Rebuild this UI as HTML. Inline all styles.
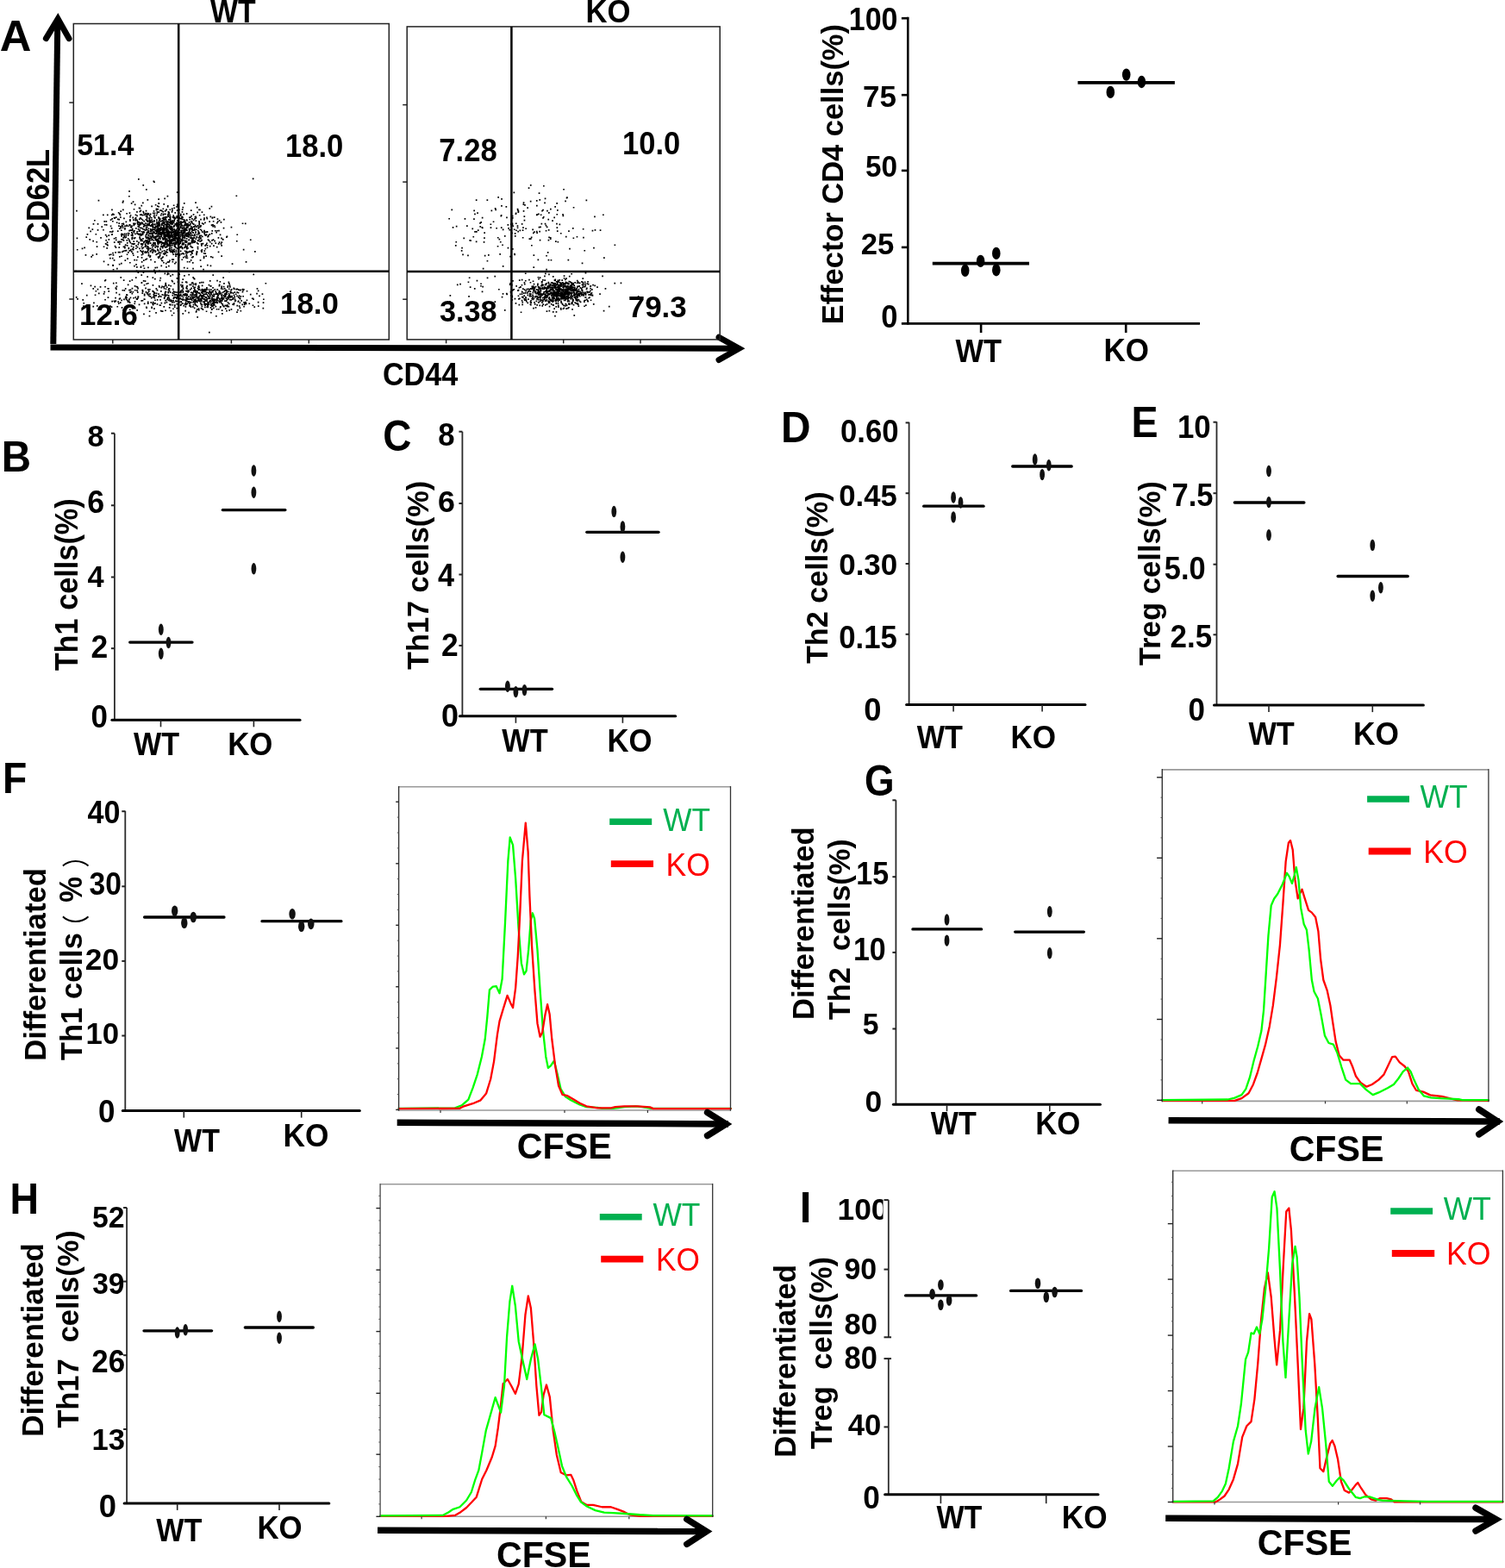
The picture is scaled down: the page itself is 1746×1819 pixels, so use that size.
<!DOCTYPE html>
<html><head><meta charset="utf-8"><title>Figure</title>
<style>html,body{margin:0;padding:0;background:#fff;overflow:hidden;}svg{display:block;}</style>
</head><body>
<svg width="1746" height="1819" viewBox="0 0 1746 1819">
<rect width="1746" height="1819" fill="#fff"/>
<text transform="translate(-0.27,58.60) scale(1.0083,1)" font-family="&quot;Liberation Sans&quot;, Arial, sans-serif" font-weight="bold" font-size="50.33" fill="#000" style="white-space:pre">A</text>
<line x1="61.80" y1="399.00" x2="66.80" y2="24.00" stroke="#000" stroke-width="7" stroke-linecap="butt"/>
<polyline points="53.40,44.60 67.20,22.00 80.00,44.60" fill="none" stroke="#000" stroke-width="7" stroke-linecap="round" stroke-linejoin="miter"/>
<line x1="58.50" y1="402.90" x2="856.00" y2="404.20" stroke="#000" stroke-width="7" stroke-linecap="butt"/>
<polyline points="834.00,391.20 857.30,404.30 834.00,417.50" fill="none" stroke="#000" stroke-width="7" stroke-linecap="round" stroke-linejoin="miter"/>
<rect x="85.3" y="27.5" width="366.0" height="366.5" fill="none" stroke="#222" stroke-width="1.5"/>
<line x1="80.30" y1="119.00" x2="85.30" y2="119.00" stroke="#222" stroke-width="1.5" stroke-linecap="butt"/>
<line x1="80.30" y1="209.20" x2="85.30" y2="209.20" stroke="#222" stroke-width="1.5" stroke-linecap="butt"/>
<line x1="80.30" y1="347.00" x2="85.30" y2="347.00" stroke="#222" stroke-width="1.5" stroke-linecap="butt"/>
<line x1="130.80" y1="394.00" x2="130.80" y2="398.50" stroke="#222" stroke-width="1.5" stroke-linecap="butt"/>
<line x1="268.40" y1="394.00" x2="268.40" y2="398.50" stroke="#222" stroke-width="1.5" stroke-linecap="butt"/>
<line x1="358.30" y1="394.00" x2="358.30" y2="398.50" stroke="#222" stroke-width="1.5" stroke-linecap="butt"/>
<rect x="472.2" y="30.9" width="363.00000000000006" height="363.0" fill="none" stroke="#222" stroke-width="1.5"/>
<line x1="467.20" y1="121.60" x2="472.20" y2="121.60" stroke="#222" stroke-width="1.5" stroke-linecap="butt"/>
<line x1="467.20" y1="211.10" x2="472.20" y2="211.10" stroke="#222" stroke-width="1.5" stroke-linecap="butt"/>
<line x1="467.20" y1="347.20" x2="472.20" y2="347.20" stroke="#222" stroke-width="1.5" stroke-linecap="butt"/>
<line x1="517.60" y1="393.90" x2="517.60" y2="398.40" stroke="#222" stroke-width="1.5" stroke-linecap="butt"/>
<line x1="653.70" y1="393.90" x2="653.70" y2="398.40" stroke="#222" stroke-width="1.5" stroke-linecap="butt"/>
<line x1="743.00" y1="393.90" x2="743.00" y2="398.40" stroke="#222" stroke-width="1.5" stroke-linecap="butt"/>
<path d="M197.0 274.9h1.7v1.7h-1.7zM191.2 259.4h1.7v1.7h-1.7zM187.5 258.1h1.7v1.7h-1.7zM198.3 288.4h1.7v1.7h-1.7zM186.7 262.9h1.7v1.7h-1.7zM207.3 275.6h1.7v1.7h-1.7zM199.2 258.9h1.7v1.7h-1.7zM196.4 280.0h1.7v1.7h-1.7zM168.8 265.1h1.7v1.7h-1.7zM157.1 254.2h1.7v1.7h-1.7zM158.3 267.9h1.7v1.7h-1.7zM170.4 274.5h1.7v1.7h-1.7zM200.3 268.6h1.7v1.7h-1.7zM144.1 264.0h1.7v1.7h-1.7zM196.0 272.5h1.7v1.7h-1.7zM164.9 264.8h1.7v1.7h-1.7zM176.5 260.5h1.7v1.7h-1.7zM219.3 260.5h1.7v1.7h-1.7zM196.3 282.5h1.7v1.7h-1.7zM184.7 269.5h1.7v1.7h-1.7zM199.3 271.8h1.7v1.7h-1.7zM171.3 272.0h1.7v1.7h-1.7zM225.5 250.9h1.7v1.7h-1.7zM215.0 272.6h1.7v1.7h-1.7zM183.5 297.0h1.7v1.7h-1.7zM213.0 255.4h1.7v1.7h-1.7zM198.6 278.5h1.7v1.7h-1.7zM193.0 279.9h1.7v1.7h-1.7zM195.6 279.7h1.7v1.7h-1.7zM227.2 262.2h1.7v1.7h-1.7zM201.3 265.0h1.7v1.7h-1.7zM199.7 255.6h1.7v1.7h-1.7zM184.8 268.4h1.7v1.7h-1.7zM215.9 285.9h1.7v1.7h-1.7zM169.2 260.7h1.7v1.7h-1.7zM210.6 245.1h1.7v1.7h-1.7zM187.3 269.7h1.7v1.7h-1.7zM223.4 280.0h1.7v1.7h-1.7zM190.1 266.2h1.7v1.7h-1.7zM191.7 290.8h1.7v1.7h-1.7zM188.0 267.1h1.7v1.7h-1.7zM204.4 269.4h1.7v1.7h-1.7zM192.9 256.5h1.7v1.7h-1.7zM196.8 265.2h1.7v1.7h-1.7zM221.5 279.5h1.7v1.7h-1.7zM196.5 279.7h1.7v1.7h-1.7zM189.9 284.7h1.7v1.7h-1.7zM196.9 278.6h1.7v1.7h-1.7zM169.9 275.5h1.7v1.7h-1.7zM161.5 244.5h1.7v1.7h-1.7zM190.6 259.3h1.7v1.7h-1.7zM200.4 300.2h1.7v1.7h-1.7zM179.5 262.9h1.7v1.7h-1.7zM201.3 277.4h1.7v1.7h-1.7zM193.3 268.3h1.7v1.7h-1.7zM211.8 277.8h1.7v1.7h-1.7zM175.3 270.0h1.7v1.7h-1.7zM197.7 257.3h1.7v1.7h-1.7zM202.5 259.8h1.7v1.7h-1.7zM217.4 273.5h1.7v1.7h-1.7zM198.9 263.3h1.7v1.7h-1.7zM194.5 245.0h1.7v1.7h-1.7zM173.2 275.7h1.7v1.7h-1.7zM152.3 282.0h1.7v1.7h-1.7zM160.3 280.8h1.7v1.7h-1.7zM179.2 281.1h1.7v1.7h-1.7zM199.7 251.0h1.7v1.7h-1.7zM223.2 289.7h1.7v1.7h-1.7zM195.6 267.4h1.7v1.7h-1.7zM193.6 258.3h1.7v1.7h-1.7zM220.1 263.9h1.7v1.7h-1.7zM195.9 260.7h1.7v1.7h-1.7zM183.9 254.4h1.7v1.7h-1.7zM223.4 269.0h1.7v1.7h-1.7zM217.3 271.2h1.7v1.7h-1.7zM182.4 266.8h1.7v1.7h-1.7zM185.2 271.1h1.7v1.7h-1.7zM189.1 267.1h1.7v1.7h-1.7zM168.0 260.5h1.7v1.7h-1.7zM231.7 262.3h1.7v1.7h-1.7zM174.9 275.4h1.7v1.7h-1.7zM226.6 252.1h1.7v1.7h-1.7zM192.6 262.8h1.7v1.7h-1.7zM160.0 280.6h1.7v1.7h-1.7zM196.5 271.9h1.7v1.7h-1.7zM181.2 276.9h1.7v1.7h-1.7zM185.7 269.1h1.7v1.7h-1.7zM173.7 255.2h1.7v1.7h-1.7zM225.0 264.4h1.7v1.7h-1.7zM203.1 270.6h1.7v1.7h-1.7zM187.7 264.4h1.7v1.7h-1.7zM210.2 267.1h1.7v1.7h-1.7zM193.8 271.3h1.7v1.7h-1.7zM221.7 279.8h1.7v1.7h-1.7zM205.0 263.7h1.7v1.7h-1.7zM168.0 283.3h1.7v1.7h-1.7zM217.3 269.2h1.7v1.7h-1.7zM208.4 281.2h1.7v1.7h-1.7zM214.5 283.0h1.7v1.7h-1.7zM187.4 290.7h1.7v1.7h-1.7zM170.8 282.2h1.7v1.7h-1.7zM207.4 282.4h1.7v1.7h-1.7zM236.5 290.3h1.7v1.7h-1.7zM173.0 249.0h1.7v1.7h-1.7zM214.2 257.8h1.7v1.7h-1.7zM196.7 281.9h1.7v1.7h-1.7zM162.5 243.6h1.7v1.7h-1.7zM202.4 271.6h1.7v1.7h-1.7zM191.8 271.5h1.7v1.7h-1.7zM178.9 251.3h1.7v1.7h-1.7zM193.5 258.4h1.7v1.7h-1.7zM162.5 277.6h1.7v1.7h-1.7zM195.7 276.3h1.7v1.7h-1.7zM176.2 262.4h1.7v1.7h-1.7zM176.0 259.5h1.7v1.7h-1.7zM201.1 260.8h1.7v1.7h-1.7zM204.5 275.4h1.7v1.7h-1.7zM239.5 252.9h1.7v1.7h-1.7zM215.6 269.8h1.7v1.7h-1.7zM196.7 252.2h1.7v1.7h-1.7zM187.3 280.7h1.7v1.7h-1.7zM195.3 272.1h1.7v1.7h-1.7zM190.9 286.0h1.7v1.7h-1.7zM196.5 242.4h1.7v1.7h-1.7zM182.5 245.4h1.7v1.7h-1.7zM128.7 264.1h1.7v1.7h-1.7zM225.0 271.6h1.7v1.7h-1.7zM172.4 258.8h1.7v1.7h-1.7zM220.7 273.0h1.7v1.7h-1.7zM198.0 270.3h1.7v1.7h-1.7zM197.8 281.5h1.7v1.7h-1.7zM208.6 273.8h1.7v1.7h-1.7zM175.1 277.6h1.7v1.7h-1.7zM182.6 285.2h1.7v1.7h-1.7zM170.3 269.2h1.7v1.7h-1.7zM196.8 253.8h1.7v1.7h-1.7zM233.2 290.0h1.7v1.7h-1.7zM187.3 281.0h1.7v1.7h-1.7zM205.0 237.0h1.7v1.7h-1.7zM202.3 270.2h1.7v1.7h-1.7zM198.7 257.0h1.7v1.7h-1.7zM191.3 268.7h1.7v1.7h-1.7zM221.9 275.3h1.7v1.7h-1.7zM196.9 290.9h1.7v1.7h-1.7zM185.3 265.9h1.7v1.7h-1.7zM158.8 291.4h1.7v1.7h-1.7zM217.3 282.9h1.7v1.7h-1.7zM211.0 272.4h1.7v1.7h-1.7zM201.5 267.7h1.7v1.7h-1.7zM192.7 271.7h1.7v1.7h-1.7zM228.7 278.2h1.7v1.7h-1.7zM195.8 263.5h1.7v1.7h-1.7zM183.7 291.8h1.7v1.7h-1.7zM207.6 271.9h1.7v1.7h-1.7zM189.7 256.6h1.7v1.7h-1.7zM195.6 282.4h1.7v1.7h-1.7zM188.8 268.0h1.7v1.7h-1.7zM192.4 272.4h1.7v1.7h-1.7zM163.5 267.9h1.7v1.7h-1.7zM179.1 282.5h1.7v1.7h-1.7zM180.8 278.5h1.7v1.7h-1.7zM229.0 266.9h1.7v1.7h-1.7zM184.4 273.5h1.7v1.7h-1.7zM197.0 258.1h1.7v1.7h-1.7zM206.7 297.2h1.7v1.7h-1.7zM191.6 268.4h1.7v1.7h-1.7zM175.1 275.1h1.7v1.7h-1.7zM170.8 256.6h1.7v1.7h-1.7zM223.9 259.2h1.7v1.7h-1.7zM219.7 290.8h1.7v1.7h-1.7zM202.4 278.2h1.7v1.7h-1.7zM238.0 268.4h1.7v1.7h-1.7zM184.5 253.4h1.7v1.7h-1.7zM197.9 290.2h1.7v1.7h-1.7zM217.2 258.8h1.7v1.7h-1.7zM179.0 264.4h1.7v1.7h-1.7zM203.1 268.3h1.7v1.7h-1.7zM201.5 274.9h1.7v1.7h-1.7zM190.7 270.5h1.7v1.7h-1.7zM201.3 269.9h1.7v1.7h-1.7zM207.6 295.3h1.7v1.7h-1.7zM209.4 271.7h1.7v1.7h-1.7zM161.6 276.0h1.7v1.7h-1.7zM156.1 252.7h1.7v1.7h-1.7zM214.9 280.2h1.7v1.7h-1.7zM193.9 248.8h1.7v1.7h-1.7zM189.2 262.2h1.7v1.7h-1.7zM210.4 300.4h1.7v1.7h-1.7zM201.6 260.9h1.7v1.7h-1.7zM172.4 270.3h1.7v1.7h-1.7zM193.3 256.0h1.7v1.7h-1.7zM199.4 256.0h1.7v1.7h-1.7zM220.4 284.8h1.7v1.7h-1.7zM219.8 264.8h1.7v1.7h-1.7zM207.8 269.3h1.7v1.7h-1.7zM188.8 266.6h1.7v1.7h-1.7zM169.7 252.2h1.7v1.7h-1.7zM213.7 268.5h1.7v1.7h-1.7zM201.5 284.0h1.7v1.7h-1.7zM160.6 260.8h1.7v1.7h-1.7zM200.7 276.1h1.7v1.7h-1.7zM189.1 284.4h1.7v1.7h-1.7zM201.4 255.2h1.7v1.7h-1.7zM177.5 281.5h1.7v1.7h-1.7zM206.7 246.3h1.7v1.7h-1.7zM225.3 278.8h1.7v1.7h-1.7zM225.2 266.0h1.7v1.7h-1.7zM190.8 256.4h1.7v1.7h-1.7zM250.3 268.7h1.7v1.7h-1.7zM230.3 262.6h1.7v1.7h-1.7zM200.4 249.3h1.7v1.7h-1.7zM189.0 283.8h1.7v1.7h-1.7zM170.7 284.9h1.7v1.7h-1.7zM204.1 257.4h1.7v1.7h-1.7zM186.5 265.0h1.7v1.7h-1.7zM196.0 264.0h1.7v1.7h-1.7zM179.6 267.0h1.7v1.7h-1.7zM175.4 254.2h1.7v1.7h-1.7zM196.0 282.5h1.7v1.7h-1.7zM164.9 271.0h1.7v1.7h-1.7zM183.4 258.3h1.7v1.7h-1.7zM214.9 264.3h1.7v1.7h-1.7zM228.5 260.9h1.7v1.7h-1.7zM205.1 268.0h1.7v1.7h-1.7zM181.2 278.6h1.7v1.7h-1.7zM193.7 278.8h1.7v1.7h-1.7zM196.0 256.9h1.7v1.7h-1.7zM194.9 271.7h1.7v1.7h-1.7zM217.1 259.2h1.7v1.7h-1.7zM196.2 248.6h1.7v1.7h-1.7zM210.7 256.9h1.7v1.7h-1.7zM159.1 270.2h1.7v1.7h-1.7zM220.2 251.2h1.7v1.7h-1.7zM174.2 261.3h1.7v1.7h-1.7zM173.3 275.9h1.7v1.7h-1.7zM180.0 261.6h1.7v1.7h-1.7zM209.2 261.2h1.7v1.7h-1.7zM206.1 258.4h1.7v1.7h-1.7zM171.5 247.1h1.7v1.7h-1.7zM236.1 266.8h1.7v1.7h-1.7zM202.1 270.6h1.7v1.7h-1.7zM200.4 271.6h1.7v1.7h-1.7zM237.1 257.5h1.7v1.7h-1.7zM164.3 257.8h1.7v1.7h-1.7zM169.0 280.7h1.7v1.7h-1.7zM214.2 258.5h1.7v1.7h-1.7zM167.8 266.4h1.7v1.7h-1.7zM226.2 234.3h1.7v1.7h-1.7zM208.1 257.0h1.7v1.7h-1.7zM218.8 257.0h1.7v1.7h-1.7zM191.0 251.4h1.7v1.7h-1.7zM176.5 289.0h1.7v1.7h-1.7zM214.2 265.8h1.7v1.7h-1.7zM178.7 246.4h1.7v1.7h-1.7zM188.7 270.6h1.7v1.7h-1.7zM195.2 269.8h1.7v1.7h-1.7zM173.4 270.1h1.7v1.7h-1.7zM196.2 287.8h1.7v1.7h-1.7zM236.2 269.2h1.7v1.7h-1.7zM180.9 270.2h1.7v1.7h-1.7zM184.2 261.3h1.7v1.7h-1.7zM195.8 257.4h1.7v1.7h-1.7zM209.7 269.6h1.7v1.7h-1.7zM202.3 268.6h1.7v1.7h-1.7zM181.7 258.7h1.7v1.7h-1.7zM192.0 263.9h1.7v1.7h-1.7zM201.9 270.9h1.7v1.7h-1.7zM168.4 271.9h1.7v1.7h-1.7zM168.8 263.0h1.7v1.7h-1.7zM190.8 244.0h1.7v1.7h-1.7zM198.9 273.0h1.7v1.7h-1.7zM193.7 265.5h1.7v1.7h-1.7zM189.2 258.3h1.7v1.7h-1.7zM191.3 263.8h1.7v1.7h-1.7zM198.9 255.3h1.7v1.7h-1.7zM201.9 272.9h1.7v1.7h-1.7zM194.0 265.3h1.7v1.7h-1.7zM208.6 249.4h1.7v1.7h-1.7zM206.7 274.2h1.7v1.7h-1.7zM203.0 276.0h1.7v1.7h-1.7zM183.3 267.6h1.7v1.7h-1.7zM210.4 276.6h1.7v1.7h-1.7zM201.3 251.3h1.7v1.7h-1.7zM208.3 286.2h1.7v1.7h-1.7zM218.2 274.0h1.7v1.7h-1.7zM164.3 283.3h1.7v1.7h-1.7zM193.9 238.1h1.7v1.7h-1.7zM204.9 251.6h1.7v1.7h-1.7zM169.8 262.7h1.7v1.7h-1.7zM223.7 266.2h1.7v1.7h-1.7zM202.7 293.7h1.7v1.7h-1.7zM230.5 269.7h1.7v1.7h-1.7zM191.9 254.6h1.7v1.7h-1.7zM182.4 276.5h1.7v1.7h-1.7zM205.3 272.4h1.7v1.7h-1.7zM217.9 261.0h1.7v1.7h-1.7zM195.8 280.5h1.7v1.7h-1.7zM209.3 284.9h1.7v1.7h-1.7zM205.3 267.0h1.7v1.7h-1.7zM204.6 258.0h1.7v1.7h-1.7zM162.6 278.5h1.7v1.7h-1.7zM195.8 275.0h1.7v1.7h-1.7zM161.3 266.3h1.7v1.7h-1.7zM184.4 259.8h1.7v1.7h-1.7zM149.6 266.6h1.7v1.7h-1.7zM215.8 276.0h1.7v1.7h-1.7zM184.4 270.8h1.7v1.7h-1.7zM212.9 235.1h1.7v1.7h-1.7zM194.4 278.1h1.7v1.7h-1.7zM211.3 293.1h1.7v1.7h-1.7zM220.8 275.1h1.7v1.7h-1.7zM203.3 281.2h1.7v1.7h-1.7zM185.7 270.5h1.7v1.7h-1.7zM216.0 296.4h1.7v1.7h-1.7zM193.7 270.4h1.7v1.7h-1.7zM201.2 288.5h1.7v1.7h-1.7zM196.4 290.1h1.7v1.7h-1.7zM176.7 268.6h1.7v1.7h-1.7zM192.8 281.2h1.7v1.7h-1.7zM219.0 251.4h1.7v1.7h-1.7zM177.8 275.4h1.7v1.7h-1.7zM183.2 251.2h1.7v1.7h-1.7zM218.8 277.4h1.7v1.7h-1.7zM207.4 264.8h1.7v1.7h-1.7zM218.6 267.9h1.7v1.7h-1.7zM220.0 259.1h1.7v1.7h-1.7zM179.1 273.7h1.7v1.7h-1.7zM182.3 279.8h1.7v1.7h-1.7zM202.5 259.0h1.7v1.7h-1.7zM198.5 266.4h1.7v1.7h-1.7zM216.2 262.8h1.7v1.7h-1.7zM187.8 286.7h1.7v1.7h-1.7zM244.0 297.0h1.7v1.7h-1.7zM198.3 273.8h1.7v1.7h-1.7zM229.2 269.4h1.7v1.7h-1.7zM176.5 272.5h1.7v1.7h-1.7zM206.5 260.2h1.7v1.7h-1.7zM162.4 252.3h1.7v1.7h-1.7zM211.0 261.1h1.7v1.7h-1.7zM194.0 273.8h1.7v1.7h-1.7zM210.0 266.6h1.7v1.7h-1.7zM207.5 259.4h1.7v1.7h-1.7zM189.4 257.7h1.7v1.7h-1.7zM220.8 270.6h1.7v1.7h-1.7zM181.5 266.4h1.7v1.7h-1.7zM192.3 280.1h1.7v1.7h-1.7zM163.5 257.5h1.7v1.7h-1.7zM189.1 303.9h1.7v1.7h-1.7zM217.1 269.6h1.7v1.7h-1.7zM212.0 297.7h1.7v1.7h-1.7zM192.1 266.2h1.7v1.7h-1.7zM222.5 277.4h1.7v1.7h-1.7zM211.1 264.4h1.7v1.7h-1.7zM237.4 293.2h1.7v1.7h-1.7zM208.9 279.9h1.7v1.7h-1.7zM154.4 279.3h1.7v1.7h-1.7zM192.9 276.6h1.7v1.7h-1.7zM211.3 266.6h1.7v1.7h-1.7zM161.5 275.8h1.7v1.7h-1.7zM181.4 266.7h1.7v1.7h-1.7zM184.3 266.6h1.7v1.7h-1.7zM148.5 286.8h1.7v1.7h-1.7zM202.3 285.4h1.7v1.7h-1.7zM238.6 271.3h1.7v1.7h-1.7zM159.1 259.4h1.7v1.7h-1.7zM171.7 264.5h1.7v1.7h-1.7zM198.7 245.0h1.7v1.7h-1.7zM204.2 251.4h1.7v1.7h-1.7zM203.2 269.6h1.7v1.7h-1.7zM190.4 270.1h1.7v1.7h-1.7zM185.7 263.0h1.7v1.7h-1.7zM161.7 270.6h1.7v1.7h-1.7zM235.8 296.7h1.7v1.7h-1.7zM224.8 280.2h1.7v1.7h-1.7zM182.8 289.8h1.7v1.7h-1.7zM195.8 270.1h1.7v1.7h-1.7zM190.9 272.2h1.7v1.7h-1.7zM187.9 269.9h1.7v1.7h-1.7zM174.2 266.1h1.7v1.7h-1.7zM244.9 270.1h1.7v1.7h-1.7zM192.0 277.9h1.7v1.7h-1.7zM211.9 256.5h1.7v1.7h-1.7zM192.6 282.9h1.7v1.7h-1.7zM202.7 272.6h1.7v1.7h-1.7zM229.6 262.2h1.7v1.7h-1.7zM198.7 264.2h1.7v1.7h-1.7zM228.3 245.6h1.7v1.7h-1.7zM182.9 264.1h1.7v1.7h-1.7zM210.9 278.9h1.7v1.7h-1.7zM226.3 250.5h1.7v1.7h-1.7zM212.8 267.2h1.7v1.7h-1.7zM183.0 278.0h1.7v1.7h-1.7zM177.7 244.0h1.7v1.7h-1.7zM189.2 251.5h1.7v1.7h-1.7zM183.4 275.8h1.7v1.7h-1.7zM203.6 291.6h1.7v1.7h-1.7zM192.8 251.1h1.7v1.7h-1.7zM181.1 259.0h1.7v1.7h-1.7zM171.4 276.7h1.7v1.7h-1.7zM183.5 245.3h1.7v1.7h-1.7zM211.6 269.6h1.7v1.7h-1.7zM204.5 272.4h1.7v1.7h-1.7zM210.3 271.5h1.7v1.7h-1.7zM223.0 276.5h1.7v1.7h-1.7zM205.2 276.3h1.7v1.7h-1.7zM166.4 268.9h1.7v1.7h-1.7zM191.6 273.7h1.7v1.7h-1.7zM168.5 292.2h1.7v1.7h-1.7zM199.2 255.3h1.7v1.7h-1.7zM161.1 267.3h1.7v1.7h-1.7zM195.1 261.7h1.7v1.7h-1.7zM198.9 262.7h1.7v1.7h-1.7zM208.6 261.6h1.7v1.7h-1.7zM196.2 283.7h1.7v1.7h-1.7zM251.0 257.9h1.7v1.7h-1.7zM187.2 260.1h1.7v1.7h-1.7zM213.5 256.1h1.7v1.7h-1.7zM186.8 270.6h1.7v1.7h-1.7zM176.4 258.6h1.7v1.7h-1.7zM187.0 243.7h1.7v1.7h-1.7zM166.6 265.6h1.7v1.7h-1.7zM200.1 268.6h1.7v1.7h-1.7zM159.7 265.0h1.7v1.7h-1.7zM213.8 278.2h1.7v1.7h-1.7zM195.3 259.5h1.7v1.7h-1.7zM210.3 263.5h1.7v1.7h-1.7zM172.4 260.6h1.7v1.7h-1.7zM227.4 273.9h1.7v1.7h-1.7zM221.3 264.8h1.7v1.7h-1.7zM216.7 263.2h1.7v1.7h-1.7zM193.7 303.3h1.7v1.7h-1.7zM213.1 264.5h1.7v1.7h-1.7zM195.2 275.2h1.7v1.7h-1.7zM222.4 264.6h1.7v1.7h-1.7zM160.4 267.4h1.7v1.7h-1.7zM197.3 272.4h1.7v1.7h-1.7zM224.7 275.1h1.7v1.7h-1.7zM214.1 256.7h1.7v1.7h-1.7zM215.2 298.3h1.7v1.7h-1.7zM213.2 274.3h1.7v1.7h-1.7zM200.2 294.2h1.7v1.7h-1.7zM177.5 269.6h1.7v1.7h-1.7zM206.7 280.7h1.7v1.7h-1.7zM187.8 275.0h1.7v1.7h-1.7zM191.2 272.6h1.7v1.7h-1.7zM194.2 256.2h1.7v1.7h-1.7zM196.6 282.4h1.7v1.7h-1.7zM176.7 267.9h1.7v1.7h-1.7zM211.0 257.1h1.7v1.7h-1.7zM200.8 257.2h1.7v1.7h-1.7zM220.8 301.1h1.7v1.7h-1.7zM239.5 268.2h1.7v1.7h-1.7zM212.5 272.6h1.7v1.7h-1.7zM199.1 291.1h1.7v1.7h-1.7zM169.3 284.7h1.7v1.7h-1.7zM196.0 289.3h1.7v1.7h-1.7zM200.9 262.3h1.7v1.7h-1.7zM202.8 280.6h1.7v1.7h-1.7zM197.8 277.3h1.7v1.7h-1.7zM186.0 243.3h1.7v1.7h-1.7zM215.9 280.1h1.7v1.7h-1.7zM200.1 271.9h1.7v1.7h-1.7zM218.8 265.1h1.7v1.7h-1.7zM182.2 268.5h1.7v1.7h-1.7zM222.0 253.0h1.7v1.7h-1.7zM222.0 262.7h1.7v1.7h-1.7zM173.9 287.4h1.7v1.7h-1.7zM195.0 254.1h1.7v1.7h-1.7zM189.5 283.1h1.7v1.7h-1.7zM222.0 265.4h1.7v1.7h-1.7zM205.5 280.3h1.7v1.7h-1.7zM183.5 275.6h1.7v1.7h-1.7zM196.3 264.0h1.7v1.7h-1.7zM186.7 271.9h1.7v1.7h-1.7zM197.6 263.6h1.7v1.7h-1.7zM188.1 285.5h1.7v1.7h-1.7zM201.5 282.5h1.7v1.7h-1.7zM222.2 278.7h1.7v1.7h-1.7zM244.7 260.3h1.7v1.7h-1.7zM214.0 266.9h1.7v1.7h-1.7zM236.0 293.1h1.7v1.7h-1.7zM156.0 258.4h1.7v1.7h-1.7zM211.0 281.3h1.7v1.7h-1.7zM212.5 270.1h1.7v1.7h-1.7zM206.6 279.5h1.7v1.7h-1.7zM195.4 284.4h1.7v1.7h-1.7zM149.6 279.2h1.7v1.7h-1.7zM175.3 283.5h1.7v1.7h-1.7zM192.2 259.4h1.7v1.7h-1.7zM204.9 259.2h1.7v1.7h-1.7zM177.8 250.6h1.7v1.7h-1.7zM196.4 277.5h1.7v1.7h-1.7zM218.5 269.2h1.7v1.7h-1.7zM219.0 271.2h1.7v1.7h-1.7zM195.0 278.5h1.7v1.7h-1.7zM219.2 266.6h1.7v1.7h-1.7zM191.9 268.9h1.7v1.7h-1.7zM198.7 259.3h1.7v1.7h-1.7zM218.6 265.8h1.7v1.7h-1.7zM206.7 260.3h1.7v1.7h-1.7zM204.5 276.1h1.7v1.7h-1.7zM188.2 297.3h1.7v1.7h-1.7zM204.8 294.1h1.7v1.7h-1.7zM217.1 262.4h1.7v1.7h-1.7zM189.0 276.7h1.7v1.7h-1.7zM198.3 271.6h1.7v1.7h-1.7zM191.0 247.5h1.7v1.7h-1.7zM192.3 242.2h1.7v1.7h-1.7zM204.8 261.6h1.7v1.7h-1.7zM182.0 268.1h1.7v1.7h-1.7zM202.7 252.4h1.7v1.7h-1.7zM160.3 257.1h1.7v1.7h-1.7zM154.1 258.4h1.7v1.7h-1.7zM230.4 257.3h1.7v1.7h-1.7zM210.7 253.2h1.7v1.7h-1.7zM203.3 266.8h1.7v1.7h-1.7zM195.7 278.4h1.7v1.7h-1.7zM233.9 273.5h1.7v1.7h-1.7zM199.6 258.3h1.7v1.7h-1.7zM209.3 267.8h1.7v1.7h-1.7zM214.5 270.4h1.7v1.7h-1.7zM233.6 245.2h1.7v1.7h-1.7zM190.8 282.5h1.7v1.7h-1.7zM189.6 260.7h1.7v1.7h-1.7zM191.4 253.1h1.7v1.7h-1.7zM199.5 302.7h1.7v1.7h-1.7zM221.0 256.6h1.7v1.7h-1.7zM178.7 265.7h1.7v1.7h-1.7zM218.1 260.3h1.7v1.7h-1.7zM182.5 282.5h1.7v1.7h-1.7zM215.2 266.1h1.7v1.7h-1.7zM173.5 250.9h1.7v1.7h-1.7zM182.3 242.0h1.7v1.7h-1.7zM212.7 262.8h1.7v1.7h-1.7zM207.1 295.3h1.7v1.7h-1.7zM221.6 256.0h1.7v1.7h-1.7zM215.3 286.1h1.7v1.7h-1.7zM181.3 258.6h1.7v1.7h-1.7zM194.7 250.2h1.7v1.7h-1.7zM227.9 239.7h1.7v1.7h-1.7zM173.8 267.5h1.7v1.7h-1.7zM192.2 273.2h1.7v1.7h-1.7zM202.7 268.2h1.7v1.7h-1.7zM220.9 243.2h1.7v1.7h-1.7zM197.0 261.7h1.7v1.7h-1.7zM199.8 273.9h1.7v1.7h-1.7zM177.9 262.7h1.7v1.7h-1.7zM213.6 275.5h1.7v1.7h-1.7zM182.7 297.5h1.7v1.7h-1.7zM245.5 252.0h1.7v1.7h-1.7zM203.3 303.6h1.7v1.7h-1.7zM213.5 273.9h1.7v1.7h-1.7zM192.6 264.0h1.7v1.7h-1.7zM192.5 263.8h1.7v1.7h-1.7zM212.6 265.8h1.7v1.7h-1.7zM187.7 255.4h1.7v1.7h-1.7zM196.0 259.4h1.7v1.7h-1.7zM193.2 284.5h1.7v1.7h-1.7zM204.7 277.6h1.7v1.7h-1.7zM204.5 271.8h1.7v1.7h-1.7zM194.3 267.0h1.7v1.7h-1.7zM212.9 256.9h1.7v1.7h-1.7zM225.2 271.4h1.7v1.7h-1.7zM181.3 264.6h1.7v1.7h-1.7zM182.8 273.1h1.7v1.7h-1.7zM181.9 285.8h1.7v1.7h-1.7zM180.6 241.5h1.7v1.7h-1.7zM181.6 244.9h1.7v1.7h-1.7zM196.2 284.8h1.7v1.7h-1.7zM210.6 253.6h1.7v1.7h-1.7zM181.0 294.1h1.7v1.7h-1.7zM203.7 271.1h1.7v1.7h-1.7zM219.2 302.9h1.7v1.7h-1.7zM224.2 272.8h1.7v1.7h-1.7zM204.4 279.0h1.7v1.7h-1.7zM184.1 257.2h1.7v1.7h-1.7zM198.1 258.7h1.7v1.7h-1.7zM195.7 272.2h1.7v1.7h-1.7zM246.2 259.9h1.7v1.7h-1.7zM194.4 268.9h1.7v1.7h-1.7zM206.2 284.6h1.7v1.7h-1.7zM186.7 260.3h1.7v1.7h-1.7zM162.5 259.0h1.7v1.7h-1.7zM208.3 271.6h1.7v1.7h-1.7zM175.7 266.2h1.7v1.7h-1.7zM197.7 277.5h1.7v1.7h-1.7zM184.5 267.7h1.7v1.7h-1.7zM158.8 256.0h1.7v1.7h-1.7zM231.0 242.6h1.7v1.7h-1.7zM189.9 273.8h1.7v1.7h-1.7zM189.1 260.5h1.7v1.7h-1.7zM195.7 270.9h1.7v1.7h-1.7zM195.3 246.6h1.7v1.7h-1.7zM193.9 259.9h1.7v1.7h-1.7zM185.5 274.0h1.7v1.7h-1.7zM210.5 282.7h1.7v1.7h-1.7zM186.6 283.0h1.7v1.7h-1.7zM221.6 285.8h1.7v1.7h-1.7zM226.2 269.1h1.7v1.7h-1.7zM193.3 281.7h1.7v1.7h-1.7zM168.3 273.7h1.7v1.7h-1.7zM185.9 266.2h1.7v1.7h-1.7zM160.4 259.4h1.7v1.7h-1.7zM196.6 282.5h1.7v1.7h-1.7zM217.8 270.0h1.7v1.7h-1.7zM193.0 260.2h1.7v1.7h-1.7zM205.4 267.8h1.7v1.7h-1.7zM209.7 293.8h1.7v1.7h-1.7zM196.3 251.5h1.7v1.7h-1.7zM178.9 252.0h1.7v1.7h-1.7zM171.9 288.0h1.7v1.7h-1.7zM201.8 251.2h1.7v1.7h-1.7zM210.7 287.4h1.7v1.7h-1.7zM189.4 262.2h1.7v1.7h-1.7zM189.9 274.7h1.7v1.7h-1.7zM210.4 286.4h1.7v1.7h-1.7zM222.5 286.4h1.7v1.7h-1.7zM225.6 279.6h1.7v1.7h-1.7zM164.9 269.3h1.7v1.7h-1.7zM203.6 266.0h1.7v1.7h-1.7zM216.1 266.3h1.7v1.7h-1.7zM177.6 289.8h1.7v1.7h-1.7zM211.0 273.9h1.7v1.7h-1.7zM216.5 284.8h1.7v1.7h-1.7zM204.2 239.1h1.7v1.7h-1.7zM182.8 265.1h1.7v1.7h-1.7zM176.3 273.6h1.7v1.7h-1.7zM222.0 264.7h1.7v1.7h-1.7zM173.2 297.4h1.7v1.7h-1.7zM187.5 255.0h1.7v1.7h-1.7zM202.0 276.5h1.7v1.7h-1.7zM182.2 281.3h1.7v1.7h-1.7zM186.8 259.0h1.7v1.7h-1.7zM200.8 281.0h1.7v1.7h-1.7zM183.7 275.3h1.7v1.7h-1.7zM195.0 307.7h1.7v1.7h-1.7zM182.1 289.0h1.7v1.7h-1.7zM195.9 269.4h1.7v1.7h-1.7zM212.2 282.6h1.7v1.7h-1.7zM223.6 275.3h1.7v1.7h-1.7zM184.4 264.0h1.7v1.7h-1.7zM207.7 278.6h1.7v1.7h-1.7zM226.4 276.4h1.7v1.7h-1.7zM219.3 290.7h1.7v1.7h-1.7zM200.5 251.7h1.7v1.7h-1.7zM172.2 252.3h1.7v1.7h-1.7zM230.4 260.0h1.7v1.7h-1.7zM222.9 278.6h1.7v1.7h-1.7zM233.0 284.0h1.7v1.7h-1.7zM194.9 268.4h1.7v1.7h-1.7zM198.8 273.3h1.7v1.7h-1.7zM185.9 270.6h1.7v1.7h-1.7zM230.8 248.9h1.7v1.7h-1.7zM202.4 259.2h1.7v1.7h-1.7zM200.9 281.9h1.7v1.7h-1.7zM195.8 281.0h1.7v1.7h-1.7zM163.6 285.4h1.7v1.7h-1.7zM184.3 279.1h1.7v1.7h-1.7zM200.8 237.4h1.7v1.7h-1.7zM181.1 273.9h1.7v1.7h-1.7zM229.6 274.7h1.7v1.7h-1.7zM202.4 252.6h1.7v1.7h-1.7zM227.1 294.5h1.7v1.7h-1.7zM197.6 268.1h1.7v1.7h-1.7zM163.0 282.5h1.7v1.7h-1.7zM253.7 280.3h1.7v1.7h-1.7zM223.5 278.0h1.7v1.7h-1.7zM176.3 288.4h1.7v1.7h-1.7zM171.1 268.3h1.7v1.7h-1.7zM202.9 282.5h1.7v1.7h-1.7zM205.7 276.0h1.7v1.7h-1.7zM181.0 254.2h1.7v1.7h-1.7zM198.3 261.8h1.7v1.7h-1.7zM169.5 254.5h1.7v1.7h-1.7zM186.7 246.9h1.7v1.7h-1.7zM168.7 249.7h1.7v1.7h-1.7zM200.8 276.3h1.7v1.7h-1.7zM239.1 251.5h1.7v1.7h-1.7zM182.7 282.9h1.7v1.7h-1.7zM192.4 266.7h1.7v1.7h-1.7zM232.9 266.6h1.7v1.7h-1.7zM172.7 253.9h1.7v1.7h-1.7zM204.0 275.0h1.7v1.7h-1.7zM168.2 258.2h1.7v1.7h-1.7zM208.2 278.5h1.7v1.7h-1.7zM183.5 279.1h1.7v1.7h-1.7zM209.0 247.8h1.7v1.7h-1.7zM190.4 276.4h1.7v1.7h-1.7zM185.0 243.2h1.7v1.7h-1.7zM191.1 280.8h1.7v1.7h-1.7zM230.2 242.5h1.7v1.7h-1.7zM251.9 256.3h1.7v1.7h-1.7zM217.1 287.0h1.7v1.7h-1.7zM217.6 272.9h1.7v1.7h-1.7zM172.6 279.1h1.7v1.7h-1.7zM182.0 238.2h1.7v1.7h-1.7zM256.4 280.2h1.7v1.7h-1.7zM235.2 259.1h1.7v1.7h-1.7zM227.8 291.7h1.7v1.7h-1.7zM229.6 270.7h1.7v1.7h-1.7zM171.7 268.7h1.7v1.7h-1.7zM150.7 248.9h1.7v1.7h-1.7zM198.9 258.1h1.7v1.7h-1.7zM193.5 269.6h1.7v1.7h-1.7zM237.5 287.9h1.7v1.7h-1.7zM196.1 286.7h1.7v1.7h-1.7zM180.6 266.6h1.7v1.7h-1.7zM216.1 254.9h1.7v1.7h-1.7zM191.1 253.8h1.7v1.7h-1.7zM199.5 292.2h1.7v1.7h-1.7zM181.2 273.9h1.7v1.7h-1.7zM178.2 256.1h1.7v1.7h-1.7zM171.0 289.9h1.7v1.7h-1.7zM246.6 277.3h1.7v1.7h-1.7zM182.0 280.2h1.7v1.7h-1.7zM190.0 281.4h1.7v1.7h-1.7zM203.1 274.6h1.7v1.7h-1.7zM209.8 263.5h1.7v1.7h-1.7zM188.5 248.6h1.7v1.7h-1.7zM187.7 252.5h1.7v1.7h-1.7zM194.0 258.6h1.7v1.7h-1.7zM199.1 276.9h1.7v1.7h-1.7zM167.2 260.4h1.7v1.7h-1.7zM177.2 280.7h1.7v1.7h-1.7zM232.8 282.1h1.7v1.7h-1.7zM189.7 290.0h1.7v1.7h-1.7zM165.2 290.5h1.7v1.7h-1.7zM183.2 234.9h1.7v1.7h-1.7zM252.7 291.5h1.7v1.7h-1.7zM175.3 273.2h1.7v1.7h-1.7zM192.5 272.3h1.7v1.7h-1.7zM165.9 262.1h1.7v1.7h-1.7zM206.8 273.9h1.7v1.7h-1.7zM222.2 272.0h1.7v1.7h-1.7zM246.3 261.7h1.7v1.7h-1.7zM202.4 246.1h1.7v1.7h-1.7zM170.7 288.3h1.7v1.7h-1.7zM177.2 277.9h1.7v1.7h-1.7zM195.7 257.4h1.7v1.7h-1.7zM189.7 264.3h1.7v1.7h-1.7zM186.8 280.8h1.7v1.7h-1.7zM210.7 263.5h1.7v1.7h-1.7zM178.0 274.7h1.7v1.7h-1.7zM194.9 284.4h1.7v1.7h-1.7zM252.8 282.0h1.7v1.7h-1.7zM196.3 268.8h1.7v1.7h-1.7zM179.0 259.2h1.7v1.7h-1.7zM175.9 265.9h1.7v1.7h-1.7zM188.0 280.7h1.7v1.7h-1.7zM188.6 268.4h1.7v1.7h-1.7zM171.4 292.4h1.7v1.7h-1.7zM207.6 294.3h1.7v1.7h-1.7zM213.7 290.4h1.7v1.7h-1.7zM191.8 280.3h1.7v1.7h-1.7zM253.8 255.1h1.7v1.7h-1.7zM221.7 293.1h1.7v1.7h-1.7zM205.8 280.9h1.7v1.7h-1.7zM223.9 262.3h1.7v1.7h-1.7zM205.8 259.5h1.7v1.7h-1.7zM182.5 262.8h1.7v1.7h-1.7zM193.9 272.9h1.7v1.7h-1.7zM206.7 252.1h1.7v1.7h-1.7zM239.6 286.4h1.7v1.7h-1.7zM212.6 266.2h1.7v1.7h-1.7zM195.1 278.3h1.7v1.7h-1.7zM205.9 248.6h1.7v1.7h-1.7zM212.9 309.8h1.7v1.7h-1.7zM157.2 284.3h1.7v1.7h-1.7zM204.9 269.5h1.7v1.7h-1.7zM226.5 255.2h1.7v1.7h-1.7zM200.5 290.5h1.7v1.7h-1.7zM192.8 265.4h1.7v1.7h-1.7zM199.5 265.1h1.7v1.7h-1.7zM230.4 258.9h1.7v1.7h-1.7zM215.8 254.3h1.7v1.7h-1.7zM211.4 269.6h1.7v1.7h-1.7zM141.2 270.9h1.7v1.7h-1.7zM174.0 265.1h1.7v1.7h-1.7zM230.2 256.1h1.7v1.7h-1.7zM174.1 290.3h1.7v1.7h-1.7zM199.5 291.6h1.7v1.7h-1.7zM204.0 259.2h1.7v1.7h-1.7zM195.6 287.4h1.7v1.7h-1.7zM217.3 271.0h1.7v1.7h-1.7zM198.1 269.5h1.7v1.7h-1.7zM184.5 296.8h1.7v1.7h-1.7zM197.2 255.9h1.7v1.7h-1.7zM186.7 280.7h1.7v1.7h-1.7zM210.9 269.2h1.7v1.7h-1.7zM182.6 271.3h1.7v1.7h-1.7zM160.9 253.6h1.7v1.7h-1.7zM214.2 264.6h1.7v1.7h-1.7zM205.1 287.3h1.7v1.7h-1.7zM211.0 271.3h1.7v1.7h-1.7zM242.9 279.9h1.7v1.7h-1.7zM189.3 280.8h1.7v1.7h-1.7zM205.8 259.6h1.7v1.7h-1.7zM198.6 268.8h1.7v1.7h-1.7zM154.5 268.7h1.7v1.7h-1.7zM190.9 265.1h1.7v1.7h-1.7zM161.5 266.3h1.7v1.7h-1.7zM196.1 272.4h1.7v1.7h-1.7zM172.5 279.5h1.7v1.7h-1.7zM170.8 268.0h1.7v1.7h-1.7zM225.2 261.7h1.7v1.7h-1.7zM186.0 285.3h1.7v1.7h-1.7zM188.7 267.0h1.7v1.7h-1.7zM201.8 285.0h1.7v1.7h-1.7zM149.4 259.9h1.7v1.7h-1.7zM175.3 256.5h1.7v1.7h-1.7zM178.6 259.8h1.7v1.7h-1.7zM203.5 259.1h1.7v1.7h-1.7zM199.6 276.3h1.7v1.7h-1.7zM181.3 272.7h1.7v1.7h-1.7zM232.2 275.3h1.7v1.7h-1.7zM183.3 270.1h1.7v1.7h-1.7zM177.3 274.6h1.7v1.7h-1.7zM215.5 260.1h1.7v1.7h-1.7zM192.5 285.8h1.7v1.7h-1.7zM186.3 273.5h1.7v1.7h-1.7zM175.0 260.1h1.7v1.7h-1.7zM186.0 299.3h1.7v1.7h-1.7zM188.4 264.1h1.7v1.7h-1.7zM185.2 268.8h1.7v1.7h-1.7zM210.8 273.5h1.7v1.7h-1.7zM240.2 273.8h1.7v1.7h-1.7zM227.4 274.6h1.7v1.7h-1.7zM209.7 252.2h1.7v1.7h-1.7zM194.3 270.1h1.7v1.7h-1.7zM191.9 243.0h1.7v1.7h-1.7zM215.5 266.0h1.7v1.7h-1.7zM187.8 267.7h1.7v1.7h-1.7zM192.2 276.3h1.7v1.7h-1.7zM170.3 258.9h1.7v1.7h-1.7zM203.1 272.9h1.7v1.7h-1.7zM189.1 263.5h1.7v1.7h-1.7zM179.5 270.2h1.7v1.7h-1.7zM221.8 257.2h1.7v1.7h-1.7zM229.0 282.0h1.7v1.7h-1.7zM187.5 281.2h1.7v1.7h-1.7zM166.2 248.5h1.7v1.7h-1.7zM169.9 265.7h1.7v1.7h-1.7zM190.2 264.3h1.7v1.7h-1.7zM199.1 243.2h1.7v1.7h-1.7zM207.4 252.5h1.7v1.7h-1.7zM183.1 265.6h1.7v1.7h-1.7zM172.7 253.2h1.7v1.7h-1.7zM175.9 270.8h1.7v1.7h-1.7zM209.4 278.3h1.7v1.7h-1.7zM176.1 260.7h1.7v1.7h-1.7zM146.9 281.1h1.7v1.7h-1.7zM106.7 295.3h1.7v1.7h-1.7zM162.5 258.9h1.7v1.7h-1.7zM192.2 291.6h1.7v1.7h-1.7zM192.3 291.9h1.7v1.7h-1.7zM184.8 295.1h1.7v1.7h-1.7zM224.8 271.2h1.7v1.7h-1.7zM231.8 276.0h1.7v1.7h-1.7zM183.1 256.4h1.7v1.7h-1.7zM169.6 287.0h1.7v1.7h-1.7zM132.7 284.7h1.7v1.7h-1.7zM192.6 278.0h1.7v1.7h-1.7zM100.6 271.1h1.7v1.7h-1.7zM203.3 259.3h1.7v1.7h-1.7zM183.3 230.2h1.7v1.7h-1.7zM204.2 261.1h1.7v1.7h-1.7zM211.4 239.8h1.7v1.7h-1.7zM204.9 268.7h1.7v1.7h-1.7zM209.1 256.3h1.7v1.7h-1.7zM157.7 313.4h1.7v1.7h-1.7zM150.1 260.3h1.7v1.7h-1.7zM170.0 254.6h1.7v1.7h-1.7zM222.9 304.1h1.7v1.7h-1.7zM154.7 241.9h1.7v1.7h-1.7zM222.2 293.0h1.7v1.7h-1.7zM209.6 293.8h1.7v1.7h-1.7zM148.8 270.0h1.7v1.7h-1.7zM130.2 247.5h1.7v1.7h-1.7zM215.3 260.9h1.7v1.7h-1.7zM262.1 274.3h1.7v1.7h-1.7zM156.9 287.4h1.7v1.7h-1.7zM244.8 281.8h1.7v1.7h-1.7zM136.2 279.7h1.7v1.7h-1.7zM229.5 264.1h1.7v1.7h-1.7zM152.1 291.3h1.7v1.7h-1.7zM185.0 253.2h1.7v1.7h-1.7zM166.3 259.4h1.7v1.7h-1.7zM190.7 275.0h1.7v1.7h-1.7zM221.4 285.8h1.7v1.7h-1.7zM123.7 280.3h1.7v1.7h-1.7zM212.3 281.2h1.7v1.7h-1.7zM217.1 263.1h1.7v1.7h-1.7zM145.8 289.7h1.7v1.7h-1.7zM141.6 234.1h1.7v1.7h-1.7zM216.9 260.0h1.7v1.7h-1.7zM169.0 247.8h1.7v1.7h-1.7zM132.3 252.2h1.7v1.7h-1.7zM167.0 279.7h1.7v1.7h-1.7zM97.3 286.5h1.7v1.7h-1.7zM137.4 253.8h1.7v1.7h-1.7zM204.4 271.7h1.7v1.7h-1.7zM124.7 306.2h1.7v1.7h-1.7zM149.0 277.5h1.7v1.7h-1.7zM187.2 298.4h1.7v1.7h-1.7zM163.6 291.1h1.7v1.7h-1.7zM153.3 293.2h1.7v1.7h-1.7zM152.5 266.5h1.7v1.7h-1.7zM248.3 278.7h1.7v1.7h-1.7zM184.0 313.4h1.7v1.7h-1.7zM193.0 258.3h1.7v1.7h-1.7zM206.4 251.7h1.7v1.7h-1.7zM220.6 294.7h1.7v1.7h-1.7zM159.4 261.7h1.7v1.7h-1.7zM186.4 273.3h1.7v1.7h-1.7zM144.8 283.2h1.7v1.7h-1.7zM106.5 265.2h1.7v1.7h-1.7zM165.5 268.1h1.7v1.7h-1.7zM191.1 250.9h1.7v1.7h-1.7zM201.2 269.8h1.7v1.7h-1.7zM156.6 248.4h1.7v1.7h-1.7zM137.4 279.5h1.7v1.7h-1.7zM145.3 274.2h1.7v1.7h-1.7zM218.2 291.6h1.7v1.7h-1.7zM236.2 267.7h1.7v1.7h-1.7zM140.9 291.4h1.7v1.7h-1.7zM191.1 293.2h1.7v1.7h-1.7zM180.4 294.5h1.7v1.7h-1.7zM210.5 285.9h1.7v1.7h-1.7zM198.1 280.2h1.7v1.7h-1.7zM188.4 277.1h1.7v1.7h-1.7zM215.6 263.8h1.7v1.7h-1.7zM242.5 271.1h1.7v1.7h-1.7zM215.5 271.4h1.7v1.7h-1.7zM171.1 309.6h1.7v1.7h-1.7zM168.9 250.0h1.7v1.7h-1.7zM154.3 267.3h1.7v1.7h-1.7zM257.6 276.7h1.7v1.7h-1.7zM213.6 255.0h1.7v1.7h-1.7zM192.7 285.1h1.7v1.7h-1.7zM244.9 260.5h1.7v1.7h-1.7zM201.7 278.4h1.7v1.7h-1.7zM143.2 272.6h1.7v1.7h-1.7zM170.5 231.1h1.7v1.7h-1.7zM201.6 282.7h1.7v1.7h-1.7zM164.2 248.9h1.7v1.7h-1.7zM233.3 277.8h1.7v1.7h-1.7zM216.6 298.4h1.7v1.7h-1.7zM161.2 287.6h1.7v1.7h-1.7zM171.3 271.9h1.7v1.7h-1.7zM176.9 273.0h1.7v1.7h-1.7zM220.1 275.2h1.7v1.7h-1.7zM174.5 268.0h1.7v1.7h-1.7zM192.3 256.9h1.7v1.7h-1.7zM161.9 272.1h1.7v1.7h-1.7zM159.6 270.9h1.7v1.7h-1.7zM158.0 309.1h1.7v1.7h-1.7zM227.8 281.1h1.7v1.7h-1.7zM178.1 312.4h1.7v1.7h-1.7zM191.6 271.4h1.7v1.7h-1.7zM190.9 278.5h1.7v1.7h-1.7zM230.8 272.7h1.7v1.7h-1.7zM255.6 257.1h1.7v1.7h-1.7zM205.0 255.0h1.7v1.7h-1.7zM245.4 267.0h1.7v1.7h-1.7zM177.9 289.6h1.7v1.7h-1.7zM225.2 253.0h1.7v1.7h-1.7zM167.5 247.9h1.7v1.7h-1.7zM184.9 271.2h1.7v1.7h-1.7zM167.4 260.7h1.7v1.7h-1.7zM166.1 259.6h1.7v1.7h-1.7zM199.0 300.3h1.7v1.7h-1.7zM110.5 270.9h1.7v1.7h-1.7zM164.9 281.9h1.7v1.7h-1.7zM145.7 270.4h1.7v1.7h-1.7zM142.6 285.5h1.7v1.7h-1.7zM183.6 270.1h1.7v1.7h-1.7zM193.3 268.6h1.7v1.7h-1.7zM124.1 283.7h1.7v1.7h-1.7zM190.4 270.2h1.7v1.7h-1.7zM215.5 294.9h1.7v1.7h-1.7zM140.7 258.9h1.7v1.7h-1.7zM235.7 298.5h1.7v1.7h-1.7zM153.4 251.7h1.7v1.7h-1.7zM157.0 264.0h1.7v1.7h-1.7zM123.0 273.6h1.7v1.7h-1.7zM133.9 251.2h1.7v1.7h-1.7zM213.0 260.7h1.7v1.7h-1.7zM177.4 284.3h1.7v1.7h-1.7zM209.3 266.9h1.7v1.7h-1.7zM181.6 258.1h1.7v1.7h-1.7zM242.9 284.7h1.7v1.7h-1.7zM140.3 273.1h1.7v1.7h-1.7zM205.7 281.6h1.7v1.7h-1.7zM245.9 297.7h1.7v1.7h-1.7zM160.6 271.4h1.7v1.7h-1.7zM133.9 277.5h1.7v1.7h-1.7zM185.4 321.7h1.7v1.7h-1.7zM183.5 235.3h1.7v1.7h-1.7zM155.8 275.0h1.7v1.7h-1.7zM134.8 257.4h1.7v1.7h-1.7zM166.8 279.2h1.7v1.7h-1.7zM174.0 257.0h1.7v1.7h-1.7zM208.4 263.3h1.7v1.7h-1.7zM162.0 248.2h1.7v1.7h-1.7zM151.7 284.7h1.7v1.7h-1.7zM121.8 271.7h1.7v1.7h-1.7zM205.8 266.2h1.7v1.7h-1.7zM188.6 252.9h1.7v1.7h-1.7zM227.2 292.8h1.7v1.7h-1.7zM188.5 241.4h1.7v1.7h-1.7zM142.3 290.6h1.7v1.7h-1.7zM241.7 278.3h1.7v1.7h-1.7zM224.9 262.1h1.7v1.7h-1.7zM173.2 273.0h1.7v1.7h-1.7zM195.2 245.5h1.7v1.7h-1.7zM213.9 296.8h1.7v1.7h-1.7zM138.6 248.6h1.7v1.7h-1.7zM192.6 261.2h1.7v1.7h-1.7zM94.7 287.6h1.7v1.7h-1.7zM185.6 264.4h1.7v1.7h-1.7zM256.1 275.5h1.7v1.7h-1.7zM152.9 274.8h1.7v1.7h-1.7zM142.6 259.3h1.7v1.7h-1.7zM193.9 263.0h1.7v1.7h-1.7zM163.8 303.0h1.7v1.7h-1.7zM210.9 287.5h1.7v1.7h-1.7zM199.0 281.7h1.7v1.7h-1.7zM232.4 272.6h1.7v1.7h-1.7zM246.8 255.9h1.7v1.7h-1.7zM170.8 248.2h1.7v1.7h-1.7zM167.6 282.3h1.7v1.7h-1.7zM232.2 261.1h1.7v1.7h-1.7zM180.2 266.5h1.7v1.7h-1.7zM153.4 251.6h1.7v1.7h-1.7zM182.2 241.8h1.7v1.7h-1.7zM184.0 273.4h1.7v1.7h-1.7zM156.3 254.8h1.7v1.7h-1.7zM130.2 306.7h1.7v1.7h-1.7zM131.7 301.0h1.7v1.7h-1.7zM201.6 266.4h1.7v1.7h-1.7zM138.3 291.8h1.7v1.7h-1.7zM242.3 256.2h1.7v1.7h-1.7zM169.2 291.9h1.7v1.7h-1.7zM192.1 309.0h1.7v1.7h-1.7zM159.5 282.8h1.7v1.7h-1.7zM135.0 310.7h1.7v1.7h-1.7zM153.7 233.3h1.7v1.7h-1.7zM175.5 270.5h1.7v1.7h-1.7zM249.0 266.9h1.7v1.7h-1.7zM179.5 283.7h1.7v1.7h-1.7zM237.1 271.9h1.7v1.7h-1.7zM217.4 282.3h1.7v1.7h-1.7zM169.3 274.4h1.7v1.7h-1.7zM181.0 256.5h1.7v1.7h-1.7zM223.7 248.1h1.7v1.7h-1.7zM222.2 290.2h1.7v1.7h-1.7zM176.7 259.2h1.7v1.7h-1.7zM171.8 281.5h1.7v1.7h-1.7zM206.8 278.2h1.7v1.7h-1.7zM215.7 263.0h1.7v1.7h-1.7zM188.4 244.8h1.7v1.7h-1.7zM207.5 275.8h1.7v1.7h-1.7zM165.0 293.9h1.7v1.7h-1.7zM204.9 222.3h1.7v1.7h-1.7zM181.4 246.8h1.7v1.7h-1.7zM218.4 317.8h1.7v1.7h-1.7zM161.3 274.3h1.7v1.7h-1.7zM171.0 279.3h1.7v1.7h-1.7zM203.2 296.2h1.7v1.7h-1.7zM144.5 301.3h1.7v1.7h-1.7zM146.5 278.0h1.7v1.7h-1.7zM221.7 285.8h1.7v1.7h-1.7zM146.2 260.4h1.7v1.7h-1.7zM163.4 272.1h1.7v1.7h-1.7zM221.3 249.7h1.7v1.7h-1.7zM196.8 284.0h1.7v1.7h-1.7zM200.1 281.4h1.7v1.7h-1.7zM234.7 281.8h1.7v1.7h-1.7zM210.9 283.1h1.7v1.7h-1.7zM244.6 238.8h1.7v1.7h-1.7zM226.2 268.3h1.7v1.7h-1.7zM169.9 255.5h1.7v1.7h-1.7zM112.7 266.1h1.7v1.7h-1.7zM155.3 281.9h1.7v1.7h-1.7zM127.0 298.8h1.7v1.7h-1.7zM189.8 268.5h1.7v1.7h-1.7zM154.5 258.8h1.7v1.7h-1.7zM139.3 263.2h1.7v1.7h-1.7zM180.2 269.8h1.7v1.7h-1.7zM129.1 268.2h1.7v1.7h-1.7zM147.8 275.9h1.7v1.7h-1.7zM247.1 284.3h1.7v1.7h-1.7zM168.7 243.8h1.7v1.7h-1.7zM129.1 242.6h1.7v1.7h-1.7zM206.1 259.2h1.7v1.7h-1.7zM182.3 261.8h1.7v1.7h-1.7zM183.3 298.2h1.7v1.7h-1.7zM155.3 266.9h1.7v1.7h-1.7zM151.0 288.7h1.7v1.7h-1.7zM143.1 252.6h1.7v1.7h-1.7zM130.0 247.6h1.7v1.7h-1.7zM197.0 319.2h1.7v1.7h-1.7zM144.2 290.1h1.7v1.7h-1.7zM189.0 253.2h1.7v1.7h-1.7zM170.0 268.8h1.7v1.7h-1.7zM155.1 307.8h1.7v1.7h-1.7zM111.4 279.9h1.7v1.7h-1.7zM191.9 262.6h1.7v1.7h-1.7zM185.4 288.8h1.7v1.7h-1.7zM185.5 280.5h1.7v1.7h-1.7zM204.9 236.4h1.7v1.7h-1.7zM233.2 314.0h1.7v1.7h-1.7zM215.3 291.2h1.7v1.7h-1.7zM129.3 270.9h1.7v1.7h-1.7zM150.8 262.4h1.7v1.7h-1.7zM214.8 258.5h1.7v1.7h-1.7zM175.3 238.6h1.7v1.7h-1.7zM174.3 274.6h1.7v1.7h-1.7zM154.6 260.0h1.7v1.7h-1.7zM247.9 251.2h1.7v1.7h-1.7zM142.2 258.4h1.7v1.7h-1.7zM223.2 310.8h1.7v1.7h-1.7zM192.0 260.1h1.7v1.7h-1.7zM164.6 292.2h1.7v1.7h-1.7zM147.2 299.2h1.7v1.7h-1.7zM231.0 274.3h1.7v1.7h-1.7zM203.3 286.5h1.7v1.7h-1.7zM236.0 254.1h1.7v1.7h-1.7zM222.5 266.2h1.7v1.7h-1.7zM152.4 274.8h1.7v1.7h-1.7zM172.3 255.2h1.7v1.7h-1.7zM122.5 256.0h1.7v1.7h-1.7zM232.3 308.3h1.7v1.7h-1.7zM203.4 294.3h1.7v1.7h-1.7zM161.4 271.6h1.7v1.7h-1.7zM190.2 253.5h1.7v1.7h-1.7zM144.4 274.7h1.7v1.7h-1.7zM168.5 253.9h1.7v1.7h-1.7zM193.9 268.3h1.7v1.7h-1.7zM216.8 272.9h1.7v1.7h-1.7zM169.2 275.3h1.7v1.7h-1.7zM173.8 261.0h1.7v1.7h-1.7zM165.5 286.5h1.7v1.7h-1.7zM203.3 296.2h1.7v1.7h-1.7zM119.1 265.9h1.7v1.7h-1.7zM165.1 276.1h1.7v1.7h-1.7zM163.7 263.8h1.7v1.7h-1.7zM208.2 276.2h1.7v1.7h-1.7zM138.0 297.0h1.7v1.7h-1.7zM215.9 262.7h1.7v1.7h-1.7zM209.9 259.8h1.7v1.7h-1.7zM220.5 269.1h1.7v1.7h-1.7zM151.1 266.3h1.7v1.7h-1.7zM152.4 276.5h1.7v1.7h-1.7zM186.3 273.6h1.7v1.7h-1.7zM160.0 207.1h1.7v1.7h-1.7zM183.3 238.9h1.7v1.7h-1.7zM188.8 293.4h1.7v1.7h-1.7zM189.9 266.0h1.7v1.7h-1.7zM173.5 270.6h1.7v1.7h-1.7zM160.2 262.5h1.7v1.7h-1.7zM146.7 294.4h1.7v1.7h-1.7zM179.4 290.2h1.7v1.7h-1.7zM171.0 274.3h1.7v1.7h-1.7zM173.9 281.3h1.7v1.7h-1.7zM209.8 277.3h1.7v1.7h-1.7zM155.7 259.0h1.7v1.7h-1.7zM239.7 268.0h1.7v1.7h-1.7zM169.5 299.4h1.7v1.7h-1.7zM219.2 282.6h1.7v1.7h-1.7zM165.6 315.4h1.7v1.7h-1.7zM194.1 282.8h1.7v1.7h-1.7zM173.8 247.5h1.7v1.7h-1.7zM131.9 280.3h1.7v1.7h-1.7zM194.1 268.7h1.7v1.7h-1.7zM137.8 247.1h1.7v1.7h-1.7zM168.2 246.8h1.7v1.7h-1.7zM212.4 293.7h1.7v1.7h-1.7zM281.8 288.8h1.7v1.7h-1.7zM158.7 257.3h1.7v1.7h-1.7zM173.6 290.4h1.7v1.7h-1.7zM202.0 283.6h1.7v1.7h-1.7zM187.7 284.9h1.7v1.7h-1.7zM232.1 253.8h1.7v1.7h-1.7zM163.5 248.0h1.7v1.7h-1.7zM238.3 296.3h1.7v1.7h-1.7zM207.1 251.4h1.7v1.7h-1.7zM186.2 268.8h1.7v1.7h-1.7zM182.9 269.6h1.7v1.7h-1.7zM198.7 265.9h1.7v1.7h-1.7zM210.8 277.3h1.7v1.7h-1.7zM169.4 271.0h1.7v1.7h-1.7zM164.1 287.6h1.7v1.7h-1.7zM170.2 278.3h1.7v1.7h-1.7zM165.9 246.3h1.7v1.7h-1.7zM212.6 254.0h1.7v1.7h-1.7zM204.4 280.6h1.7v1.7h-1.7zM120.4 256.0h1.7v1.7h-1.7zM161.5 258.2h1.7v1.7h-1.7zM137.4 286.3h1.7v1.7h-1.7zM171.4 279.9h1.7v1.7h-1.7zM164.5 278.5h1.7v1.7h-1.7zM153.0 272.5h1.7v1.7h-1.7zM200.9 273.8h1.7v1.7h-1.7zM163.5 253.4h1.7v1.7h-1.7zM186.0 279.2h1.7v1.7h-1.7zM170.7 259.2h1.7v1.7h-1.7zM199.5 317.7h1.7v1.7h-1.7zM169.1 279.1h1.7v1.7h-1.7zM193.6 226.8h1.7v1.7h-1.7zM184.5 260.3h1.7v1.7h-1.7zM229.8 268.4h1.7v1.7h-1.7zM152.0 269.1h1.7v1.7h-1.7zM186.0 262.9h1.7v1.7h-1.7zM178.1 248.6h1.7v1.7h-1.7zM171.9 287.0h1.7v1.7h-1.7zM250.9 285.7h1.7v1.7h-1.7zM189.8 294.3h1.7v1.7h-1.7zM216.7 302.9h1.7v1.7h-1.7zM219.0 270.9h1.7v1.7h-1.7zM189.3 276.2h1.7v1.7h-1.7zM190.9 276.6h1.7v1.7h-1.7zM151.8 235.1h1.7v1.7h-1.7zM155.8 236.5h1.7v1.7h-1.7zM182.4 273.1h1.7v1.7h-1.7zM119.7 285.4h1.7v1.7h-1.7zM211.2 274.7h1.7v1.7h-1.7zM240.0 306.7h1.7v1.7h-1.7zM136.6 291.7h1.7v1.7h-1.7zM195.9 280.5h1.7v1.7h-1.7zM213.6 260.1h1.7v1.7h-1.7zM158.7 258.1h1.7v1.7h-1.7zM152.8 271.2h1.7v1.7h-1.7zM127.7 254.2h1.7v1.7h-1.7zM200.8 271.7h1.7v1.7h-1.7zM193.8 239.0h1.7v1.7h-1.7zM151.8 263.0h1.7v1.7h-1.7zM181.2 262.4h1.7v1.7h-1.7zM213.6 272.0h1.7v1.7h-1.7zM180.6 273.2h1.7v1.7h-1.7zM205.5 264.5h1.7v1.7h-1.7zM220.4 281.3h1.7v1.7h-1.7zM185.5 273.8h1.7v1.7h-1.7zM198.7 291.3h1.7v1.7h-1.7zM214.0 279.8h1.7v1.7h-1.7zM211.6 275.1h1.7v1.7h-1.7zM225.1 272.5h1.7v1.7h-1.7zM105.3 297.1h1.7v1.7h-1.7zM183.9 251.9h1.7v1.7h-1.7zM172.9 257.1h1.7v1.7h-1.7zM255.6 282.0h1.7v1.7h-1.7zM123.5 282.8h1.7v1.7h-1.7zM165.6 307.5h1.7v1.7h-1.7zM142.1 232.6h1.7v1.7h-1.7zM182.4 266.7h1.7v1.7h-1.7zM165.0 234.5h1.7v1.7h-1.7zM195.4 303.1h1.7v1.7h-1.7zM111.3 294.1h1.7v1.7h-1.7zM159.5 315.3h1.7v1.7h-1.7zM195.7 269.6h1.7v1.7h-1.7zM219.8 282.5h1.7v1.7h-1.7zM158.7 285.8h1.7v1.7h-1.7zM161.6 240.8h1.7v1.7h-1.7zM253.1 266.7h1.7v1.7h-1.7zM158.1 279.1h1.7v1.7h-1.7zM123.9 248.6h1.7v1.7h-1.7zM162.0 263.6h1.7v1.7h-1.7zM182.6 293.2h1.7v1.7h-1.7zM162.9 281.9h1.7v1.7h-1.7zM201.7 253.5h1.7v1.7h-1.7zM188.2 256.0h1.7v1.7h-1.7zM218.3 281.2h1.7v1.7h-1.7zM180.6 248.9h1.7v1.7h-1.7zM184.2 259.2h1.7v1.7h-1.7zM205.4 270.9h1.7v1.7h-1.7zM150.8 289.7h1.7v1.7h-1.7zM206.0 262.3h1.7v1.7h-1.7zM221.8 267.6h1.7v1.7h-1.7zM168.9 275.2h1.7v1.7h-1.7zM152.9 265.1h1.7v1.7h-1.7zM174.2 300.5h1.7v1.7h-1.7zM234.0 268.3h1.7v1.7h-1.7zM238.0 272.2h1.7v1.7h-1.7zM193.7 288.9h1.7v1.7h-1.7zM190.5 316.5h1.7v1.7h-1.7zM188.8 251.4h1.7v1.7h-1.7zM227.0 265.6h1.7v1.7h-1.7zM169.0 219.1h1.7v1.7h-1.7zM216.0 287.7h1.7v1.7h-1.7zM208.8 290.6h1.7v1.7h-1.7zM240.9 272.2h1.7v1.7h-1.7zM213.8 259.6h1.7v1.7h-1.7zM167.3 292.0h1.7v1.7h-1.7zM194.1 249.0h1.7v1.7h-1.7zM193.0 269.7h1.7v1.7h-1.7zM150.5 280.8h1.7v1.7h-1.7zM165.4 244.7h1.7v1.7h-1.7zM140.0 304.8h1.7v1.7h-1.7zM125.5 277.0h1.7v1.7h-1.7zM202.0 284.5h1.7v1.7h-1.7zM135.9 267.2h1.7v1.7h-1.7zM185.1 287.4h1.7v1.7h-1.7zM156.8 252.1h1.7v1.7h-1.7zM216.1 292.9h1.7v1.7h-1.7zM193.3 262.0h1.7v1.7h-1.7zM194.6 275.0h1.7v1.7h-1.7zM210.2 250.5h1.7v1.7h-1.7zM184.2 270.1h1.7v1.7h-1.7zM140.1 276.9h1.7v1.7h-1.7zM181.3 265.6h1.7v1.7h-1.7zM194.3 247.5h1.7v1.7h-1.7zM178.1 280.8h1.7v1.7h-1.7zM190.2 292.4h1.7v1.7h-1.7zM136.8 245.9h1.7v1.7h-1.7zM188.6 281.2h1.7v1.7h-1.7zM256.3 284.1h1.7v1.7h-1.7zM148.5 287.5h1.7v1.7h-1.7zM149.6 246.3h1.7v1.7h-1.7zM273.9 278.9h1.7v1.7h-1.7zM205.7 283.1h1.7v1.7h-1.7zM245.2 278.1h1.7v1.7h-1.7zM223.8 254.5h1.7v1.7h-1.7zM129.9 298.7h1.7v1.7h-1.7zM233.1 282.2h1.7v1.7h-1.7zM188.1 276.0h1.7v1.7h-1.7zM155.2 300.7h1.7v1.7h-1.7zM203.7 282.1h1.7v1.7h-1.7zM193.5 291.9h1.7v1.7h-1.7zM198.2 286.4h1.7v1.7h-1.7zM137.9 282.2h1.7v1.7h-1.7zM258.7 263.7h1.7v1.7h-1.7zM175.4 289.1h1.7v1.7h-1.7zM214.5 284.2h1.7v1.7h-1.7zM121.8 282.0h1.7v1.7h-1.7zM137.4 258.2h1.7v1.7h-1.7zM199.7 267.7h1.7v1.7h-1.7zM209.1 329.7h1.7v1.7h-1.7zM208.0 286.0h1.7v1.7h-1.7zM147.8 261.4h1.7v1.7h-1.7zM141.7 263.4h1.7v1.7h-1.7zM140.7 261.1h1.7v1.7h-1.7zM172.5 255.0h1.7v1.7h-1.7zM128.9 248.5h1.7v1.7h-1.7zM196.3 274.1h1.7v1.7h-1.7zM216.9 291.8h1.7v1.7h-1.7zM167.7 285.1h1.7v1.7h-1.7zM128.1 314.1h1.7v1.7h-1.7zM223.0 269.1h1.7v1.7h-1.7zM138.1 279.8h1.7v1.7h-1.7zM112.7 259.0h1.7v1.7h-1.7zM207.0 274.4h1.7v1.7h-1.7zM162.3 290.1h1.7v1.7h-1.7zM142.6 278.1h1.7v1.7h-1.7zM162.1 257.7h1.7v1.7h-1.7zM196.7 255.1h1.7v1.7h-1.7zM248.5 262.5h1.7v1.7h-1.7zM251.6 253.3h1.7v1.7h-1.7zM201.8 251.4h1.7v1.7h-1.7zM131.7 275.9h1.7v1.7h-1.7zM204.4 250.1h1.7v1.7h-1.7zM222.6 258.6h1.7v1.7h-1.7zM184.7 279.8h1.7v1.7h-1.7zM201.4 240.6h1.7v1.7h-1.7zM238.3 283.1h1.7v1.7h-1.7zM164.7 254.6h1.7v1.7h-1.7zM119.0 248.5h1.7v1.7h-1.7zM199.6 266.9h1.7v1.7h-1.7zM139.3 263.5h1.7v1.7h-1.7zM236.3 267.0h1.7v1.7h-1.7zM159.0 297.3h1.7v1.7h-1.7zM196.6 273.8h1.7v1.7h-1.7zM158.1 245.1h1.7v1.7h-1.7zM137.9 264.4h1.7v1.7h-1.7zM172.1 279.4h1.7v1.7h-1.7zM199.9 277.0h1.7v1.7h-1.7zM187.9 254.9h1.7v1.7h-1.7zM102.4 263.6h1.7v1.7h-1.7zM145.7 261.3h1.7v1.7h-1.7zM170.1 250.6h1.7v1.7h-1.7zM140.0 271.2h1.7v1.7h-1.7zM184.2 261.2h1.7v1.7h-1.7zM197.9 269.0h1.7v1.7h-1.7zM143.3 273.7h1.7v1.7h-1.7zM247.8 260.9h1.7v1.7h-1.7zM222.0 297.8h1.7v1.7h-1.7zM233.9 258.2h1.7v1.7h-1.7zM252.6 275.1h1.7v1.7h-1.7zM170.9 268.9h1.7v1.7h-1.7zM201.7 273.9h1.7v1.7h-1.7zM173.6 296.1h1.7v1.7h-1.7zM154.0 254.2h1.7v1.7h-1.7zM208.6 285.7h1.7v1.7h-1.7zM219.4 253.7h1.7v1.7h-1.7zM218.9 281.7h1.7v1.7h-1.7zM243.5 250.5h1.7v1.7h-1.7zM187.9 268.0h1.7v1.7h-1.7zM122.8 260.1h1.7v1.7h-1.7zM220.6 264.6h1.7v1.7h-1.7zM154.0 288.6h1.7v1.7h-1.7zM215.6 290.8h1.7v1.7h-1.7zM151.6 272.0h1.7v1.7h-1.7zM217.1 261.2h1.7v1.7h-1.7zM153.0 287.9h1.7v1.7h-1.7zM236.2 252.3h1.7v1.7h-1.7zM143.6 270.5h1.7v1.7h-1.7zM202.2 270.4h1.7v1.7h-1.7zM154.8 275.8h1.7v1.7h-1.7zM145.4 272.2h1.7v1.7h-1.7zM156.9 321.2h1.7v1.7h-1.7zM209.4 258.0h1.7v1.7h-1.7zM144.1 265.1h1.7v1.7h-1.7zM120.8 259.9h1.7v1.7h-1.7zM153.4 288.9h1.7v1.7h-1.7zM164.6 258.8h1.7v1.7h-1.7zM131.7 251.8h1.7v1.7h-1.7zM177.6 269.1h1.7v1.7h-1.7zM220.8 261.7h1.7v1.7h-1.7zM218.1 277.6h1.7v1.7h-1.7zM179.8 236.9h1.7v1.7h-1.7zM133.6 286.3h1.7v1.7h-1.7zM230.3 276.7h1.7v1.7h-1.7zM207.5 265.7h1.7v1.7h-1.7zM166.6 261.1h1.7v1.7h-1.7zM215.1 279.2h1.7v1.7h-1.7zM171.6 267.1h1.7v1.7h-1.7zM200.0 278.8h1.7v1.7h-1.7zM150.0 303.9h1.7v1.7h-1.7zM189.3 273.2h1.7v1.7h-1.7zM233.2 291.4h1.7v1.7h-1.7zM176.8 282.6h1.7v1.7h-1.7zM141.5 261.5h1.7v1.7h-1.7zM98.6 295.0h1.7v1.7h-1.7zM111.7 285.3h1.7v1.7h-1.7zM150.1 255.4h1.7v1.7h-1.7zM173.0 277.8h1.7v1.7h-1.7zM202.0 304.9h1.7v1.7h-1.7zM192.9 288.9h1.7v1.7h-1.7zM158.5 285.8h1.7v1.7h-1.7zM185.5 264.7h1.7v1.7h-1.7zM176.5 271.9h1.7v1.7h-1.7zM186.9 280.2h1.7v1.7h-1.7zM161.7 259.7h1.7v1.7h-1.7zM206.9 242.5h1.7v1.7h-1.7zM157.7 300.9h1.7v1.7h-1.7zM204.8 243.3h1.7v1.7h-1.7zM273.5 226.4h1.7v1.7h-1.7zM231.7 301.0h1.7v1.7h-1.7zM213.0 269.0h1.7v1.7h-1.7zM192.9 256.8h1.7v1.7h-1.7zM209.1 252.8h1.7v1.7h-1.7zM170.1 290.9h1.7v1.7h-1.7zM139.9 266.4h1.7v1.7h-1.7zM185.9 248.8h1.7v1.7h-1.7zM221.9 279.1h1.7v1.7h-1.7zM125.4 272.2h1.7v1.7h-1.7zM152.1 261.2h1.7v1.7h-1.7zM182.8 260.2h1.7v1.7h-1.7zM214.7 260.3h1.7v1.7h-1.7zM215.3 272.2h1.7v1.7h-1.7zM210.8 263.3h1.7v1.7h-1.7zM161.8 252.3h1.7v1.7h-1.7zM200.8 289.9h1.7v1.7h-1.7zM256.3 296.2h1.7v1.7h-1.7zM189.0 269.2h1.7v1.7h-1.7zM194.0 272.5h1.7v1.7h-1.7zM232.7 290.0h1.7v1.7h-1.7zM149.9 260.6h1.7v1.7h-1.7zM229.2 278.5h1.7v1.7h-1.7zM171.7 294.4h1.7v1.7h-1.7zM166.0 268.0h1.7v1.7h-1.7zM163.4 237.7h1.7v1.7h-1.7zM211.1 251.2h1.7v1.7h-1.7zM159.5 259.6h1.7v1.7h-1.7zM206.2 271.8h1.7v1.7h-1.7zM180.6 242.8h1.7v1.7h-1.7zM176.9 246.4h1.7v1.7h-1.7zM191.1 279.6h1.7v1.7h-1.7zM179.4 309.8h1.7v1.7h-1.7zM199.0 283.7h1.7v1.7h-1.7zM185.1 269.5h1.7v1.7h-1.7zM214.8 292.8h1.7v1.7h-1.7zM133.2 292.0h1.7v1.7h-1.7zM198.5 290.3h1.7v1.7h-1.7zM196.8 250.6h1.7v1.7h-1.7zM137.8 305.8h1.7v1.7h-1.7zM189.1 247.5h1.7v1.7h-1.7zM192.5 266.5h1.7v1.7h-1.7zM113.6 231.8h1.7v1.7h-1.7zM122.3 277.9h1.7v1.7h-1.7zM178.3 268.5h1.7v1.7h-1.7zM190.2 283.8h1.7v1.7h-1.7zM104.3 267.6h1.7v1.7h-1.7zM150.2 250.8h1.7v1.7h-1.7zM160.3 270.8h1.7v1.7h-1.7zM170.4 246.8h1.7v1.7h-1.7zM162.6 309.3h1.7v1.7h-1.7zM142.0 242.6h1.7v1.7h-1.7zM189.9 283.7h1.7v1.7h-1.7zM196.7 252.8h1.7v1.7h-1.7zM215.9 258.9h1.7v1.7h-1.7zM139.1 262.0h1.7v1.7h-1.7zM176.1 285.9h1.7v1.7h-1.7zM202.5 272.6h1.7v1.7h-1.7zM213.6 274.5h1.7v1.7h-1.7zM212.3 247.7h1.7v1.7h-1.7zM123.3 287.0h1.7v1.7h-1.7zM130.0 267.6h1.7v1.7h-1.7zM176.5 264.2h1.7v1.7h-1.7zM163.7 298.1h1.7v1.7h-1.7zM88.9 288.9h1.7v1.7h-1.7zM262.6 273.4h1.7v1.7h-1.7zM179.3 286.1h1.7v1.7h-1.7zM245.8 251.6h1.7v1.7h-1.7zM183.2 269.6h1.7v1.7h-1.7zM200.1 275.9h1.7v1.7h-1.7zM203.7 265.4h1.7v1.7h-1.7zM181.8 260.9h1.7v1.7h-1.7zM156.1 270.5h1.7v1.7h-1.7zM174.9 251.9h1.7v1.7h-1.7zM236.5 270.6h1.7v1.7h-1.7zM130.2 292.8h1.7v1.7h-1.7zM153.1 282.1h1.7v1.7h-1.7zM179.4 277.5h1.7v1.7h-1.7zM186.2 262.6h1.7v1.7h-1.7zM181.5 309.6h1.7v1.7h-1.7zM99.4 274.2h1.7v1.7h-1.7zM195.7 254.1h1.7v1.7h-1.7zM130.7 311.9h1.7v1.7h-1.7zM166.6 310.4h1.7v1.7h-1.7zM199.3 274.4h1.7v1.7h-1.7zM197.1 284.4h1.7v1.7h-1.7zM222.5 280.8h1.7v1.7h-1.7zM185.2 276.2h1.7v1.7h-1.7zM228.7 287.7h1.7v1.7h-1.7zM143.9 261.6h1.7v1.7h-1.7zM191.9 261.8h1.7v1.7h-1.7zM166.4 255.8h1.7v1.7h-1.7zM170.6 280.6h1.7v1.7h-1.7zM215.8 273.2h1.7v1.7h-1.7zM254.7 271.6h1.7v1.7h-1.7zM295.0 291.0h1.7v1.7h-1.7zM197.9 264.0h1.7v1.7h-1.7zM186.4 307.6h1.7v1.7h-1.7zM130.3 307.3h1.7v1.7h-1.7zM171.0 286.0h1.7v1.7h-1.7zM88.6 275.5h1.7v1.7h-1.7zM167.6 285.3h1.7v1.7h-1.7zM183.3 252.4h1.7v1.7h-1.7zM214.1 285.5h1.7v1.7h-1.7zM201.5 291.2h1.7v1.7h-1.7zM219.6 272.6h1.7v1.7h-1.7zM131.1 248.1h1.7v1.7h-1.7zM228.6 285.8h1.7v1.7h-1.7zM183.7 265.2h1.7v1.7h-1.7zM181.1 273.4h1.7v1.7h-1.7zM167.9 260.4h1.7v1.7h-1.7zM257.9 277.1h1.7v1.7h-1.7zM158.2 249.6h1.7v1.7h-1.7zM153.9 286.0h1.7v1.7h-1.7zM207.3 269.1h1.7v1.7h-1.7zM181.9 267.5h1.7v1.7h-1.7zM140.1 296.4h1.7v1.7h-1.7zM193.4 317.6h1.7v1.7h-1.7zM152.8 270.5h1.7v1.7h-1.7zM211.8 268.6h1.7v1.7h-1.7zM130.0 255.9h1.7v1.7h-1.7zM183.6 279.2h1.7v1.7h-1.7zM176.6 291.1h1.7v1.7h-1.7zM215.7 278.8h1.7v1.7h-1.7zM181.0 268.4h1.7v1.7h-1.7zM199.8 289.6h1.7v1.7h-1.7zM182.2 281.1h1.7v1.7h-1.7zM168.3 247.6h1.7v1.7h-1.7zM144.0 286.8h1.7v1.7h-1.7zM196.1 301.6h1.7v1.7h-1.7zM182.0 288.6h1.7v1.7h-1.7zM227.6 290.9h1.7v1.7h-1.7zM158.1 269.7h1.7v1.7h-1.7zM184.7 255.3h1.7v1.7h-1.7zM197.1 291.4h1.7v1.7h-1.7zM162.7 308.5h1.7v1.7h-1.7zM169.5 269.3h1.7v1.7h-1.7zM171.4 260.3h1.7v1.7h-1.7zM195.0 273.4h1.7v1.7h-1.7zM239.8 283.9h1.7v1.7h-1.7zM199.4 269.0h1.7v1.7h-1.7zM129.1 271.4h1.7v1.7h-1.7zM149.4 290.1h1.7v1.7h-1.7zM178.9 303.0h1.7v1.7h-1.7zM206.5 288.0h1.7v1.7h-1.7zM188.3 276.8h1.7v1.7h-1.7zM203.5 289.6h1.7v1.7h-1.7zM154.4 281.9h1.7v1.7h-1.7zM274.4 271.4h1.7v1.7h-1.7zM170.8 260.5h1.7v1.7h-1.7zM127.9 294.4h1.7v1.7h-1.7zM182.2 278.4h1.7v1.7h-1.7zM246.4 318.2h1.7v1.7h-1.7zM148.0 292.0h1.7v1.7h-1.7zM202.5 280.2h1.7v1.7h-1.7zM197.3 272.6h1.7v1.7h-1.7zM237.3 284.1h1.7v1.7h-1.7zM192.5 295.5h1.7v1.7h-1.7zM212.4 281.3h1.7v1.7h-1.7zM191.9 304.7h1.7v1.7h-1.7zM198.4 271.4h1.7v1.7h-1.7zM149.2 266.9h1.7v1.7h-1.7zM142.3 275.0h1.7v1.7h-1.7zM189.4 236.1h1.7v1.7h-1.7zM180.8 284.7h1.7v1.7h-1.7zM186.1 255.9h1.7v1.7h-1.7zM225.8 260.5h1.7v1.7h-1.7zM135.9 253.6h1.7v1.7h-1.7zM179.6 290.7h1.7v1.7h-1.7zM222.0 276.8h1.7v1.7h-1.7zM137.1 261.2h1.7v1.7h-1.7zM147.8 269.8h1.7v1.7h-1.7zM116.2 275.0h1.7v1.7h-1.7zM203.3 270.3h1.7v1.7h-1.7zM196.6 256.1h1.7v1.7h-1.7zM127.7 261.6h1.7v1.7h-1.7zM221.7 291.6h1.7v1.7h-1.7zM163.6 294.7h1.7v1.7h-1.7zM168.3 300.2h1.7v1.7h-1.7zM197.4 264.9h1.7v1.7h-1.7zM208.7 259.1h1.7v1.7h-1.7zM146.3 246.9h1.7v1.7h-1.7zM189.3 272.0h1.7v1.7h-1.7zM177.2 265.6h1.7v1.7h-1.7zM231.8 265.4h1.7v1.7h-1.7zM154.0 295.4h1.7v1.7h-1.7zM231.2 279.1h1.7v1.7h-1.7zM117.4 262.2h1.7v1.7h-1.7zM202.1 273.3h1.7v1.7h-1.7zM235.9 248.4h1.7v1.7h-1.7zM204.4 261.7h1.7v1.7h-1.7zM227.6 271.6h1.7v1.7h-1.7zM217.1 261.3h1.7v1.7h-1.7zM129.3 253.0h1.7v1.7h-1.7zM158.2 254.6h1.7v1.7h-1.7zM223.2 297.1h1.7v1.7h-1.7zM189.8 254.4h1.7v1.7h-1.7zM175.7 260.7h1.7v1.7h-1.7zM232.3 278.7h1.7v1.7h-1.7zM197.6 265.8h1.7v1.7h-1.7zM107.6 259.1h1.7v1.7h-1.7zM139.8 279.7h1.7v1.7h-1.7zM183.5 258.6h1.7v1.7h-1.7zM166.0 301.2h1.7v1.7h-1.7zM145.5 256.5h1.7v1.7h-1.7zM171.8 260.4h1.7v1.7h-1.7zM164.6 282.6h1.7v1.7h-1.7zM242.4 241.0h1.7v1.7h-1.7zM179.3 273.7h1.7v1.7h-1.7zM177.0 269.6h1.7v1.7h-1.7zM167.7 291.1h1.7v1.7h-1.7zM163.3 270.7h1.7v1.7h-1.7zM180.0 274.9h1.7v1.7h-1.7zM173.8 291.0h1.7v1.7h-1.7zM179.7 276.1h1.7v1.7h-1.7zM178.1 254.9h1.7v1.7h-1.7zM150.1 254.1h1.7v1.7h-1.7zM186.9 260.2h1.7v1.7h-1.7zM141.8 277.3h1.7v1.7h-1.7zM198.9 241.3h1.7v1.7h-1.7zM240.8 273.6h1.7v1.7h-1.7zM176.2 292.2h1.7v1.7h-1.7zM182.5 262.1h1.7v1.7h-1.7zM259.0 253.7h1.7v1.7h-1.7zM176.5 288.2h1.7v1.7h-1.7zM141.5 271.2h1.7v1.7h-1.7zM193.9 316.2h1.7v1.7h-1.7zM147.9 272.1h1.7v1.7h-1.7zM203.7 274.5h1.7v1.7h-1.7zM136.7 280.3h1.7v1.7h-1.7zM183.9 281.0h1.7v1.7h-1.7zM220.7 291.2h1.7v1.7h-1.7zM194.7 278.6h1.7v1.7h-1.7zM140.5 270.6h1.7v1.7h-1.7zM187.9 265.8h1.7v1.7h-1.7zM183.5 258.1h1.7v1.7h-1.7zM235.2 311.7h1.7v1.7h-1.7zM166.0 280.2h1.7v1.7h-1.7zM171.6 295.7h1.7v1.7h-1.7zM195.7 274.4h1.7v1.7h-1.7zM171.9 275.3h1.7v1.7h-1.7zM144.0 285.2h1.7v1.7h-1.7zM154.3 282.6h1.7v1.7h-1.7zM184.7 292.7h1.7v1.7h-1.7zM179.4 291.4h1.7v1.7h-1.7zM146.8 284.0h1.7v1.7h-1.7zM171.9 276.5h1.7v1.7h-1.7zM182.6 289.9h1.7v1.7h-1.7zM107.3 278.8h1.7v1.7h-1.7zM126.2 294.7h1.7v1.7h-1.7zM109.0 254.9h1.7v1.7h-1.7zM119.7 302.5h1.7v1.7h-1.7zM133.6 275.1h1.7v1.7h-1.7zM160.7 240.6h1.7v1.7h-1.7zM167.9 284.9h1.7v1.7h-1.7zM185.8 292.5h1.7v1.7h-1.7zM176.9 268.2h1.7v1.7h-1.7zM175.8 276.9h1.7v1.7h-1.7zM289.9 277.4h1.7v1.7h-1.7zM204.7 251.9h1.7v1.7h-1.7zM157.2 306.1h1.7v1.7h-1.7zM139.4 244.3h1.7v1.7h-1.7zM190.1 256.9h1.7v1.7h-1.7zM292.8 206.5h1.7v1.7h-1.7zM213.1 286.5h1.7v1.7h-1.7zM139.0 251.2h1.7v1.7h-1.7zM216.6 310.4h1.7v1.7h-1.7zM149.0 226.9h1.7v1.7h-1.7zM243.6 307.6h1.7v1.7h-1.7zM178.2 210.4h1.7v1.7h-1.7zM267.6 262.8h1.7v1.7h-1.7zM251.2 266.9h1.7v1.7h-1.7zM176.2 256.3h1.7v1.7h-1.7zM268.7 305.3h1.7v1.7h-1.7zM88.1 243.7h1.7v1.7h-1.7zM283.9 258.5h1.7v1.7h-1.7zM127.0 268.1h1.7v1.7h-1.7zM189.6 265.5h1.7v1.7h-1.7zM171.0 259.9h1.7v1.7h-1.7zM172.2 276.7h1.7v1.7h-1.7zM154.4 260.5h1.7v1.7h-1.7zM187.8 301.9h1.7v1.7h-1.7zM213.7 265.1h1.7v1.7h-1.7zM221.8 278.6h1.7v1.7h-1.7zM249.4 281.2h1.7v1.7h-1.7zM284.7 303.0h1.7v1.7h-1.7zM192.9 257.2h1.7v1.7h-1.7zM239.1 281.4h1.7v1.7h-1.7zM190.3 229.6h1.7v1.7h-1.7zM103.4 277.1h1.7v1.7h-1.7zM233.5 288.9h1.7v1.7h-1.7zM130.6 295.0h1.7v1.7h-1.7zM168.3 278.1h1.7v1.7h-1.7zM215.8 247.1h1.7v1.7h-1.7zM165.4 214.1h1.7v1.7h-1.7zM149.2 221.1h1.7v1.7h-1.7zM216.9 269.6h1.7v1.7h-1.7zM240.7 277.3h1.7v1.7h-1.7zM163.3 277.0h1.7v1.7h-1.7zM175.5 283.8h1.7v1.7h-1.7zM210.8 242.3h1.7v1.7h-1.7zM195.1 269.4h1.7v1.7h-1.7zM179.6 291.3h1.7v1.7h-1.7zM280.7 258.4h1.7v1.7h-1.7zM177.5 209.6h1.7v1.7h-1.7zM234.6 341.9h1.7v1.7h-1.7zM181.8 347.0h1.7v1.7h-1.7zM253.4 339.9h1.7v1.7h-1.7zM228.3 338.2h1.7v1.7h-1.7zM257.8 334.4h1.7v1.7h-1.7zM229.9 358.7h1.7v1.7h-1.7zM239.3 348.3h1.7v1.7h-1.7zM234.2 336.8h1.7v1.7h-1.7zM237.2 347.8h1.7v1.7h-1.7zM211.4 347.4h1.7v1.7h-1.7zM270.4 352.5h1.7v1.7h-1.7zM196.8 338.2h1.7v1.7h-1.7zM196.0 352.5h1.7v1.7h-1.7zM253.9 349.9h1.7v1.7h-1.7zM215.2 336.8h1.7v1.7h-1.7zM240.0 345.7h1.7v1.7h-1.7zM215.8 346.0h1.7v1.7h-1.7zM254.8 346.6h1.7v1.7h-1.7zM211.0 330.2h1.7v1.7h-1.7zM231.3 346.2h1.7v1.7h-1.7zM231.2 342.0h1.7v1.7h-1.7zM220.0 350.0h1.7v1.7h-1.7zM236.6 345.9h1.7v1.7h-1.7zM212.7 340.7h1.7v1.7h-1.7zM242.3 338.0h1.7v1.7h-1.7zM205.3 342.7h1.7v1.7h-1.7zM269.2 346.3h1.7v1.7h-1.7zM275.9 344.1h1.7v1.7h-1.7zM229.9 335.3h1.7v1.7h-1.7zM223.0 355.0h1.7v1.7h-1.7zM246.5 350.1h1.7v1.7h-1.7zM256.3 344.9h1.7v1.7h-1.7zM232.7 345.8h1.7v1.7h-1.7zM255.5 348.2h1.7v1.7h-1.7zM250.8 346.1h1.7v1.7h-1.7zM218.0 343.2h1.7v1.7h-1.7zM213.5 352.0h1.7v1.7h-1.7zM183.3 343.5h1.7v1.7h-1.7zM300.1 342.6h1.7v1.7h-1.7zM208.5 344.9h1.7v1.7h-1.7zM271.5 343.9h1.7v1.7h-1.7zM253.9 345.7h1.7v1.7h-1.7zM228.3 367.1h1.7v1.7h-1.7zM239.8 341.2h1.7v1.7h-1.7zM225.3 347.7h1.7v1.7h-1.7zM248.6 350.4h1.7v1.7h-1.7zM241.7 335.0h1.7v1.7h-1.7zM251.8 342.8h1.7v1.7h-1.7zM230.6 334.6h1.7v1.7h-1.7zM223.1 339.9h1.7v1.7h-1.7zM237.1 334.8h1.7v1.7h-1.7zM239.3 345.9h1.7v1.7h-1.7zM208.9 340.6h1.7v1.7h-1.7zM215.7 351.4h1.7v1.7h-1.7zM172.3 342.6h1.7v1.7h-1.7zM194.8 342.0h1.7v1.7h-1.7zM260.0 340.6h1.7v1.7h-1.7zM241.6 339.1h1.7v1.7h-1.7zM288.4 351.4h1.7v1.7h-1.7zM267.3 335.7h1.7v1.7h-1.7zM209.4 352.6h1.7v1.7h-1.7zM232.9 343.2h1.7v1.7h-1.7zM246.7 336.2h1.7v1.7h-1.7zM258.1 345.1h1.7v1.7h-1.7zM250.5 340.3h1.7v1.7h-1.7zM251.3 340.1h1.7v1.7h-1.7zM262.8 352.9h1.7v1.7h-1.7zM261.7 348.6h1.7v1.7h-1.7zM254.5 326.1h1.7v1.7h-1.7zM259.7 343.1h1.7v1.7h-1.7zM240.5 343.0h1.7v1.7h-1.7zM201.8 341.2h1.7v1.7h-1.7zM255.1 354.9h1.7v1.7h-1.7zM221.8 338.7h1.7v1.7h-1.7zM275.7 338.8h1.7v1.7h-1.7zM291.9 345.4h1.7v1.7h-1.7zM215.0 351.9h1.7v1.7h-1.7zM282.0 335.0h1.7v1.7h-1.7zM278.5 343.0h1.7v1.7h-1.7zM276.6 342.3h1.7v1.7h-1.7zM197.0 348.5h1.7v1.7h-1.7zM262.1 359.7h1.7v1.7h-1.7zM282.8 349.9h1.7v1.7h-1.7zM231.8 341.4h1.7v1.7h-1.7zM230.3 339.2h1.7v1.7h-1.7zM230.9 327.2h1.7v1.7h-1.7zM242.7 344.8h1.7v1.7h-1.7zM304.7 350.3h1.7v1.7h-1.7zM225.5 349.0h1.7v1.7h-1.7zM206.1 340.8h1.7v1.7h-1.7zM189.4 355.1h1.7v1.7h-1.7zM253.4 336.8h1.7v1.7h-1.7zM236.4 351.6h1.7v1.7h-1.7zM250.9 347.7h1.7v1.7h-1.7zM215.7 340.5h1.7v1.7h-1.7zM240.5 351.4h1.7v1.7h-1.7zM216.4 337.2h1.7v1.7h-1.7zM267.7 338.5h1.7v1.7h-1.7zM266.0 346.7h1.7v1.7h-1.7zM260.9 357.2h1.7v1.7h-1.7zM255.9 350.4h1.7v1.7h-1.7zM214.1 340.1h1.7v1.7h-1.7zM254.7 355.7h1.7v1.7h-1.7zM274.2 361.2h1.7v1.7h-1.7zM246.1 346.4h1.7v1.7h-1.7zM264.2 345.1h1.7v1.7h-1.7zM236.4 337.7h1.7v1.7h-1.7zM263.8 337.5h1.7v1.7h-1.7zM251.3 335.1h1.7v1.7h-1.7zM266.5 337.8h1.7v1.7h-1.7zM259.9 333.9h1.7v1.7h-1.7zM226.6 353.2h1.7v1.7h-1.7zM217.1 345.5h1.7v1.7h-1.7zM225.6 328.8h1.7v1.7h-1.7zM246.0 348.0h1.7v1.7h-1.7zM209.2 349.0h1.7v1.7h-1.7zM217.3 338.0h1.7v1.7h-1.7zM238.2 340.2h1.7v1.7h-1.7zM297.6 334.1h1.7v1.7h-1.7zM257.2 351.9h1.7v1.7h-1.7zM186.5 332.9h1.7v1.7h-1.7zM252.6 341.6h1.7v1.7h-1.7zM248.0 353.0h1.7v1.7h-1.7zM228.3 337.6h1.7v1.7h-1.7zM167.0 346.4h1.7v1.7h-1.7zM213.9 347.2h1.7v1.7h-1.7zM244.0 335.3h1.7v1.7h-1.7zM282.8 352.6h1.7v1.7h-1.7zM260.1 336.7h1.7v1.7h-1.7zM227.4 341.2h1.7v1.7h-1.7zM227.2 337.1h1.7v1.7h-1.7zM249.3 346.6h1.7v1.7h-1.7zM247.5 341.5h1.7v1.7h-1.7zM271.6 346.3h1.7v1.7h-1.7zM166.8 340.5h1.7v1.7h-1.7zM236.5 351.8h1.7v1.7h-1.7zM230.2 343.2h1.7v1.7h-1.7zM220.8 349.7h1.7v1.7h-1.7zM226.4 340.8h1.7v1.7h-1.7zM218.7 348.9h1.7v1.7h-1.7zM224.1 333.3h1.7v1.7h-1.7zM254.2 340.1h1.7v1.7h-1.7zM247.3 347.6h1.7v1.7h-1.7zM269.3 352.3h1.7v1.7h-1.7zM223.0 343.8h1.7v1.7h-1.7zM204.4 356.7h1.7v1.7h-1.7zM249.5 354.8h1.7v1.7h-1.7zM229.7 330.7h1.7v1.7h-1.7zM277.8 345.7h1.7v1.7h-1.7zM241.5 345.4h1.7v1.7h-1.7zM254.8 348.7h1.7v1.7h-1.7zM196.6 352.6h1.7v1.7h-1.7zM224.2 341.7h1.7v1.7h-1.7zM282.9 351.4h1.7v1.7h-1.7zM229.2 332.0h1.7v1.7h-1.7zM242.2 348.8h1.7v1.7h-1.7zM235.9 336.3h1.7v1.7h-1.7zM217.4 336.2h1.7v1.7h-1.7zM243.6 350.7h1.7v1.7h-1.7zM264.7 339.9h1.7v1.7h-1.7zM244.1 348.9h1.7v1.7h-1.7zM224.7 344.0h1.7v1.7h-1.7zM293.2 346.4h1.7v1.7h-1.7zM261.0 342.0h1.7v1.7h-1.7zM239.1 333.0h1.7v1.7h-1.7zM237.3 353.3h1.7v1.7h-1.7zM292.6 353.4h1.7v1.7h-1.7zM255.9 345.4h1.7v1.7h-1.7zM222.4 343.9h1.7v1.7h-1.7zM253.9 339.5h1.7v1.7h-1.7zM262.3 338.1h1.7v1.7h-1.7zM191.7 337.9h1.7v1.7h-1.7zM194.7 335.4h1.7v1.7h-1.7zM267.4 343.6h1.7v1.7h-1.7zM243.7 353.1h1.7v1.7h-1.7zM270.7 341.5h1.7v1.7h-1.7zM272.5 347.7h1.7v1.7h-1.7zM238.1 348.1h1.7v1.7h-1.7zM200.9 339.5h1.7v1.7h-1.7zM235.2 349.3h1.7v1.7h-1.7zM228.3 344.1h1.7v1.7h-1.7zM263.2 354.9h1.7v1.7h-1.7zM257.9 353.9h1.7v1.7h-1.7zM227.5 342.9h1.7v1.7h-1.7zM246.3 342.9h1.7v1.7h-1.7zM224.8 356.6h1.7v1.7h-1.7zM232.8 338.2h1.7v1.7h-1.7zM250.7 357.9h1.7v1.7h-1.7zM240.1 353.6h1.7v1.7h-1.7zM226.6 341.6h1.7v1.7h-1.7zM220.1 344.0h1.7v1.7h-1.7zM285.7 336.9h1.7v1.7h-1.7zM280.6 337.9h1.7v1.7h-1.7zM231.9 350.9h1.7v1.7h-1.7zM254.4 347.0h1.7v1.7h-1.7zM195.1 347.5h1.7v1.7h-1.7zM211.4 363.0h1.7v1.7h-1.7zM232.5 346.3h1.7v1.7h-1.7zM208.2 341.6h1.7v1.7h-1.7zM204.4 351.9h1.7v1.7h-1.7zM231.2 348.9h1.7v1.7h-1.7zM220.2 341.5h1.7v1.7h-1.7zM271.5 338.2h1.7v1.7h-1.7zM191.2 347.8h1.7v1.7h-1.7zM208.3 341.9h1.7v1.7h-1.7zM261.7 339.3h1.7v1.7h-1.7zM260.8 340.2h1.7v1.7h-1.7zM276.8 354.3h1.7v1.7h-1.7zM225.7 343.5h1.7v1.7h-1.7zM216.4 346.4h1.7v1.7h-1.7zM267.9 334.9h1.7v1.7h-1.7zM261.9 335.7h1.7v1.7h-1.7zM215.6 332.5h1.7v1.7h-1.7zM292.7 345.4h1.7v1.7h-1.7zM244.4 340.3h1.7v1.7h-1.7zM265.7 330.3h1.7v1.7h-1.7zM238.7 360.4h1.7v1.7h-1.7zM228.1 345.1h1.7v1.7h-1.7zM255.5 339.3h1.7v1.7h-1.7zM238.6 351.7h1.7v1.7h-1.7zM243.1 347.6h1.7v1.7h-1.7zM228.9 347.2h1.7v1.7h-1.7zM239.4 355.2h1.7v1.7h-1.7zM256.8 343.3h1.7v1.7h-1.7zM174.4 350.0h1.7v1.7h-1.7zM257.6 338.6h1.7v1.7h-1.7zM186.0 337.0h1.7v1.7h-1.7zM262.1 337.5h1.7v1.7h-1.7zM226.1 346.5h1.7v1.7h-1.7zM269.8 344.9h1.7v1.7h-1.7zM235.4 341.2h1.7v1.7h-1.7zM280.4 352.5h1.7v1.7h-1.7zM235.5 335.2h1.7v1.7h-1.7zM217.5 349.1h1.7v1.7h-1.7zM219.2 351.2h1.7v1.7h-1.7zM247.4 347.0h1.7v1.7h-1.7zM255.0 348.5h1.7v1.7h-1.7zM215.8 342.7h1.7v1.7h-1.7zM298.8 336.5h1.7v1.7h-1.7zM225.7 352.5h1.7v1.7h-1.7zM233.9 339.3h1.7v1.7h-1.7zM203.6 348.8h1.7v1.7h-1.7zM264.5 354.8h1.7v1.7h-1.7zM239.4 352.3h1.7v1.7h-1.7zM211.1 346.2h1.7v1.7h-1.7zM220.4 346.2h1.7v1.7h-1.7zM257.5 352.5h1.7v1.7h-1.7zM212.3 353.9h1.7v1.7h-1.7zM225.7 337.8h1.7v1.7h-1.7zM233.6 334.8h1.7v1.7h-1.7zM238.1 347.0h1.7v1.7h-1.7zM232.8 348.8h1.7v1.7h-1.7zM229.8 345.0h1.7v1.7h-1.7zM200.5 345.3h1.7v1.7h-1.7zM215.9 341.9h1.7v1.7h-1.7zM235.6 346.3h1.7v1.7h-1.7zM195.2 334.1h1.7v1.7h-1.7zM230.1 348.3h1.7v1.7h-1.7zM247.4 351.2h1.7v1.7h-1.7zM271.8 348.5h1.7v1.7h-1.7zM237.5 337.8h1.7v1.7h-1.7zM213.4 341.7h1.7v1.7h-1.7zM245.0 346.5h1.7v1.7h-1.7zM238.1 343.9h1.7v1.7h-1.7zM254.4 346.5h1.7v1.7h-1.7zM245.7 347.2h1.7v1.7h-1.7zM223.8 337.8h1.7v1.7h-1.7zM250.8 347.9h1.7v1.7h-1.7zM232.3 342.1h1.7v1.7h-1.7zM297.2 339.7h1.7v1.7h-1.7zM232.3 346.9h1.7v1.7h-1.7zM208.0 345.8h1.7v1.7h-1.7zM284.7 351.5h1.7v1.7h-1.7zM254.4 349.1h1.7v1.7h-1.7zM240.9 351.7h1.7v1.7h-1.7zM233.9 342.0h1.7v1.7h-1.7zM240.7 351.3h1.7v1.7h-1.7zM246.6 349.7h1.7v1.7h-1.7zM185.4 353.4h1.7v1.7h-1.7zM298.9 354.3h1.7v1.7h-1.7zM229.7 339.1h1.7v1.7h-1.7zM245.2 338.1h1.7v1.7h-1.7zM256.9 341.3h1.7v1.7h-1.7zM263.0 354.5h1.7v1.7h-1.7zM185.2 347.0h1.7v1.7h-1.7zM219.8 335.1h1.7v1.7h-1.7zM221.9 343.5h1.7v1.7h-1.7zM264.9 334.4h1.7v1.7h-1.7zM265.3 359.1h1.7v1.7h-1.7zM253.5 348.8h1.7v1.7h-1.7zM237.7 336.8h1.7v1.7h-1.7zM251.9 347.7h1.7v1.7h-1.7zM257.0 363.0h1.7v1.7h-1.7zM256.9 348.0h1.7v1.7h-1.7zM278.6 335.6h1.7v1.7h-1.7zM208.3 342.4h1.7v1.7h-1.7zM221.0 349.9h1.7v1.7h-1.7zM229.7 357.2h1.7v1.7h-1.7zM277.5 350.4h1.7v1.7h-1.7zM228.0 349.3h1.7v1.7h-1.7zM259.1 337.5h1.7v1.7h-1.7zM247.1 349.9h1.7v1.7h-1.7zM243.6 356.0h1.7v1.7h-1.7zM269.6 339.2h1.7v1.7h-1.7zM241.2 339.2h1.7v1.7h-1.7zM253.1 338.9h1.7v1.7h-1.7zM262.0 347.7h1.7v1.7h-1.7zM263.2 344.0h1.7v1.7h-1.7zM200.1 357.4h1.7v1.7h-1.7zM233.5 354.6h1.7v1.7h-1.7zM249.2 349.7h1.7v1.7h-1.7zM285.6 347.4h1.7v1.7h-1.7zM274.4 334.6h1.7v1.7h-1.7zM260.6 343.3h1.7v1.7h-1.7zM234.5 345.1h1.7v1.7h-1.7zM247.0 356.6h1.7v1.7h-1.7zM189.8 345.3h1.7v1.7h-1.7zM219.4 353.2h1.7v1.7h-1.7zM227.0 348.2h1.7v1.7h-1.7zM227.7 349.7h1.7v1.7h-1.7zM264.4 342.2h1.7v1.7h-1.7zM239.3 335.1h1.7v1.7h-1.7zM245.9 351.0h1.7v1.7h-1.7zM223.6 352.8h1.7v1.7h-1.7zM184.1 332.0h1.7v1.7h-1.7zM201.9 341.6h1.7v1.7h-1.7zM238.5 344.4h1.7v1.7h-1.7zM236.3 350.1h1.7v1.7h-1.7zM225.7 336.2h1.7v1.7h-1.7zM205.7 359.8h1.7v1.7h-1.7zM176.8 343.8h1.7v1.7h-1.7zM275.9 348.4h1.7v1.7h-1.7zM216.4 345.0h1.7v1.7h-1.7zM260.5 353.5h1.7v1.7h-1.7zM214.6 350.3h1.7v1.7h-1.7zM244.6 352.7h1.7v1.7h-1.7zM274.2 342.6h1.7v1.7h-1.7zM200.3 347.8h1.7v1.7h-1.7zM284.2 349.8h1.7v1.7h-1.7zM244.0 361.8h1.7v1.7h-1.7zM211.0 351.3h1.7v1.7h-1.7zM223.2 345.3h1.7v1.7h-1.7zM240.3 355.6h1.7v1.7h-1.7zM213.7 341.3h1.7v1.7h-1.7zM196.6 348.4h1.7v1.7h-1.7zM226.1 348.0h1.7v1.7h-1.7zM210.1 342.5h1.7v1.7h-1.7zM265.0 343.8h1.7v1.7h-1.7zM254.3 348.7h1.7v1.7h-1.7zM228.8 334.1h1.7v1.7h-1.7zM263.6 346.2h1.7v1.7h-1.7zM263.6 330.9h1.7v1.7h-1.7zM195.0 330.0h1.7v1.7h-1.7zM215.2 352.3h1.7v1.7h-1.7zM252.7 344.8h1.7v1.7h-1.7zM241.4 350.3h1.7v1.7h-1.7zM230.1 347.8h1.7v1.7h-1.7zM241.6 329.7h1.7v1.7h-1.7zM228.0 354.5h1.7v1.7h-1.7zM227.7 344.0h1.7v1.7h-1.7zM222.2 341.6h1.7v1.7h-1.7zM267.2 343.1h1.7v1.7h-1.7zM211.4 323.2h1.7v1.7h-1.7zM223.1 331.2h1.7v1.7h-1.7zM190.6 350.6h1.7v1.7h-1.7zM256.4 331.6h1.7v1.7h-1.7zM260.1 348.2h1.7v1.7h-1.7zM217.6 350.1h1.7v1.7h-1.7zM195.7 336.6h1.7v1.7h-1.7zM200.6 337.2h1.7v1.7h-1.7zM260.8 335.7h1.7v1.7h-1.7zM208.1 338.3h1.7v1.7h-1.7zM243.1 342.6h1.7v1.7h-1.7zM260.4 340.0h1.7v1.7h-1.7zM204.5 341.5h1.7v1.7h-1.7zM238.9 338.5h1.7v1.7h-1.7zM245.1 357.7h1.7v1.7h-1.7zM222.7 345.3h1.7v1.7h-1.7zM272.9 340.4h1.7v1.7h-1.7zM215.7 337.3h1.7v1.7h-1.7zM248.0 348.5h1.7v1.7h-1.7zM233.8 345.2h1.7v1.7h-1.7zM270.7 350.9h1.7v1.7h-1.7zM201.1 344.8h1.7v1.7h-1.7zM240.2 349.9h1.7v1.7h-1.7zM231.6 340.3h1.7v1.7h-1.7zM225.4 332.4h1.7v1.7h-1.7zM236.6 340.6h1.7v1.7h-1.7zM249.4 337.6h1.7v1.7h-1.7zM225.9 337.9h1.7v1.7h-1.7zM209.5 349.7h1.7v1.7h-1.7zM225.0 347.9h1.7v1.7h-1.7zM208.0 345.4h1.7v1.7h-1.7zM193.1 341.4h1.7v1.7h-1.7zM223.9 348.8h1.7v1.7h-1.7zM241.7 343.5h1.7v1.7h-1.7zM258.7 346.0h1.7v1.7h-1.7zM250.9 350.1h1.7v1.7h-1.7zM235.2 342.6h1.7v1.7h-1.7zM245.4 341.8h1.7v1.7h-1.7zM246.9 352.4h1.7v1.7h-1.7zM259.0 342.0h1.7v1.7h-1.7zM203.5 344.3h1.7v1.7h-1.7zM233.6 352.4h1.7v1.7h-1.7zM226.9 343.2h1.7v1.7h-1.7zM255.9 341.3h1.7v1.7h-1.7zM232.7 356.7h1.7v1.7h-1.7zM275.5 349.1h1.7v1.7h-1.7zM243.7 337.9h1.7v1.7h-1.7zM251.3 345.1h1.7v1.7h-1.7zM242.5 341.0h1.7v1.7h-1.7zM236.5 343.4h1.7v1.7h-1.7zM245.0 354.6h1.7v1.7h-1.7zM246.2 333.1h1.7v1.7h-1.7zM211.6 333.6h1.7v1.7h-1.7zM216.2 348.6h1.7v1.7h-1.7zM247.2 340.5h1.7v1.7h-1.7zM243.7 339.4h1.7v1.7h-1.7zM199.9 334.8h1.7v1.7h-1.7zM214.5 354.6h1.7v1.7h-1.7zM202.0 353.3h1.7v1.7h-1.7zM271.2 343.4h1.7v1.7h-1.7zM235.5 340.4h1.7v1.7h-1.7zM236.1 349.3h1.7v1.7h-1.7zM236.9 351.6h1.7v1.7h-1.7zM267.5 347.0h1.7v1.7h-1.7zM245.2 344.2h1.7v1.7h-1.7zM245.7 336.9h1.7v1.7h-1.7zM247.2 346.1h1.7v1.7h-1.7zM214.3 359.7h1.7v1.7h-1.7zM211.4 338.6h1.7v1.7h-1.7zM243.9 331.1h1.7v1.7h-1.7zM216.1 334.0h1.7v1.7h-1.7zM211.6 343.7h1.7v1.7h-1.7zM244.9 352.3h1.7v1.7h-1.7zM257.5 352.9h1.7v1.7h-1.7zM251.9 341.4h1.7v1.7h-1.7zM265.5 341.2h1.7v1.7h-1.7zM220.7 355.3h1.7v1.7h-1.7zM257.0 346.2h1.7v1.7h-1.7zM256.1 350.8h1.7v1.7h-1.7zM201.2 344.0h1.7v1.7h-1.7zM206.0 345.5h1.7v1.7h-1.7zM219.1 354.1h1.7v1.7h-1.7zM250.0 338.9h1.7v1.7h-1.7zM236.1 336.1h1.7v1.7h-1.7zM237.6 348.4h1.7v1.7h-1.7zM243.4 331.1h1.7v1.7h-1.7zM227.8 348.2h1.7v1.7h-1.7zM244.5 352.7h1.7v1.7h-1.7zM203.1 348.3h1.7v1.7h-1.7zM219.6 346.0h1.7v1.7h-1.7zM247.1 349.4h1.7v1.7h-1.7zM221.5 345.9h1.7v1.7h-1.7zM206.2 334.7h1.7v1.7h-1.7zM250.9 344.2h1.7v1.7h-1.7zM194.4 338.7h1.7v1.7h-1.7zM237.0 355.5h1.7v1.7h-1.7zM263.7 350.2h1.7v1.7h-1.7zM190.1 343.9h1.7v1.7h-1.7zM248.9 347.3h1.7v1.7h-1.7zM247.3 343.0h1.7v1.7h-1.7zM282.2 354.9h1.7v1.7h-1.7zM234.0 337.7h1.7v1.7h-1.7zM289.9 340.7h1.7v1.7h-1.7zM267.6 358.0h1.7v1.7h-1.7zM212.0 346.6h1.7v1.7h-1.7zM227.4 348.2h1.7v1.7h-1.7zM244.8 358.2h1.7v1.7h-1.7zM251.8 344.5h1.7v1.7h-1.7zM265.7 342.7h1.7v1.7h-1.7zM227.0 360.3h1.7v1.7h-1.7zM215.1 341.2h1.7v1.7h-1.7zM237.6 337.2h1.7v1.7h-1.7zM181.6 352.0h1.7v1.7h-1.7zM216.1 340.8h1.7v1.7h-1.7zM226.8 337.7h1.7v1.7h-1.7zM208.5 345.7h1.7v1.7h-1.7zM298.8 349.7h1.7v1.7h-1.7zM255.9 334.1h1.7v1.7h-1.7zM235.8 336.3h1.7v1.7h-1.7zM256.5 343.0h1.7v1.7h-1.7zM237.5 344.0h1.7v1.7h-1.7zM221.3 333.9h1.7v1.7h-1.7zM251.5 334.9h1.7v1.7h-1.7zM205.8 342.5h1.7v1.7h-1.7zM218.1 346.4h1.7v1.7h-1.7zM262.7 346.3h1.7v1.7h-1.7zM241.6 344.8h1.7v1.7h-1.7zM258.8 331.7h1.7v1.7h-1.7zM246.0 338.1h1.7v1.7h-1.7zM204.4 344.6h1.7v1.7h-1.7zM226.4 348.7h1.7v1.7h-1.7zM265.1 328.3h1.7v1.7h-1.7zM234.6 358.3h1.7v1.7h-1.7zM259.0 354.7h1.7v1.7h-1.7zM239.1 334.5h1.7v1.7h-1.7zM207.2 349.6h1.7v1.7h-1.7zM261.4 339.5h1.7v1.7h-1.7zM229.5 346.4h1.7v1.7h-1.7zM191.0 342.1h1.7v1.7h-1.7zM278.5 359.9h1.7v1.7h-1.7zM233.7 357.4h1.7v1.7h-1.7zM222.8 338.9h1.7v1.7h-1.7zM178.3 351.3h1.7v1.7h-1.7zM226.7 361.0h1.7v1.7h-1.7zM245.1 345.9h1.7v1.7h-1.7zM189.5 355.1h1.7v1.7h-1.7zM227.1 343.5h1.7v1.7h-1.7zM179.1 351.1h1.7v1.7h-1.7zM262.2 340.4h1.7v1.7h-1.7zM238.9 347.3h1.7v1.7h-1.7zM261.5 345.3h1.7v1.7h-1.7zM281.3 342.9h1.7v1.7h-1.7zM220.8 341.3h1.7v1.7h-1.7zM170.6 339.0h1.7v1.7h-1.7zM262.7 346.5h1.7v1.7h-1.7zM215.3 347.1h1.7v1.7h-1.7zM184.1 342.6h1.7v1.7h-1.7zM250.2 349.5h1.7v1.7h-1.7zM148.5 349.4h1.7v1.7h-1.7zM280.8 334.7h1.7v1.7h-1.7zM224.3 322.3h1.7v1.7h-1.7zM89.2 346.1h1.7v1.7h-1.7zM189.5 341.6h1.7v1.7h-1.7zM158.2 336.2h1.7v1.7h-1.7zM227.9 358.3h1.7v1.7h-1.7zM176.5 321.3h1.7v1.7h-1.7zM251.1 346.1h1.7v1.7h-1.7zM221.5 341.4h1.7v1.7h-1.7zM303.6 340.3h1.7v1.7h-1.7zM213.1 319.0h1.7v1.7h-1.7zM158.5 331.9h1.7v1.7h-1.7zM185.9 343.3h1.7v1.7h-1.7zM149.9 358.5h1.7v1.7h-1.7zM134.1 334.5h1.7v1.7h-1.7zM199.4 325.7h1.7v1.7h-1.7zM216.0 346.4h1.7v1.7h-1.7zM172.8 360.4h1.7v1.7h-1.7zM191.5 342.5h1.7v1.7h-1.7zM139.4 321.0h1.7v1.7h-1.7zM155.9 335.9h1.7v1.7h-1.7zM164.7 347.9h1.7v1.7h-1.7zM96.1 354.2h1.7v1.7h-1.7zM159.2 333.8h1.7v1.7h-1.7zM132.3 349.3h1.7v1.7h-1.7zM166.8 341.9h1.7v1.7h-1.7zM207.2 345.5h1.7v1.7h-1.7zM249.4 337.3h1.7v1.7h-1.7zM179.1 347.4h1.7v1.7h-1.7zM208.9 336.8h1.7v1.7h-1.7zM189.7 333.9h1.7v1.7h-1.7zM223.3 349.7h1.7v1.7h-1.7zM187.8 360.2h1.7v1.7h-1.7zM110.5 336.9h1.7v1.7h-1.7zM273.3 334.8h1.7v1.7h-1.7zM107.4 354.8h1.7v1.7h-1.7zM214.9 326.3h1.7v1.7h-1.7zM226.4 328.2h1.7v1.7h-1.7zM120.4 337.8h1.7v1.7h-1.7zM163.5 327.4h1.7v1.7h-1.7zM169.3 328.4h1.7v1.7h-1.7zM190.6 339.2h1.7v1.7h-1.7zM225.0 334.5h1.7v1.7h-1.7zM120.9 324.9h1.7v1.7h-1.7zM175.3 356.4h1.7v1.7h-1.7zM230.2 332.4h1.7v1.7h-1.7zM234.9 326.7h1.7v1.7h-1.7zM238.4 335.3h1.7v1.7h-1.7zM226.2 346.3h1.7v1.7h-1.7zM173.7 343.1h1.7v1.7h-1.7zM134.2 338.7h1.7v1.7h-1.7zM242.0 384.7h1.7v1.7h-1.7zM222.9 340.5h1.7v1.7h-1.7zM136.9 351.2h1.7v1.7h-1.7zM104.6 330.6h1.7v1.7h-1.7zM205.6 326.2h1.7v1.7h-1.7zM264.9 351.5h1.7v1.7h-1.7zM159.2 333.4h1.7v1.7h-1.7zM121.6 324.0h1.7v1.7h-1.7zM209.9 346.4h1.7v1.7h-1.7zM205.3 342.4h1.7v1.7h-1.7zM159.6 343.5h1.7v1.7h-1.7zM113.9 339.6h1.7v1.7h-1.7zM261.6 354.1h1.7v1.7h-1.7zM164.5 335.8h1.7v1.7h-1.7zM256.8 359.2h1.7v1.7h-1.7zM112.6 334.8h1.7v1.7h-1.7zM199.5 352.9h1.7v1.7h-1.7zM145.7 346.6h1.7v1.7h-1.7zM172.6 365.7h1.7v1.7h-1.7zM209.3 338.0h1.7v1.7h-1.7zM170.9 351.2h1.7v1.7h-1.7zM221.8 327.5h1.7v1.7h-1.7zM198.6 324.7h1.7v1.7h-1.7zM149.8 325.2h1.7v1.7h-1.7zM121.2 331.9h1.7v1.7h-1.7zM138.5 345.3h1.7v1.7h-1.7zM227.7 336.9h1.7v1.7h-1.7zM131.6 348.4h1.7v1.7h-1.7zM224.3 346.8h1.7v1.7h-1.7zM236.7 337.1h1.7v1.7h-1.7zM124.4 333.9h1.7v1.7h-1.7zM216.2 331.0h1.7v1.7h-1.7zM152.5 324.1h1.7v1.7h-1.7zM129.3 348.8h1.7v1.7h-1.7zM210.6 326.7h1.7v1.7h-1.7zM133.5 333.3h1.7v1.7h-1.7zM215.3 326.6h1.7v1.7h-1.7zM179.3 315.8h1.7v1.7h-1.7zM124.6 344.2h1.7v1.7h-1.7zM232.9 326.7h1.7v1.7h-1.7zM148.9 348.3h1.7v1.7h-1.7zM168.2 333.5h1.7v1.7h-1.7zM213.8 341.7h1.7v1.7h-1.7zM243.6 348.3h1.7v1.7h-1.7zM158.9 338.2h1.7v1.7h-1.7zM184.8 324.5h1.7v1.7h-1.7zM138.9 350.3h1.7v1.7h-1.7zM108.1 350.5h1.7v1.7h-1.7zM202.2 338.0h1.7v1.7h-1.7zM214.9 344.8h1.7v1.7h-1.7zM248.5 335.1h1.7v1.7h-1.7zM176.4 336.8h1.7v1.7h-1.7zM282.3 350.0h1.7v1.7h-1.7zM141.5 335.9h1.7v1.7h-1.7zM152.5 339.7h1.7v1.7h-1.7zM198.7 364.9h1.7v1.7h-1.7zM96.4 350.9h1.7v1.7h-1.7zM209.9 331.8h1.7v1.7h-1.7zM180.5 334.1h1.7v1.7h-1.7zM190.5 350.7h1.7v1.7h-1.7zM111.9 354.1h1.7v1.7h-1.7zM169.3 356.2h1.7v1.7h-1.7zM208.7 353.2h1.7v1.7h-1.7zM216.5 351.6h1.7v1.7h-1.7zM191.0 330.4h1.7v1.7h-1.7zM221.9 347.4h1.7v1.7h-1.7zM293.4 317.5h1.7v1.7h-1.7zM178.3 351.3h1.7v1.7h-1.7zM125.4 337.1h1.7v1.7h-1.7zM294.4 355.2h1.7v1.7h-1.7zM144.2 355.4h1.7v1.7h-1.7zM247.7 348.2h1.7v1.7h-1.7zM207.5 342.3h1.7v1.7h-1.7zM144.8 334.0h1.7v1.7h-1.7zM225.1 341.2h1.7v1.7h-1.7zM281.1 336.0h1.7v1.7h-1.7zM202.4 343.9h1.7v1.7h-1.7zM191.9 330.6h1.7v1.7h-1.7zM263.4 332.4h1.7v1.7h-1.7zM224.2 336.5h1.7v1.7h-1.7zM128.7 355.3h1.7v1.7h-1.7zM210.3 335.8h1.7v1.7h-1.7zM226.3 338.6h1.7v1.7h-1.7zM166.1 363.5h1.7v1.7h-1.7zM177.8 338.0h1.7v1.7h-1.7zM134.6 331.5h1.7v1.7h-1.7zM221.3 346.0h1.7v1.7h-1.7zM189.0 332.1h1.7v1.7h-1.7zM223.3 321.0h1.7v1.7h-1.7zM171.9 337.0h1.7v1.7h-1.7zM146.7 341.5h1.7v1.7h-1.7zM155.7 331.0h1.7v1.7h-1.7zM279.3 348.0h1.7v1.7h-1.7zM249.2 340.4h1.7v1.7h-1.7zM237.5 348.4h1.7v1.7h-1.7zM250.0 365.9h1.7v1.7h-1.7zM178.0 342.7h1.7v1.7h-1.7zM186.9 301.2h1.7v1.7h-1.7zM119.7 340.1h1.7v1.7h-1.7zM221.2 333.6h1.7v1.7h-1.7zM246.4 354.0h1.7v1.7h-1.7zM169.0 355.6h1.7v1.7h-1.7zM277.3 345.0h1.7v1.7h-1.7zM140.7 356.1h1.7v1.7h-1.7zM181.6 335.8h1.7v1.7h-1.7zM195.7 334.1h1.7v1.7h-1.7zM243.5 348.5h1.7v1.7h-1.7zM250.9 346.4h1.7v1.7h-1.7zM150.3 338.2h1.7v1.7h-1.7zM233.8 335.5h1.7v1.7h-1.7zM336.0 337.3h1.7v1.7h-1.7zM160.7 352.6h1.7v1.7h-1.7zM227.4 339.7h1.7v1.7h-1.7zM178.5 344.7h1.7v1.7h-1.7zM231.8 348.4h1.7v1.7h-1.7zM174.9 344.8h1.7v1.7h-1.7zM232.2 348.4h1.7v1.7h-1.7zM151.2 337.5h1.7v1.7h-1.7zM199.0 350.1h1.7v1.7h-1.7zM220.9 338.6h1.7v1.7h-1.7zM191.2 359.4h1.7v1.7h-1.7zM159.4 343.3h1.7v1.7h-1.7zM268.3 343.8h1.7v1.7h-1.7zM87.8 344.1h1.7v1.7h-1.7zM170.6 338.8h1.7v1.7h-1.7zM242.6 345.2h1.7v1.7h-1.7zM176.8 349.8h1.7v1.7h-1.7zM211.8 341.2h1.7v1.7h-1.7zM205.1 342.8h1.7v1.7h-1.7zM173.0 334.9h1.7v1.7h-1.7zM191.3 329.5h1.7v1.7h-1.7zM127.1 354.3h1.7v1.7h-1.7zM178.0 339.7h1.7v1.7h-1.7zM183.2 340.3h1.7v1.7h-1.7zM191.1 340.7h1.7v1.7h-1.7zM149.8 350.3h1.7v1.7h-1.7zM155.4 351.4h1.7v1.7h-1.7zM94.1 328.3h1.7v1.7h-1.7zM239.6 338.4h1.7v1.7h-1.7zM156.4 344.1h1.7v1.7h-1.7zM137.7 340.8h1.7v1.7h-1.7zM157.5 345.9h1.7v1.7h-1.7zM233.8 330.6h1.7v1.7h-1.7zM270.4 333.5h1.7v1.7h-1.7zM87.2 313.8h1.7v1.7h-1.7zM266.9 339.0h1.7v1.7h-1.7zM157.6 331.8h1.7v1.7h-1.7zM135.4 354.9h1.7v1.7h-1.7zM185.8 359.7h1.7v1.7h-1.7zM180.0 314.1h1.7v1.7h-1.7zM232.2 335.9h1.7v1.7h-1.7zM178.1 357.2h1.7v1.7h-1.7zM176.8 352.8h1.7v1.7h-1.7zM189.8 331.7h1.7v1.7h-1.7zM215.4 333.4h1.7v1.7h-1.7zM251.4 350.6h1.7v1.7h-1.7zM193.1 346.7h1.7v1.7h-1.7zM218.2 337.0h1.7v1.7h-1.7zM234.8 337.5h1.7v1.7h-1.7zM220.8 329.5h1.7v1.7h-1.7zM195.1 344.6h1.7v1.7h-1.7zM150.6 335.4h1.7v1.7h-1.7zM163.4 348.0h1.7v1.7h-1.7zM154.2 344.9h1.7v1.7h-1.7zM266.4 344.0h1.7v1.7h-1.7zM109.7 341.4h1.7v1.7h-1.7zM242.3 336.9h1.7v1.7h-1.7zM245.8 346.9h1.7v1.7h-1.7zM211.4 337.2h1.7v1.7h-1.7zM164.8 337.3h1.7v1.7h-1.7zM193.6 345.9h1.7v1.7h-1.7zM211.5 336.8h1.7v1.7h-1.7zM193.8 344.4h1.7v1.7h-1.7zM109.3 331.7h1.7v1.7h-1.7zM150.6 337.9h1.7v1.7h-1.7zM176.8 337.3h1.7v1.7h-1.7zM147.0 347.5h1.7v1.7h-1.7zM204.6 322.1h1.7v1.7h-1.7zM191.4 327.8h1.7v1.7h-1.7zM275.9 335.2h1.7v1.7h-1.7zM171.1 341.1h1.7v1.7h-1.7zM180.8 339.5h1.7v1.7h-1.7zM268.2 342.7h1.7v1.7h-1.7zM232.6 352.6h1.7v1.7h-1.7zM142.1 358.8h1.7v1.7h-1.7zM225.3 350.7h1.7v1.7h-1.7zM147.7 349.2h1.7v1.7h-1.7zM211.6 334.3h1.7v1.7h-1.7zM305.0 346.4h1.7v1.7h-1.7zM178.9 342.3h1.7v1.7h-1.7zM236.4 352.6h1.7v1.7h-1.7zM220.0 353.6h1.7v1.7h-1.7zM264.5 326.6h1.7v1.7h-1.7zM166.7 329.9h1.7v1.7h-1.7zM195.8 356.1h1.7v1.7h-1.7zM223.6 328.7h1.7v1.7h-1.7zM176.3 351.5h1.7v1.7h-1.7zM164.4 339.2h1.7v1.7h-1.7zM206.2 320.2h1.7v1.7h-1.7zM230.0 344.0h1.7v1.7h-1.7zM219.4 329.5h1.7v1.7h-1.7zM152.6 333.7h1.7v1.7h-1.7zM203.5 341.0h1.7v1.7h-1.7zM197.4 359.9h1.7v1.7h-1.7zM256.3 332.3h1.7v1.7h-1.7zM158.3 359.1h1.7v1.7h-1.7zM175.2 355.4h1.7v1.7h-1.7zM270.9 334.3h1.7v1.7h-1.7zM177.5 341.1h1.7v1.7h-1.7zM147.8 329.5h1.7v1.7h-1.7zM170.9 349.6h1.7v1.7h-1.7zM168.6 338.0h1.7v1.7h-1.7zM167.7 325.2h1.7v1.7h-1.7zM265.2 314.5h1.7v1.7h-1.7zM158.3 346.4h1.7v1.7h-1.7zM121.2 346.9h1.7v1.7h-1.7zM253.6 330.8h1.7v1.7h-1.7zM201.4 328.0h1.7v1.7h-1.7zM216.3 341.2h1.7v1.7h-1.7zM201.8 355.2h1.7v1.7h-1.7zM214.5 355.0h1.7v1.7h-1.7zM222.7 327.0h1.7v1.7h-1.7zM204.0 345.6h1.7v1.7h-1.7zM118.7 354.9h1.7v1.7h-1.7zM194.4 344.3h1.7v1.7h-1.7zM146.1 341.0h1.7v1.7h-1.7zM206.0 336.6h1.7v1.7h-1.7zM195.0 316.9h1.7v1.7h-1.7zM259.1 328.0h1.7v1.7h-1.7zM149.2 346.2h1.7v1.7h-1.7zM145.3 343.3h1.7v1.7h-1.7zM143.0 364.5h1.7v1.7h-1.7zM218.2 361.7h1.7v1.7h-1.7zM140.2 347.5h1.7v1.7h-1.7zM143.1 346.6h1.7v1.7h-1.7zM224.8 322.7h1.7v1.7h-1.7zM134.0 327.4h1.7v1.7h-1.7zM115.7 332.1h1.7v1.7h-1.7zM142.8 324.3h1.7v1.7h-1.7zM195.7 346.2h1.7v1.7h-1.7zM125.0 334.0h1.7v1.7h-1.7zM191.1 337.6h1.7v1.7h-1.7zM155.7 349.1h1.7v1.7h-1.7zM233.0 347.6h1.7v1.7h-1.7zM180.2 362.0h1.7v1.7h-1.7zM277.6 335.7h1.7v1.7h-1.7zM184.6 353.2h1.7v1.7h-1.7zM150.6 344.5h1.7v1.7h-1.7zM192.9 332.4h1.7v1.7h-1.7zM179.0 322.8h1.7v1.7h-1.7zM163.4 318.2h1.7v1.7h-1.7zM304.5 356.7h1.7v1.7h-1.7zM251.9 343.4h1.7v1.7h-1.7zM240.4 354.1h1.7v1.7h-1.7zM241.2 350.2h1.7v1.7h-1.7zM144.8 344.8h1.7v1.7h-1.7zM163.6 327.1h1.7v1.7h-1.7zM133.2 344.8h1.7v1.7h-1.7zM242.9 325.0h1.7v1.7h-1.7zM277.5 356.2h1.7v1.7h-1.7zM171.2 335.0h1.7v1.7h-1.7zM186.5 350.8h1.7v1.7h-1.7zM171.0 327.9h1.7v1.7h-1.7zM207.3 317.3h1.7v1.7h-1.7zM197.1 352.8h1.7v1.7h-1.7zM205.4 348.6h1.7v1.7h-1.7zM214.7 348.0h1.7v1.7h-1.7zM197.3 330.9h1.7v1.7h-1.7zM178.8 339.2h1.7v1.7h-1.7zM252.9 357.9h1.7v1.7h-1.7zM211.0 331.7h1.7v1.7h-1.7zM153.5 337.9h1.7v1.7h-1.7zM259.4 343.7h1.7v1.7h-1.7zM187.2 331.6h1.7v1.7h-1.7zM234.1 343.2h1.7v1.7h-1.7zM187.5 341.1h1.7v1.7h-1.7zM274.3 338.2h1.7v1.7h-1.7zM274.4 353.7h1.7v1.7h-1.7zM192.6 349.7h1.7v1.7h-1.7zM183.8 330.9h1.7v1.7h-1.7zM176.6 330.0h1.7v1.7h-1.7zM215.6 340.2h1.7v1.7h-1.7zM218.4 349.1h1.7v1.7h-1.7zM99.9 341.8h1.7v1.7h-1.7zM146.1 341.1h1.7v1.7h-1.7zM258.3 321.2h1.7v1.7h-1.7zM199.5 339.1h1.7v1.7h-1.7zM95.4 347.1h1.7v1.7h-1.7zM191.7 334.4h1.7v1.7h-1.7zM153.9 375.3h1.7v1.7h-1.7zM170.3 320.2h1.7v1.7h-1.7zM143.5 336.0h1.7v1.7h-1.7zM170.8 339.1h1.7v1.7h-1.7zM137.7 346.0h1.7v1.7h-1.7zM165.8 325.0h1.7v1.7h-1.7zM149.2 335.8h1.7v1.7h-1.7zM232.4 345.3h1.7v1.7h-1.7zM173.1 340.2h1.7v1.7h-1.7zM200.8 362.4h1.7v1.7h-1.7zM159.1 345.1h1.7v1.7h-1.7zM226.3 329.5h1.7v1.7h-1.7zM199.5 341.8h1.7v1.7h-1.7zM166.5 346.2h1.7v1.7h-1.7zM241.4 352.4h1.7v1.7h-1.7zM180.4 342.1h1.7v1.7h-1.7zM307.5 327.9h1.7v1.7h-1.7zM201.1 349.8h1.7v1.7h-1.7zM197.5 347.2h1.7v1.7h-1.7zM198.6 348.3h1.7v1.7h-1.7zM254.1 337.6h1.7v1.7h-1.7zM199.9 339.4h1.7v1.7h-1.7zM169.8 339.8h1.7v1.7h-1.7zM133.4 348.2h1.7v1.7h-1.7zM275.1 358.7h1.7v1.7h-1.7zM253.8 329.4h1.7v1.7h-1.7zM266.0 332.1h1.7v1.7h-1.7zM187.3 360.3h1.7v1.7h-1.7zM136.4 349.3h1.7v1.7h-1.7zM204.1 338.3h1.7v1.7h-1.7zM146.2 344.6h1.7v1.7h-1.7zM166.8 351.5h1.7v1.7h-1.7zM251.2 324.8h1.7v1.7h-1.7zM164.7 336.5h1.7v1.7h-1.7zM130.9 327.7h1.7v1.7h-1.7zM194.4 337.7h1.7v1.7h-1.7zM107.4 334.1h1.7v1.7h-1.7zM215.9 326.7h1.7v1.7h-1.7zM143.8 357.5h1.7v1.7h-1.7zM670.8 327.5h1.7v1.7h-1.7zM630.7 340.5h1.7v1.7h-1.7zM633.1 336.4h1.7v1.7h-1.7zM644.2 341.6h1.7v1.7h-1.7zM613.1 323.7h1.7v1.7h-1.7zM632.6 344.6h1.7v1.7h-1.7zM648.7 326.9h1.7v1.7h-1.7zM658.4 342.6h1.7v1.7h-1.7zM647.3 335.9h1.7v1.7h-1.7zM657.6 345.9h1.7v1.7h-1.7zM653.3 341.5h1.7v1.7h-1.7zM650.3 335.5h1.7v1.7h-1.7zM637.3 339.7h1.7v1.7h-1.7zM646.5 336.4h1.7v1.7h-1.7zM664.9 341.2h1.7v1.7h-1.7zM664.1 327.8h1.7v1.7h-1.7zM659.4 334.2h1.7v1.7h-1.7zM638.9 332.5h1.7v1.7h-1.7zM669.2 343.4h1.7v1.7h-1.7zM640.2 330.6h1.7v1.7h-1.7zM651.2 335.0h1.7v1.7h-1.7zM675.9 328.5h1.7v1.7h-1.7zM623.6 336.3h1.7v1.7h-1.7zM651.2 338.9h1.7v1.7h-1.7zM662.3 351.5h1.7v1.7h-1.7zM645.9 334.5h1.7v1.7h-1.7zM624.6 339.6h1.7v1.7h-1.7zM663.8 336.3h1.7v1.7h-1.7zM668.7 338.2h1.7v1.7h-1.7zM673.7 340.2h1.7v1.7h-1.7zM635.1 333.9h1.7v1.7h-1.7zM628.0 326.7h1.7v1.7h-1.7zM655.0 343.7h1.7v1.7h-1.7zM680.3 337.6h1.7v1.7h-1.7zM647.4 330.8h1.7v1.7h-1.7zM665.8 340.5h1.7v1.7h-1.7zM642.1 342.5h1.7v1.7h-1.7zM659.4 325.8h1.7v1.7h-1.7zM662.1 338.9h1.7v1.7h-1.7zM645.1 335.3h1.7v1.7h-1.7zM677.2 348.0h1.7v1.7h-1.7zM678.4 330.5h1.7v1.7h-1.7zM641.2 343.9h1.7v1.7h-1.7zM632.9 333.3h1.7v1.7h-1.7zM623.9 350.0h1.7v1.7h-1.7zM666.9 341.0h1.7v1.7h-1.7zM654.3 335.3h1.7v1.7h-1.7zM645.0 342.0h1.7v1.7h-1.7zM640.3 346.0h1.7v1.7h-1.7zM643.6 332.3h1.7v1.7h-1.7zM670.5 337.1h1.7v1.7h-1.7zM659.3 335.3h1.7v1.7h-1.7zM617.2 341.6h1.7v1.7h-1.7zM630.8 345.0h1.7v1.7h-1.7zM627.7 325.9h1.7v1.7h-1.7zM655.6 340.8h1.7v1.7h-1.7zM652.6 330.1h1.7v1.7h-1.7zM664.3 328.5h1.7v1.7h-1.7zM644.0 332.9h1.7v1.7h-1.7zM645.3 343.5h1.7v1.7h-1.7zM641.5 341.7h1.7v1.7h-1.7zM661.4 326.9h1.7v1.7h-1.7zM633.5 335.5h1.7v1.7h-1.7zM642.1 340.0h1.7v1.7h-1.7zM622.0 342.7h1.7v1.7h-1.7zM662.2 336.9h1.7v1.7h-1.7zM630.3 338.0h1.7v1.7h-1.7zM642.9 341.7h1.7v1.7h-1.7zM649.7 342.7h1.7v1.7h-1.7zM644.5 347.4h1.7v1.7h-1.7zM616.4 331.4h1.7v1.7h-1.7zM658.4 328.2h1.7v1.7h-1.7zM662.0 330.1h1.7v1.7h-1.7zM652.4 332.1h1.7v1.7h-1.7zM644.4 339.1h1.7v1.7h-1.7zM649.4 335.5h1.7v1.7h-1.7zM683.3 338.1h1.7v1.7h-1.7zM636.5 344.0h1.7v1.7h-1.7zM663.3 345.9h1.7v1.7h-1.7zM677.8 331.9h1.7v1.7h-1.7zM666.9 345.4h1.7v1.7h-1.7zM651.0 339.6h1.7v1.7h-1.7zM606.0 334.3h1.7v1.7h-1.7zM677.8 326.4h1.7v1.7h-1.7zM643.0 339.9h1.7v1.7h-1.7zM659.6 348.6h1.7v1.7h-1.7zM624.6 338.3h1.7v1.7h-1.7zM663.9 329.5h1.7v1.7h-1.7zM650.4 350.3h1.7v1.7h-1.7zM670.7 341.5h1.7v1.7h-1.7zM611.8 337.2h1.7v1.7h-1.7zM656.8 336.0h1.7v1.7h-1.7zM650.0 358.0h1.7v1.7h-1.7zM647.8 331.7h1.7v1.7h-1.7zM654.6 335.9h1.7v1.7h-1.7zM646.4 337.4h1.7v1.7h-1.7zM662.6 339.5h1.7v1.7h-1.7zM633.0 337.1h1.7v1.7h-1.7zM658.1 335.0h1.7v1.7h-1.7zM668.2 343.1h1.7v1.7h-1.7zM636.1 340.1h1.7v1.7h-1.7zM680.8 348.1h1.7v1.7h-1.7zM650.2 343.8h1.7v1.7h-1.7zM640.9 328.6h1.7v1.7h-1.7zM659.3 339.6h1.7v1.7h-1.7zM658.7 337.8h1.7v1.7h-1.7zM655.9 334.7h1.7v1.7h-1.7zM658.1 343.4h1.7v1.7h-1.7zM650.1 343.3h1.7v1.7h-1.7zM624.4 332.9h1.7v1.7h-1.7zM672.7 349.5h1.7v1.7h-1.7zM654.8 337.3h1.7v1.7h-1.7zM632.0 340.4h1.7v1.7h-1.7zM662.7 328.4h1.7v1.7h-1.7zM659.4 341.2h1.7v1.7h-1.7zM657.6 330.7h1.7v1.7h-1.7zM659.1 328.3h1.7v1.7h-1.7zM673.3 338.9h1.7v1.7h-1.7zM633.5 346.7h1.7v1.7h-1.7zM668.3 333.8h1.7v1.7h-1.7zM684.1 331.5h1.7v1.7h-1.7zM655.7 345.7h1.7v1.7h-1.7zM616.9 344.5h1.7v1.7h-1.7zM650.0 337.9h1.7v1.7h-1.7zM634.8 340.2h1.7v1.7h-1.7zM634.4 331.7h1.7v1.7h-1.7zM644.3 330.0h1.7v1.7h-1.7zM674.6 329.4h1.7v1.7h-1.7zM639.7 335.9h1.7v1.7h-1.7zM651.1 343.2h1.7v1.7h-1.7zM663.3 336.0h1.7v1.7h-1.7zM645.2 338.2h1.7v1.7h-1.7zM663.3 342.5h1.7v1.7h-1.7zM643.3 324.6h1.7v1.7h-1.7zM683.1 344.2h1.7v1.7h-1.7zM654.9 340.2h1.7v1.7h-1.7zM643.2 331.5h1.7v1.7h-1.7zM646.0 336.6h1.7v1.7h-1.7zM641.6 328.5h1.7v1.7h-1.7zM646.3 341.7h1.7v1.7h-1.7zM643.6 338.1h1.7v1.7h-1.7zM619.9 336.7h1.7v1.7h-1.7zM649.2 330.0h1.7v1.7h-1.7zM625.1 340.7h1.7v1.7h-1.7zM638.9 341.2h1.7v1.7h-1.7zM644.7 342.1h1.7v1.7h-1.7zM645.9 328.2h1.7v1.7h-1.7zM649.7 335.9h1.7v1.7h-1.7zM660.9 335.1h1.7v1.7h-1.7zM645.1 343.6h1.7v1.7h-1.7zM668.5 342.9h1.7v1.7h-1.7zM666.6 341.0h1.7v1.7h-1.7zM662.6 343.7h1.7v1.7h-1.7zM657.1 338.4h1.7v1.7h-1.7zM653.1 353.6h1.7v1.7h-1.7zM651.2 336.5h1.7v1.7h-1.7zM645.5 337.8h1.7v1.7h-1.7zM654.7 330.6h1.7v1.7h-1.7zM621.3 339.9h1.7v1.7h-1.7zM626.9 339.7h1.7v1.7h-1.7zM653.1 345.5h1.7v1.7h-1.7zM676.1 340.4h1.7v1.7h-1.7zM642.7 330.4h1.7v1.7h-1.7zM639.1 338.3h1.7v1.7h-1.7zM620.0 338.5h1.7v1.7h-1.7zM650.8 342.2h1.7v1.7h-1.7zM646.0 338.7h1.7v1.7h-1.7zM640.0 335.0h1.7v1.7h-1.7zM624.4 338.8h1.7v1.7h-1.7zM674.2 339.1h1.7v1.7h-1.7zM656.5 331.6h1.7v1.7h-1.7zM672.5 333.0h1.7v1.7h-1.7zM663.0 338.7h1.7v1.7h-1.7zM636.6 344.7h1.7v1.7h-1.7zM651.2 339.2h1.7v1.7h-1.7zM657.8 337.9h1.7v1.7h-1.7zM645.3 341.0h1.7v1.7h-1.7zM644.9 338.4h1.7v1.7h-1.7zM641.0 328.3h1.7v1.7h-1.7zM640.9 334.8h1.7v1.7h-1.7zM651.2 345.7h1.7v1.7h-1.7zM625.7 338.8h1.7v1.7h-1.7zM617.8 331.2h1.7v1.7h-1.7zM643.4 323.4h1.7v1.7h-1.7zM623.1 339.0h1.7v1.7h-1.7zM652.2 337.3h1.7v1.7h-1.7zM638.9 352.0h1.7v1.7h-1.7zM648.6 332.4h1.7v1.7h-1.7zM676.2 342.0h1.7v1.7h-1.7zM645.4 345.8h1.7v1.7h-1.7zM653.4 342.2h1.7v1.7h-1.7zM654.5 331.3h1.7v1.7h-1.7zM665.6 339.0h1.7v1.7h-1.7zM635.9 333.0h1.7v1.7h-1.7zM665.3 335.6h1.7v1.7h-1.7zM651.7 342.3h1.7v1.7h-1.7zM652.9 328.1h1.7v1.7h-1.7zM660.6 344.1h1.7v1.7h-1.7zM664.0 348.5h1.7v1.7h-1.7zM656.5 343.1h1.7v1.7h-1.7zM674.8 336.1h1.7v1.7h-1.7zM677.0 349.3h1.7v1.7h-1.7zM662.7 350.0h1.7v1.7h-1.7zM663.8 332.3h1.7v1.7h-1.7zM668.1 340.1h1.7v1.7h-1.7zM657.2 339.0h1.7v1.7h-1.7zM671.4 341.6h1.7v1.7h-1.7zM640.6 341.2h1.7v1.7h-1.7zM661.9 333.3h1.7v1.7h-1.7zM644.5 335.5h1.7v1.7h-1.7zM641.9 340.3h1.7v1.7h-1.7zM666.3 350.3h1.7v1.7h-1.7zM668.9 344.6h1.7v1.7h-1.7zM668.1 346.7h1.7v1.7h-1.7zM645.3 342.5h1.7v1.7h-1.7zM655.8 337.2h1.7v1.7h-1.7zM644.2 334.7h1.7v1.7h-1.7zM647.0 330.0h1.7v1.7h-1.7zM658.8 337.9h1.7v1.7h-1.7zM652.6 340.2h1.7v1.7h-1.7zM661.9 334.2h1.7v1.7h-1.7zM649.4 327.5h1.7v1.7h-1.7zM617.7 325.4h1.7v1.7h-1.7zM674.1 326.1h1.7v1.7h-1.7zM658.1 347.6h1.7v1.7h-1.7zM644.1 348.6h1.7v1.7h-1.7zM678.7 344.1h1.7v1.7h-1.7zM686.6 342.0h1.7v1.7h-1.7zM640.1 341.4h1.7v1.7h-1.7zM644.4 329.6h1.7v1.7h-1.7zM631.9 353.1h1.7v1.7h-1.7zM643.0 337.9h1.7v1.7h-1.7zM641.1 338.9h1.7v1.7h-1.7zM647.5 335.4h1.7v1.7h-1.7zM633.0 328.9h1.7v1.7h-1.7zM640.0 340.0h1.7v1.7h-1.7zM682.3 344.9h1.7v1.7h-1.7zM678.6 341.2h1.7v1.7h-1.7zM649.9 329.5h1.7v1.7h-1.7zM651.3 324.2h1.7v1.7h-1.7zM646.7 348.7h1.7v1.7h-1.7zM656.2 345.5h1.7v1.7h-1.7zM645.6 329.2h1.7v1.7h-1.7zM644.1 335.6h1.7v1.7h-1.7zM669.4 351.0h1.7v1.7h-1.7zM640.2 335.8h1.7v1.7h-1.7zM649.2 335.9h1.7v1.7h-1.7zM632.7 338.8h1.7v1.7h-1.7zM656.8 340.7h1.7v1.7h-1.7zM633.3 337.4h1.7v1.7h-1.7zM625.3 344.1h1.7v1.7h-1.7zM636.1 336.4h1.7v1.7h-1.7zM644.7 334.4h1.7v1.7h-1.7zM635.5 326.7h1.7v1.7h-1.7zM677.4 339.8h1.7v1.7h-1.7zM655.4 351.8h1.7v1.7h-1.7zM649.9 341.8h1.7v1.7h-1.7zM651.8 345.9h1.7v1.7h-1.7zM659.0 340.2h1.7v1.7h-1.7zM647.6 340.0h1.7v1.7h-1.7zM668.9 324.7h1.7v1.7h-1.7zM649.5 335.5h1.7v1.7h-1.7zM647.0 325.4h1.7v1.7h-1.7zM662.5 332.7h1.7v1.7h-1.7zM648.1 334.9h1.7v1.7h-1.7zM626.4 335.3h1.7v1.7h-1.7zM623.9 332.1h1.7v1.7h-1.7zM646.8 338.2h1.7v1.7h-1.7zM652.3 337.3h1.7v1.7h-1.7zM683.6 341.0h1.7v1.7h-1.7zM633.2 334.2h1.7v1.7h-1.7zM641.6 337.1h1.7v1.7h-1.7zM642.4 332.7h1.7v1.7h-1.7zM676.2 338.5h1.7v1.7h-1.7zM646.4 336.6h1.7v1.7h-1.7zM648.2 347.3h1.7v1.7h-1.7zM658.7 345.5h1.7v1.7h-1.7zM604.7 340.3h1.7v1.7h-1.7zM667.4 351.1h1.7v1.7h-1.7zM652.0 327.1h1.7v1.7h-1.7zM660.4 334.3h1.7v1.7h-1.7zM624.6 334.2h1.7v1.7h-1.7zM667.4 346.0h1.7v1.7h-1.7zM662.4 331.4h1.7v1.7h-1.7zM689.3 330.6h1.7v1.7h-1.7zM650.4 328.8h1.7v1.7h-1.7zM671.3 341.1h1.7v1.7h-1.7zM664.9 338.8h1.7v1.7h-1.7zM650.5 339.4h1.7v1.7h-1.7zM623.3 344.7h1.7v1.7h-1.7zM665.3 335.7h1.7v1.7h-1.7zM651.4 340.2h1.7v1.7h-1.7zM675.2 341.1h1.7v1.7h-1.7zM652.3 335.0h1.7v1.7h-1.7zM629.1 334.4h1.7v1.7h-1.7zM652.7 336.6h1.7v1.7h-1.7zM652.8 343.1h1.7v1.7h-1.7zM658.2 340.1h1.7v1.7h-1.7zM661.5 339.5h1.7v1.7h-1.7zM651.2 341.3h1.7v1.7h-1.7zM625.8 346.4h1.7v1.7h-1.7zM632.4 343.7h1.7v1.7h-1.7zM651.9 345.5h1.7v1.7h-1.7zM652.2 332.2h1.7v1.7h-1.7zM667.8 339.5h1.7v1.7h-1.7zM653.5 338.8h1.7v1.7h-1.7zM666.8 343.6h1.7v1.7h-1.7zM655.2 328.2h1.7v1.7h-1.7zM645.7 339.0h1.7v1.7h-1.7zM678.7 340.8h1.7v1.7h-1.7zM650.4 346.1h1.7v1.7h-1.7zM650.1 338.2h1.7v1.7h-1.7zM654.2 328.6h1.7v1.7h-1.7zM666.2 341.1h1.7v1.7h-1.7zM647.6 330.9h1.7v1.7h-1.7zM655.0 347.5h1.7v1.7h-1.7zM642.2 331.5h1.7v1.7h-1.7zM658.1 328.0h1.7v1.7h-1.7zM618.5 335.5h1.7v1.7h-1.7zM641.5 336.6h1.7v1.7h-1.7zM643.6 340.5h1.7v1.7h-1.7zM648.5 334.5h1.7v1.7h-1.7zM645.0 342.5h1.7v1.7h-1.7zM666.2 344.3h1.7v1.7h-1.7zM662.3 316.9h1.7v1.7h-1.7zM636.8 336.3h1.7v1.7h-1.7zM655.0 327.9h1.7v1.7h-1.7zM673.2 340.4h1.7v1.7h-1.7zM642.6 339.4h1.7v1.7h-1.7zM646.7 333.4h1.7v1.7h-1.7zM659.5 335.4h1.7v1.7h-1.7zM630.7 334.3h1.7v1.7h-1.7zM650.2 331.4h1.7v1.7h-1.7zM670.8 331.3h1.7v1.7h-1.7zM678.3 344.2h1.7v1.7h-1.7zM637.8 339.2h1.7v1.7h-1.7zM669.7 337.2h1.7v1.7h-1.7zM634.1 339.1h1.7v1.7h-1.7zM681.8 328.7h1.7v1.7h-1.7zM660.3 338.5h1.7v1.7h-1.7zM650.2 335.9h1.7v1.7h-1.7zM647.2 345.2h1.7v1.7h-1.7zM661.0 332.0h1.7v1.7h-1.7zM675.4 330.0h1.7v1.7h-1.7zM662.0 339.6h1.7v1.7h-1.7zM670.0 340.8h1.7v1.7h-1.7zM667.9 338.3h1.7v1.7h-1.7zM666.6 340.7h1.7v1.7h-1.7zM684.3 333.9h1.7v1.7h-1.7zM670.0 341.5h1.7v1.7h-1.7zM654.7 334.8h1.7v1.7h-1.7zM658.8 328.9h1.7v1.7h-1.7zM631.6 343.1h1.7v1.7h-1.7zM628.8 347.8h1.7v1.7h-1.7zM648.0 340.1h1.7v1.7h-1.7zM653.2 341.2h1.7v1.7h-1.7zM647.9 336.1h1.7v1.7h-1.7zM650.2 345.3h1.7v1.7h-1.7zM669.1 346.8h1.7v1.7h-1.7zM657.6 337.2h1.7v1.7h-1.7zM626.9 342.7h1.7v1.7h-1.7zM664.7 335.9h1.7v1.7h-1.7zM664.2 346.9h1.7v1.7h-1.7zM653.6 345.4h1.7v1.7h-1.7zM656.8 327.2h1.7v1.7h-1.7zM645.1 335.8h1.7v1.7h-1.7zM660.1 332.9h1.7v1.7h-1.7zM645.6 332.2h1.7v1.7h-1.7zM651.6 339.0h1.7v1.7h-1.7zM666.8 343.7h1.7v1.7h-1.7zM654.6 340.1h1.7v1.7h-1.7zM653.8 339.2h1.7v1.7h-1.7zM675.4 322.3h1.7v1.7h-1.7zM649.5 340.5h1.7v1.7h-1.7zM669.1 331.4h1.7v1.7h-1.7zM657.4 344.1h1.7v1.7h-1.7zM645.5 326.1h1.7v1.7h-1.7zM646.8 330.7h1.7v1.7h-1.7zM661.9 333.0h1.7v1.7h-1.7zM678.9 339.4h1.7v1.7h-1.7zM640.1 335.2h1.7v1.7h-1.7zM635.8 341.0h1.7v1.7h-1.7zM674.5 337.1h1.7v1.7h-1.7zM666.0 332.4h1.7v1.7h-1.7zM656.8 353.5h1.7v1.7h-1.7zM631.1 346.5h1.7v1.7h-1.7zM669.8 326.3h1.7v1.7h-1.7zM630.6 332.2h1.7v1.7h-1.7zM666.7 335.7h1.7v1.7h-1.7zM649.6 343.1h1.7v1.7h-1.7zM653.9 340.0h1.7v1.7h-1.7zM647.3 345.8h1.7v1.7h-1.7zM640.5 349.4h1.7v1.7h-1.7zM647.1 333.3h1.7v1.7h-1.7zM661.8 341.4h1.7v1.7h-1.7zM622.4 339.9h1.7v1.7h-1.7zM631.9 333.1h1.7v1.7h-1.7zM663.9 332.9h1.7v1.7h-1.7zM657.4 336.0h1.7v1.7h-1.7zM681.1 337.9h1.7v1.7h-1.7zM634.5 331.3h1.7v1.7h-1.7zM638.5 339.3h1.7v1.7h-1.7zM652.0 344.8h1.7v1.7h-1.7zM654.6 339.3h1.7v1.7h-1.7zM656.9 337.6h1.7v1.7h-1.7zM656.4 343.5h1.7v1.7h-1.7zM663.8 334.9h1.7v1.7h-1.7zM625.5 333.2h1.7v1.7h-1.7zM656.2 322.2h1.7v1.7h-1.7zM644.8 341.3h1.7v1.7h-1.7zM643.5 331.1h1.7v1.7h-1.7zM678.2 347.4h1.7v1.7h-1.7zM648.1 347.0h1.7v1.7h-1.7zM671.4 331.0h1.7v1.7h-1.7zM692.1 332.3h1.7v1.7h-1.7zM647.9 331.3h1.7v1.7h-1.7zM653.0 329.8h1.7v1.7h-1.7zM651.8 345.4h1.7v1.7h-1.7zM655.0 336.6h1.7v1.7h-1.7zM675.0 332.5h1.7v1.7h-1.7zM666.3 336.4h1.7v1.7h-1.7zM655.0 338.5h1.7v1.7h-1.7zM653.7 338.0h1.7v1.7h-1.7zM640.0 334.6h1.7v1.7h-1.7zM658.4 337.6h1.7v1.7h-1.7zM634.3 333.7h1.7v1.7h-1.7zM641.3 337.9h1.7v1.7h-1.7zM654.4 338.9h1.7v1.7h-1.7zM641.9 338.4h1.7v1.7h-1.7zM631.1 319.5h1.7v1.7h-1.7zM650.8 327.5h1.7v1.7h-1.7zM637.4 330.4h1.7v1.7h-1.7zM661.0 330.4h1.7v1.7h-1.7zM655.7 335.0h1.7v1.7h-1.7zM633.0 328.0h1.7v1.7h-1.7zM658.4 340.7h1.7v1.7h-1.7zM663.0 350.1h1.7v1.7h-1.7zM655.5 340.0h1.7v1.7h-1.7zM649.5 338.8h1.7v1.7h-1.7zM646.1 332.3h1.7v1.7h-1.7zM681.2 326.0h1.7v1.7h-1.7zM655.1 341.0h1.7v1.7h-1.7zM653.5 331.8h1.7v1.7h-1.7zM648.3 335.1h1.7v1.7h-1.7zM635.1 337.8h1.7v1.7h-1.7zM645.0 334.5h1.7v1.7h-1.7zM661.4 331.2h1.7v1.7h-1.7zM657.7 334.1h1.7v1.7h-1.7zM657.5 338.5h1.7v1.7h-1.7zM654.6 331.6h1.7v1.7h-1.7zM639.4 332.4h1.7v1.7h-1.7zM653.6 342.8h1.7v1.7h-1.7zM667.1 334.7h1.7v1.7h-1.7zM652.2 327.5h1.7v1.7h-1.7zM617.7 332.3h1.7v1.7h-1.7zM640.9 327.9h1.7v1.7h-1.7zM624.2 341.4h1.7v1.7h-1.7zM638.8 327.0h1.7v1.7h-1.7zM685.6 339.0h1.7v1.7h-1.7zM646.0 342.3h1.7v1.7h-1.7zM639.4 348.2h1.7v1.7h-1.7zM627.7 329.4h1.7v1.7h-1.7zM648.7 332.9h1.7v1.7h-1.7zM671.8 327.5h1.7v1.7h-1.7zM639.7 339.4h1.7v1.7h-1.7zM659.0 344.3h1.7v1.7h-1.7zM655.7 352.1h1.7v1.7h-1.7zM643.5 338.9h1.7v1.7h-1.7zM663.4 335.8h1.7v1.7h-1.7zM646.1 334.8h1.7v1.7h-1.7zM640.9 330.5h1.7v1.7h-1.7zM642.2 327.7h1.7v1.7h-1.7zM656.1 327.4h1.7v1.7h-1.7zM681.3 348.8h1.7v1.7h-1.7zM666.9 336.4h1.7v1.7h-1.7zM641.6 345.7h1.7v1.7h-1.7zM653.1 341.3h1.7v1.7h-1.7zM639.6 344.6h1.7v1.7h-1.7zM638.4 338.4h1.7v1.7h-1.7zM624.5 333.5h1.7v1.7h-1.7zM657.8 334.8h1.7v1.7h-1.7zM643.6 342.8h1.7v1.7h-1.7zM649.2 345.7h1.7v1.7h-1.7zM614.1 341.4h1.7v1.7h-1.7zM657.8 327.7h1.7v1.7h-1.7zM630.8 343.4h1.7v1.7h-1.7zM634.3 333.5h1.7v1.7h-1.7zM659.2 335.5h1.7v1.7h-1.7zM657.3 332.0h1.7v1.7h-1.7zM654.7 344.7h1.7v1.7h-1.7zM655.1 323.5h1.7v1.7h-1.7zM659.9 338.0h1.7v1.7h-1.7zM636.7 346.7h1.7v1.7h-1.7zM624.2 349.8h1.7v1.7h-1.7zM640.7 347.8h1.7v1.7h-1.7zM649.5 329.0h1.7v1.7h-1.7zM651.6 339.8h1.7v1.7h-1.7zM658.3 344.5h1.7v1.7h-1.7zM636.8 340.8h1.7v1.7h-1.7zM661.2 335.9h1.7v1.7h-1.7zM636.2 331.5h1.7v1.7h-1.7zM661.4 342.8h1.7v1.7h-1.7zM637.8 329.0h1.7v1.7h-1.7zM668.7 327.6h1.7v1.7h-1.7zM652.6 332.4h1.7v1.7h-1.7zM624.0 338.4h1.7v1.7h-1.7zM647.3 347.0h1.7v1.7h-1.7zM684.1 336.4h1.7v1.7h-1.7zM665.5 344.4h1.7v1.7h-1.7zM642.4 332.0h1.7v1.7h-1.7zM674.2 335.3h1.7v1.7h-1.7zM649.8 335.8h1.7v1.7h-1.7zM648.2 333.7h1.7v1.7h-1.7zM661.3 345.8h1.7v1.7h-1.7zM644.6 328.7h1.7v1.7h-1.7zM650.9 328.0h1.7v1.7h-1.7zM640.6 345.6h1.7v1.7h-1.7zM684.8 340.1h1.7v1.7h-1.7zM634.3 342.7h1.7v1.7h-1.7zM616.6 333.1h1.7v1.7h-1.7zM680.0 346.5h1.7v1.7h-1.7zM604.8 323.7h1.7v1.7h-1.7zM662.7 339.0h1.7v1.7h-1.7zM625.2 343.4h1.7v1.7h-1.7zM625.7 321.3h1.7v1.7h-1.7zM661.5 333.3h1.7v1.7h-1.7zM614.6 326.9h1.7v1.7h-1.7zM647.0 331.9h1.7v1.7h-1.7zM656.7 336.9h1.7v1.7h-1.7zM668.5 335.8h1.7v1.7h-1.7zM623.6 320.9h1.7v1.7h-1.7zM612.1 346.3h1.7v1.7h-1.7zM719.6 327.6h1.7v1.7h-1.7zM613.7 342.7h1.7v1.7h-1.7zM652.9 333.1h1.7v1.7h-1.7zM642.6 324.3h1.7v1.7h-1.7zM632.9 348.0h1.7v1.7h-1.7zM682.8 337.9h1.7v1.7h-1.7zM633.9 343.8h1.7v1.7h-1.7zM669.2 344.1h1.7v1.7h-1.7zM621.2 342.8h1.7v1.7h-1.7zM665.6 332.7h1.7v1.7h-1.7zM606.0 344.3h1.7v1.7h-1.7zM650.1 348.6h1.7v1.7h-1.7zM642.9 333.4h1.7v1.7h-1.7zM629.3 329.8h1.7v1.7h-1.7zM616.1 334.2h1.7v1.7h-1.7zM628.1 350.0h1.7v1.7h-1.7zM608.9 339.1h1.7v1.7h-1.7zM625.4 353.6h1.7v1.7h-1.7zM647.5 336.0h1.7v1.7h-1.7zM661.8 340.2h1.7v1.7h-1.7zM628.4 354.0h1.7v1.7h-1.7zM659.1 355.9h1.7v1.7h-1.7zM670.6 346.9h1.7v1.7h-1.7zM644.2 329.3h1.7v1.7h-1.7zM659.1 340.2h1.7v1.7h-1.7zM658.3 339.5h1.7v1.7h-1.7zM623.0 330.1h1.7v1.7h-1.7zM658.9 351.8h1.7v1.7h-1.7zM633.4 343.9h1.7v1.7h-1.7zM676.6 331.7h1.7v1.7h-1.7zM632.1 329.0h1.7v1.7h-1.7zM671.3 342.1h1.7v1.7h-1.7zM629.0 324.0h1.7v1.7h-1.7zM636.3 349.0h1.7v1.7h-1.7zM633.3 335.6h1.7v1.7h-1.7zM657.5 328.0h1.7v1.7h-1.7zM642.3 345.3h1.7v1.7h-1.7zM620.8 331.8h1.7v1.7h-1.7zM647.4 338.7h1.7v1.7h-1.7zM634.9 341.6h1.7v1.7h-1.7zM646.7 330.9h1.7v1.7h-1.7zM623.8 343.9h1.7v1.7h-1.7zM670.0 352.4h1.7v1.7h-1.7zM619.2 350.0h1.7v1.7h-1.7zM660.6 339.4h1.7v1.7h-1.7zM653.7 347.5h1.7v1.7h-1.7zM687.2 329.7h1.7v1.7h-1.7zM656.6 338.4h1.7v1.7h-1.7zM635.8 350.5h1.7v1.7h-1.7zM662.2 330.1h1.7v1.7h-1.7zM633.8 341.8h1.7v1.7h-1.7zM604.7 347.8h1.7v1.7h-1.7zM639.2 341.2h1.7v1.7h-1.7zM649.8 356.7h1.7v1.7h-1.7zM642.1 336.3h1.7v1.7h-1.7zM686.0 335.0h1.7v1.7h-1.7zM627.7 326.7h1.7v1.7h-1.7zM669.0 342.3h1.7v1.7h-1.7zM653.3 341.3h1.7v1.7h-1.7zM637.7 332.3h1.7v1.7h-1.7zM621.1 343.8h1.7v1.7h-1.7zM644.4 355.1h1.7v1.7h-1.7zM621.7 335.1h1.7v1.7h-1.7zM615.0 352.7h1.7v1.7h-1.7zM609.5 347.0h1.7v1.7h-1.7zM678.3 338.4h1.7v1.7h-1.7zM659.9 319.7h1.7v1.7h-1.7zM631.3 324.2h1.7v1.7h-1.7zM645.7 339.8h1.7v1.7h-1.7zM621.5 348.6h1.7v1.7h-1.7zM650.4 334.8h1.7v1.7h-1.7zM628.1 325.9h1.7v1.7h-1.7zM636.5 359.7h1.7v1.7h-1.7zM623.0 343.7h1.7v1.7h-1.7zM627.2 347.3h1.7v1.7h-1.7zM652.6 337.6h1.7v1.7h-1.7zM595.5 334.9h1.7v1.7h-1.7zM672.2 337.5h1.7v1.7h-1.7zM657.5 335.2h1.7v1.7h-1.7zM593.4 343.8h1.7v1.7h-1.7zM649.6 334.3h1.7v1.7h-1.7zM631.8 342.5h1.7v1.7h-1.7zM626.1 343.0h1.7v1.7h-1.7zM636.1 317.6h1.7v1.7h-1.7zM637.7 334.2h1.7v1.7h-1.7zM619.9 343.6h1.7v1.7h-1.7zM628.8 344.8h1.7v1.7h-1.7zM669.5 341.1h1.7v1.7h-1.7zM601.6 332.9h1.7v1.7h-1.7zM664.9 337.4h1.7v1.7h-1.7zM620.7 338.9h1.7v1.7h-1.7zM654.4 342.2h1.7v1.7h-1.7zM658.0 332.0h1.7v1.7h-1.7zM634.4 337.4h1.7v1.7h-1.7zM640.9 320.1h1.7v1.7h-1.7zM635.4 327.2h1.7v1.7h-1.7zM677.2 354.4h1.7v1.7h-1.7zM684.7 347.4h1.7v1.7h-1.7zM629.0 348.8h1.7v1.7h-1.7zM636.3 345.6h1.7v1.7h-1.7zM618.3 334.3h1.7v1.7h-1.7zM653.5 356.5h1.7v1.7h-1.7zM640.9 361.0h1.7v1.7h-1.7zM712.4 327.8h1.7v1.7h-1.7zM640.8 330.9h1.7v1.7h-1.7zM638.0 334.8h1.7v1.7h-1.7zM639.8 348.9h1.7v1.7h-1.7zM665.7 342.3h1.7v1.7h-1.7zM641.6 341.0h1.7v1.7h-1.7zM644.8 345.2h1.7v1.7h-1.7zM641.7 344.6h1.7v1.7h-1.7zM607.9 347.3h1.7v1.7h-1.7zM686.5 341.6h1.7v1.7h-1.7zM605.3 352.5h1.7v1.7h-1.7zM633.2 311.8h1.7v1.7h-1.7zM636.0 345.6h1.7v1.7h-1.7zM651.5 351.5h1.7v1.7h-1.7zM657.6 341.0h1.7v1.7h-1.7zM590.8 329.4h1.7v1.7h-1.7zM646.3 346.2h1.7v1.7h-1.7zM615.2 334.1h1.7v1.7h-1.7zM653.7 321.9h1.7v1.7h-1.7zM591.6 337.7h1.7v1.7h-1.7zM648.2 335.4h1.7v1.7h-1.7zM582.7 340.1h1.7v1.7h-1.7zM607.5 346.0h1.7v1.7h-1.7zM639.1 342.4h1.7v1.7h-1.7zM658.2 334.9h1.7v1.7h-1.7zM663.0 351.6h1.7v1.7h-1.7zM651.9 352.4h1.7v1.7h-1.7zM625.6 348.5h1.7v1.7h-1.7zM648.6 330.6h1.7v1.7h-1.7zM639.7 334.9h1.7v1.7h-1.7zM627.5 340.7h1.7v1.7h-1.7zM669.0 336.9h1.7v1.7h-1.7zM644.9 326.1h1.7v1.7h-1.7zM644.4 350.7h1.7v1.7h-1.7zM662.6 344.4h1.7v1.7h-1.7zM628.1 330.7h1.7v1.7h-1.7zM639.3 327.3h1.7v1.7h-1.7zM609.9 348.8h1.7v1.7h-1.7zM618.1 356.8h1.7v1.7h-1.7zM604.9 343.9h1.7v1.7h-1.7zM611.5 341.5h1.7v1.7h-1.7zM614.9 340.3h1.7v1.7h-1.7zM637.7 335.6h1.7v1.7h-1.7zM654.9 354.1h1.7v1.7h-1.7zM626.5 348.2h1.7v1.7h-1.7zM643.9 339.6h1.7v1.7h-1.7zM698.2 319.5h1.7v1.7h-1.7zM624.2 322.9h1.7v1.7h-1.7zM633.6 337.7h1.7v1.7h-1.7zM739.8 343.1h1.7v1.7h-1.7zM687.9 352.1h1.7v1.7h-1.7zM630.4 344.4h1.7v1.7h-1.7zM684.7 341.5h1.7v1.7h-1.7zM647.1 344.6h1.7v1.7h-1.7zM603.0 332.2h1.7v1.7h-1.7zM650.4 345.0h1.7v1.7h-1.7zM618.0 336.8h1.7v1.7h-1.7zM638.5 338.5h1.7v1.7h-1.7zM659.5 340.9h1.7v1.7h-1.7zM645.9 326.6h1.7v1.7h-1.7zM614.5 342.9h1.7v1.7h-1.7zM600.6 342.4h1.7v1.7h-1.7zM624.6 332.2h1.7v1.7h-1.7zM658.3 333.5h1.7v1.7h-1.7zM619.5 333.5h1.7v1.7h-1.7zM643.1 365.7h1.7v1.7h-1.7zM586.9 339.7h1.7v1.7h-1.7zM635.3 348.8h1.7v1.7h-1.7zM632.0 316.5h1.7v1.7h-1.7zM675.7 329.5h1.7v1.7h-1.7zM639.9 326.9h1.7v1.7h-1.7zM613.2 335.1h1.7v1.7h-1.7zM663.6 347.7h1.7v1.7h-1.7zM626.0 344.5h1.7v1.7h-1.7zM631.8 340.8h1.7v1.7h-1.7zM645.4 345.6h1.7v1.7h-1.7zM625.5 338.5h1.7v1.7h-1.7zM647.0 340.6h1.7v1.7h-1.7zM620.7 356.0h1.7v1.7h-1.7zM629.4 346.9h1.7v1.7h-1.7zM646.6 351.3h1.7v1.7h-1.7zM584.9 359.1h1.7v1.7h-1.7zM635.8 328.1h1.7v1.7h-1.7zM644.6 361.0h1.7v1.7h-1.7zM654.3 328.1h1.7v1.7h-1.7zM629.3 352.3h1.7v1.7h-1.7zM605.0 338.0h1.7v1.7h-1.7zM633.6 360.2h1.7v1.7h-1.7zM633.7 352.1h1.7v1.7h-1.7zM623.7 332.1h1.7v1.7h-1.7zM667.2 345.6h1.7v1.7h-1.7zM596.6 345.8h1.7v1.7h-1.7zM657.8 333.9h1.7v1.7h-1.7zM646.9 342.2h1.7v1.7h-1.7zM628.6 334.2h1.7v1.7h-1.7zM623.9 337.1h1.7v1.7h-1.7zM606.9 339.3h1.7v1.7h-1.7zM602.6 340.4h1.7v1.7h-1.7zM639.0 329.9h1.7v1.7h-1.7zM663.2 358.0h1.7v1.7h-1.7zM675.4 326.8h1.7v1.7h-1.7zM674.0 341.7h1.7v1.7h-1.7zM639.8 334.1h1.7v1.7h-1.7zM641.0 352.8h1.7v1.7h-1.7zM655.2 335.8h1.7v1.7h-1.7zM623.8 335.8h1.7v1.7h-1.7zM656.3 357.3h1.7v1.7h-1.7zM613.8 339.7h1.7v1.7h-1.7zM631.2 332.6h1.7v1.7h-1.7zM651.4 344.9h1.7v1.7h-1.7zM604.6 329.9h1.7v1.7h-1.7zM671.9 342.7h1.7v1.7h-1.7zM654.6 335.0h1.7v1.7h-1.7zM631.3 344.0h1.7v1.7h-1.7zM628.3 329.2h1.7v1.7h-1.7zM641.1 348.2h1.7v1.7h-1.7zM614.6 349.6h1.7v1.7h-1.7zM659.2 331.6h1.7v1.7h-1.7zM641.3 339.3h1.7v1.7h-1.7zM657.4 345.9h1.7v1.7h-1.7zM607.6 327.0h1.7v1.7h-1.7zM667.6 340.7h1.7v1.7h-1.7zM651.9 342.8h1.7v1.7h-1.7zM680.5 328.3h1.7v1.7h-1.7zM669.2 332.0h1.7v1.7h-1.7zM659.8 352.3h1.7v1.7h-1.7zM605.5 343.5h1.7v1.7h-1.7zM634.0 336.9h1.7v1.7h-1.7zM642.2 329.8h1.7v1.7h-1.7zM616.3 345.9h1.7v1.7h-1.7zM662.9 334.3h1.7v1.7h-1.7zM603.7 361.4h1.7v1.7h-1.7zM669.4 343.1h1.7v1.7h-1.7zM614.6 334.2h1.7v1.7h-1.7zM647.3 330.7h1.7v1.7h-1.7zM682.3 341.0h1.7v1.7h-1.7zM651.2 330.0h1.7v1.7h-1.7zM617.8 332.3h1.7v1.7h-1.7zM648.2 337.2h1.7v1.7h-1.7zM633.7 342.6h1.7v1.7h-1.7zM646.9 353.6h1.7v1.7h-1.7zM636.1 330.2h1.7v1.7h-1.7zM640.8 353.4h1.7v1.7h-1.7zM626.9 340.1h1.7v1.7h-1.7zM632.0 343.5h1.7v1.7h-1.7zM647.7 332.1h1.7v1.7h-1.7zM635.3 348.5h1.7v1.7h-1.7zM669.2 348.3h1.7v1.7h-1.7zM663.2 336.6h1.7v1.7h-1.7zM631.8 348.4h1.7v1.7h-1.7zM611.1 339.1h1.7v1.7h-1.7zM593.7 336.1h1.7v1.7h-1.7zM623.1 328.4h1.7v1.7h-1.7zM656.0 332.8h1.7v1.7h-1.7zM631.8 337.3h1.7v1.7h-1.7zM622.3 353.0h1.7v1.7h-1.7zM628.5 341.5h1.7v1.7h-1.7zM607.8 335.3h1.7v1.7h-1.7zM632.9 336.8h1.7v1.7h-1.7zM626.2 341.0h1.7v1.7h-1.7zM681.0 338.5h1.7v1.7h-1.7zM637.6 336.1h1.7v1.7h-1.7zM705.9 354.7h1.7v1.7h-1.7zM655.4 346.3h1.7v1.7h-1.7zM623.0 338.3h1.7v1.7h-1.7zM646.5 340.8h1.7v1.7h-1.7zM619.3 332.4h1.7v1.7h-1.7zM654.3 342.6h1.7v1.7h-1.7zM587.4 340.6h1.7v1.7h-1.7zM673.6 333.7h1.7v1.7h-1.7zM647.3 326.1h1.7v1.7h-1.7zM662.4 329.3h1.7v1.7h-1.7zM609.3 336.8h1.7v1.7h-1.7zM701.6 334.0h1.7v1.7h-1.7zM609.0 344.0h1.7v1.7h-1.7zM647.0 355.2h1.7v1.7h-1.7zM608.9 324.9h1.7v1.7h-1.7zM633.2 343.2h1.7v1.7h-1.7zM650.3 349.8h1.7v1.7h-1.7zM603.1 332.0h1.7v1.7h-1.7zM637.9 347.5h1.7v1.7h-1.7zM653.3 335.8h1.7v1.7h-1.7zM615.2 347.9h1.7v1.7h-1.7zM665.4 365.0h1.7v1.7h-1.7zM636.7 354.8h1.7v1.7h-1.7zM610.4 334.7h1.7v1.7h-1.7zM624.0 335.4h1.7v1.7h-1.7zM618.9 334.7h1.7v1.7h-1.7zM639.8 335.5h1.7v1.7h-1.7zM658.0 338.9h1.7v1.7h-1.7zM641.2 353.4h1.7v1.7h-1.7zM649.3 341.2h1.7v1.7h-1.7zM640.7 340.3h1.7v1.7h-1.7zM655.8 332.3h1.7v1.7h-1.7zM670.4 354.3h1.7v1.7h-1.7zM670.6 335.1h1.7v1.7h-1.7zM600.7 335.7h1.7v1.7h-1.7zM645.2 347.4h1.7v1.7h-1.7zM636.6 336.9h1.7v1.7h-1.7zM680.0 333.5h1.7v1.7h-1.7zM668.4 348.1h1.7v1.7h-1.7zM607.4 342.3h1.7v1.7h-1.7zM627.0 330.9h1.7v1.7h-1.7zM594.1 325.1h1.7v1.7h-1.7zM651.8 336.1h1.7v1.7h-1.7zM648.2 329.8h1.7v1.7h-1.7zM633.1 337.2h1.7v1.7h-1.7zM601.9 324.3h1.7v1.7h-1.7zM652.5 341.1h1.7v1.7h-1.7zM617.5 338.8h1.7v1.7h-1.7zM658.1 356.8h1.7v1.7h-1.7zM618.6 345.5h1.7v1.7h-1.7zM695.2 340.3h1.7v1.7h-1.7zM678.6 315.7h1.7v1.7h-1.7zM678.2 339.6h1.7v1.7h-1.7zM593.4 347.0h1.7v1.7h-1.7zM668.0 351.0h1.7v1.7h-1.7zM671.8 339.4h1.7v1.7h-1.7zM622.2 335.4h1.7v1.7h-1.7zM640.4 343.5h1.7v1.7h-1.7zM629.0 340.2h1.7v1.7h-1.7zM663.6 342.8h1.7v1.7h-1.7zM699.7 359.8h1.7v1.7h-1.7zM612.0 334.4h1.7v1.7h-1.7zM607.9 328.9h1.7v1.7h-1.7zM655.2 330.5h1.7v1.7h-1.7zM614.5 337.2h1.7v1.7h-1.7zM661.7 336.4h1.7v1.7h-1.7zM632.1 348.3h1.7v1.7h-1.7zM653.3 344.0h1.7v1.7h-1.7zM665.4 330.3h1.7v1.7h-1.7zM646.7 333.8h1.7v1.7h-1.7zM667.5 347.3h1.7v1.7h-1.7zM614.6 352.2h1.7v1.7h-1.7zM611.4 350.6h1.7v1.7h-1.7zM646.5 331.6h1.7v1.7h-1.7zM612.7 336.9h1.7v1.7h-1.7zM640.6 333.1h1.7v1.7h-1.7zM655.6 326.6h1.7v1.7h-1.7zM641.0 339.7h1.7v1.7h-1.7zM593.4 342.6h1.7v1.7h-1.7zM608.9 316.4h1.7v1.7h-1.7zM625.5 337.6h1.7v1.7h-1.7zM664.4 335.2h1.7v1.7h-1.7zM678.9 353.2h1.7v1.7h-1.7zM669.2 352.1h1.7v1.7h-1.7zM650.2 334.5h1.7v1.7h-1.7zM657.8 348.8h1.7v1.7h-1.7zM647.3 337.4h1.7v1.7h-1.7zM601.1 346.0h1.7v1.7h-1.7zM650.2 327.5h1.7v1.7h-1.7zM643.8 346.5h1.7v1.7h-1.7zM638.4 347.1h1.7v1.7h-1.7zM660.6 325.9h1.7v1.7h-1.7zM633.5 344.3h1.7v1.7h-1.7zM664.7 352.9h1.7v1.7h-1.7zM592.0 339.1h1.7v1.7h-1.7zM659.6 351.2h1.7v1.7h-1.7zM684.5 330.9h1.7v1.7h-1.7zM631.7 329.8h1.7v1.7h-1.7zM662.2 327.3h1.7v1.7h-1.7zM671.6 348.5h1.7v1.7h-1.7zM653.7 319.3h1.7v1.7h-1.7zM623.8 346.7h1.7v1.7h-1.7zM604.8 337.5h1.7v1.7h-1.7zM638.5 348.1h1.7v1.7h-1.7zM648.5 342.3h1.7v1.7h-1.7zM629.9 339.8h1.7v1.7h-1.7zM637.8 346.5h1.7v1.7h-1.7zM636.6 349.4h1.7v1.7h-1.7zM597.6 351.0h1.7v1.7h-1.7zM636.8 350.3h1.7v1.7h-1.7zM643.3 347.7h1.7v1.7h-1.7zM679.6 334.5h1.7v1.7h-1.7zM643.2 338.1h1.7v1.7h-1.7zM646.5 324.5h1.7v1.7h-1.7zM636.8 337.4h1.7v1.7h-1.7zM621.0 337.9h1.7v1.7h-1.7zM601.5 352.8h1.7v1.7h-1.7zM652.6 357.4h1.7v1.7h-1.7zM618.7 328.7h1.7v1.7h-1.7zM648.4 324.0h1.7v1.7h-1.7zM647.0 333.1h1.7v1.7h-1.7zM632.5 342.1h1.7v1.7h-1.7zM642.3 357.2h1.7v1.7h-1.7zM657.4 327.6h1.7v1.7h-1.7zM666.3 327.1h1.7v1.7h-1.7zM643.3 328.0h1.7v1.7h-1.7zM619.8 352.0h1.7v1.7h-1.7zM626.8 333.6h1.7v1.7h-1.7zM626.6 336.7h1.7v1.7h-1.7zM678.1 328.6h1.7v1.7h-1.7zM609.3 345.1h1.7v1.7h-1.7zM600.1 336.2h1.7v1.7h-1.7zM670.1 339.6h1.7v1.7h-1.7zM628.7 333.0h1.7v1.7h-1.7zM617.4 334.1h1.7v1.7h-1.7zM644.4 351.3h1.7v1.7h-1.7zM665.7 334.3h1.7v1.7h-1.7zM622.1 346.1h1.7v1.7h-1.7zM594.2 335.5h1.7v1.7h-1.7zM632.5 329.1h1.7v1.7h-1.7zM615.2 342.8h1.7v1.7h-1.7zM598.3 331.0h1.7v1.7h-1.7zM624.1 340.3h1.7v1.7h-1.7zM605.4 349.7h1.7v1.7h-1.7zM632.7 337.0h1.7v1.7h-1.7zM631.3 333.2h1.7v1.7h-1.7zM615.3 350.2h1.7v1.7h-1.7zM645.7 338.4h1.7v1.7h-1.7zM666.0 332.7h1.7v1.7h-1.7zM656.5 339.6h1.7v1.7h-1.7zM617.5 346.5h1.7v1.7h-1.7zM602.0 345.5h1.7v1.7h-1.7zM617.6 343.2h1.7v1.7h-1.7zM676.1 274.8h1.7v1.7h-1.7zM568.5 259.4h1.7v1.7h-1.7zM581.2 230.1h1.7v1.7h-1.7zM541.0 261.2h1.7v1.7h-1.7zM630.0 214.9h1.7v1.7h-1.7zM596.9 273.0h1.7v1.7h-1.7zM606.7 234.3h1.7v1.7h-1.7zM656.7 228.8h1.7v1.7h-1.7zM635.6 300.8h1.7v1.7h-1.7zM617.3 265.6h1.7v1.7h-1.7zM558.8 251.8h1.7v1.7h-1.7zM524.7 263.1h1.7v1.7h-1.7zM629.2 242.7h1.7v1.7h-1.7zM550.1 247.6h1.7v1.7h-1.7zM599.6 261.2h1.7v1.7h-1.7zM594.4 261.4h1.7v1.7h-1.7zM633.2 295.9h1.7v1.7h-1.7zM523.4 242.6h1.7v1.7h-1.7zM616.0 283.9h1.7v1.7h-1.7zM634.8 292.1h1.7v1.7h-1.7zM596.8 270.1h1.7v1.7h-1.7zM621.9 248.5h1.7v1.7h-1.7zM664.5 275.4h1.7v1.7h-1.7zM652.5 249.5h1.7v1.7h-1.7zM655.2 232.6h1.7v1.7h-1.7zM545.2 278.2h1.7v1.7h-1.7zM575.3 263.9h1.7v1.7h-1.7zM631.7 258.8h1.7v1.7h-1.7zM621.9 267.8h1.7v1.7h-1.7zM675.8 264.9h1.7v1.7h-1.7zM520.3 252.9h1.7v1.7h-1.7zM668.6 273.9h1.7v1.7h-1.7zM576.9 274.9h1.7v1.7h-1.7zM605.8 274.9h1.7v1.7h-1.7zM635.4 253.7h1.7v1.7h-1.7zM618.4 309.2h1.7v1.7h-1.7zM582.8 265.5h1.7v1.7h-1.7zM569.5 243.5h1.7v1.7h-1.7zM595.5 222.5h1.7v1.7h-1.7zM594.0 288.0h1.7v1.7h-1.7zM606.1 263.2h1.7v1.7h-1.7zM635.6 277.7h1.7v1.7h-1.7zM534.8 290.1h1.7v1.7h-1.7zM547.4 264.6h1.7v1.7h-1.7zM689.1 250.6h1.7v1.7h-1.7zM632.6 260.7h1.7v1.7h-1.7zM622.0 237.7h1.7v1.7h-1.7zM550.2 268.0h1.7v1.7h-1.7zM634.1 243.8h1.7v1.7h-1.7zM551.8 231.3h1.7v1.7h-1.7zM607.5 250.2h1.7v1.7h-1.7zM607.6 254.7h1.7v1.7h-1.7zM699.0 248.4h1.7v1.7h-1.7zM599.7 263.4h1.7v1.7h-1.7zM597.9 258.4h1.7v1.7h-1.7zM596.1 293.7h1.7v1.7h-1.7zM577.3 228.1h1.7v1.7h-1.7zM606.5 236.3h1.7v1.7h-1.7zM621.9 232.0h1.7v1.7h-1.7zM592.7 253.7h1.7v1.7h-1.7zM597.8 246.4h1.7v1.7h-1.7zM556.2 258.0h1.7v1.7h-1.7zM568.6 263.3h1.7v1.7h-1.7zM596.3 294.6h1.7v1.7h-1.7zM615.8 274.6h1.7v1.7h-1.7zM624.0 247.6h1.7v1.7h-1.7zM528.4 279.9h1.7v1.7h-1.7zM655.9 273.7h1.7v1.7h-1.7zM622.3 269.4h1.7v1.7h-1.7zM598.1 266.4h1.7v1.7h-1.7zM600.3 267.7h1.7v1.7h-1.7zM549.3 243.6h1.7v1.7h-1.7zM629.9 250.9h1.7v1.7h-1.7zM637.9 276.4h1.7v1.7h-1.7zM564.5 231.2h1.7v1.7h-1.7zM588.5 260.0h1.7v1.7h-1.7zM558.9 263.5h1.7v1.7h-1.7zM636.2 274.6h1.7v1.7h-1.7zM600.0 243.1h1.7v1.7h-1.7zM623.5 300.6h1.7v1.7h-1.7zM686.6 266.8h1.7v1.7h-1.7zM658.5 300.7h1.7v1.7h-1.7zM602.5 266.5h1.7v1.7h-1.7zM645.1 258.8h1.7v1.7h-1.7zM573.8 241.0h1.7v1.7h-1.7zM600.6 244.3h1.7v1.7h-1.7zM642.3 251.5h1.7v1.7h-1.7zM677.4 289.9h1.7v1.7h-1.7zM535.2 286.7h1.7v1.7h-1.7zM579.3 294.0h1.7v1.7h-1.7zM627.5 258.8h1.7v1.7h-1.7zM636.0 246.1h1.7v1.7h-1.7zM618.0 269.5h1.7v1.7h-1.7zM593.0 269.6h1.7v1.7h-1.7zM548.4 273.9h1.7v1.7h-1.7zM537.4 275.5h1.7v1.7h-1.7zM625.7 277.7h1.7v1.7h-1.7zM589.3 264.0h1.7v1.7h-1.7zM561.8 295.7h1.7v1.7h-1.7zM576.7 284.9h1.7v1.7h-1.7zM552.0 268.0h1.7v1.7h-1.7zM582.2 283.4h1.7v1.7h-1.7zM586.5 239.1h1.7v1.7h-1.7zM625.4 231.0h1.7v1.7h-1.7zM551.8 279.5h1.7v1.7h-1.7zM581.1 238.0h1.7v1.7h-1.7zM614.9 276.2h1.7v1.7h-1.7zM571.7 256.4h1.7v1.7h-1.7zM644.0 279.3h1.7v1.7h-1.7zM599.7 241.8h1.7v1.7h-1.7zM553.2 246.2h1.7v1.7h-1.7zM637.9 275.1h1.7v1.7h-1.7zM618.5 295.2h1.7v1.7h-1.7zM587.1 251.6h1.7v1.7h-1.7zM582.8 308.0h1.7v1.7h-1.7zM626.2 262.6h1.7v1.7h-1.7zM643.3 239.1h1.7v1.7h-1.7zM629.2 252.1h1.7v1.7h-1.7zM605.7 266.2h1.7v1.7h-1.7zM578.5 276.8h1.7v1.7h-1.7zM688.1 286.7h1.7v1.7h-1.7zM614.9 214.0h1.7v1.7h-1.7zM660.1 287.8h1.7v1.7h-1.7zM593.8 249.8h1.7v1.7h-1.7zM638.0 241.7h1.7v1.7h-1.7zM645.3 235.1h1.7v1.7h-1.7zM556.4 262.0h1.7v1.7h-1.7zM528.8 261.7h1.7v1.7h-1.7zM631.7 229.5h1.7v1.7h-1.7zM652.2 247.9h1.7v1.7h-1.7zM632.7 266.9h1.7v1.7h-1.7zM580.8 248.9h1.7v1.7h-1.7zM564.6 301.9h1.7v1.7h-1.7zM657.1 228.3h1.7v1.7h-1.7zM645.9 267.2h1.7v1.7h-1.7zM584.9 273.1h1.7v1.7h-1.7zM645.4 247.9h1.7v1.7h-1.7zM590.4 265.9h1.7v1.7h-1.7zM553.9 266.3h1.7v1.7h-1.7zM600.5 245.3h1.7v1.7h-1.7zM561.3 269.3h1.7v1.7h-1.7zM649.9 269.9h1.7v1.7h-1.7zM560.7 280.1h1.7v1.7h-1.7zM613.5 276.3h1.7v1.7h-1.7zM664.7 239.9h1.7v1.7h-1.7zM597.6 247.4h1.7v1.7h-1.7zM559.8 310.7h1.7v1.7h-1.7zM653.2 218.9h1.7v1.7h-1.7zM626.8 248.4h1.7v1.7h-1.7zM663.9 264.0h1.7v1.7h-1.7zM595.9 265.4h1.7v1.7h-1.7zM624.6 262.7h1.7v1.7h-1.7zM593.6 258.6h1.7v1.7h-1.7zM631.2 234.5h1.7v1.7h-1.7zM604.8 259.0h1.7v1.7h-1.7zM579.9 279.9h1.7v1.7h-1.7zM538.6 253.1h1.7v1.7h-1.7zM561.1 275.2h1.7v1.7h-1.7zM580.9 263.2h1.7v1.7h-1.7zM624.7 223.2h1.7v1.7h-1.7zM628.2 243.8h1.7v1.7h-1.7zM591.9 259.2h1.7v1.7h-1.7zM646.5 279.9h1.7v1.7h-1.7zM695.7 266.3h1.7v1.7h-1.7zM580.5 249.8h1.7v1.7h-1.7zM638.6 300.9h1.7v1.7h-1.7zM622.5 248.0h1.7v1.7h-1.7zM619.1 268.2h1.7v1.7h-1.7zM606.7 244.0h1.7v1.7h-1.7zM659.1 267.2h1.7v1.7h-1.7zM614.8 232.8h1.7v1.7h-1.7zM646.0 243.0h1.7v1.7h-1.7zM633.8 262.5h1.7v1.7h-1.7zM544.4 278.1h1.7v1.7h-1.7zM536.2 294.5h1.7v1.7h-1.7zM608.1 237.0h1.7v1.7h-1.7zM679.5 231.5h1.7v1.7h-1.7zM689.6 266.1h1.7v1.7h-1.7zM593.6 259.9h1.7v1.7h-1.7zM591.2 296.7h1.7v1.7h-1.7zM612.7 217.3h1.7v1.7h-1.7zM712.5 283.4h1.7v1.7h-1.7zM549.1 253.3h1.7v1.7h-1.7zM558.5 263.1h1.7v1.7h-1.7zM625.3 267.8h1.7v1.7h-1.7zM574.3 242.6h1.7v1.7h-1.7zM648.5 259.6h1.7v1.7h-1.7zM645.5 263.2h1.7v1.7h-1.7zM566.0 295.1h1.7v1.7h-1.7zM611.3 240.3h1.7v1.7h-1.7zM588.6 286.7h1.7v1.7h-1.7zM542.1 295.5h1.7v1.7h-1.7zM640.2 255.2h1.7v1.7h-1.7zM674.7 304.5h1.7v1.7h-1.7zM635.8 266.1h1.7v1.7h-1.7zM700.0 298.3h1.7v1.7h-1.7zM557.3 257.0h1.7v1.7h-1.7zM593.9 252.0h1.7v1.7h-1.7zM527.9 284.0h1.7v1.7h-1.7zM609.3 264.4h1.7v1.7h-1.7zM593.0 329.7h1.7v1.7h-1.7zM558.7 337.6h1.7v1.7h-1.7zM549.9 334.0h1.7v1.7h-1.7zM578.0 334.9h1.7v1.7h-1.7zM591.2 328.0h1.7v1.7h-1.7zM564.7 321.6h1.7v1.7h-1.7zM557.2 328.4h1.7v1.7h-1.7zM592.0 342.0h1.7v1.7h-1.7zM572.0 352.3h1.7v1.7h-1.7zM543.8 321.4h1.7v1.7h-1.7zM559.3 331.7h1.7v1.7h-1.7zM544.8 332.3h1.7v1.7h-1.7zM521.1 349.0h1.7v1.7h-1.7zM533.2 328.7h1.7v1.7h-1.7zM573.4 319.7h1.7v1.7h-1.7zM581.7 343.8h1.7v1.7h-1.7zM552.6 324.8h1.7v1.7h-1.7zM592.7 335.5h1.7v1.7h-1.7zM542.6 326.4h1.7v1.7h-1.7zM573.5 349.2h1.7v1.7h-1.7zM529.9 329.6h1.7v1.7h-1.7zM563.7 356.4h1.7v1.7h-1.7zM557.1 330.9h1.7v1.7h-1.7zM543.2 343.1h1.7v1.7h-1.7zM521.5 342.1h1.7v1.7h-1.7z" fill="#000"/>
<line x1="207.20" y1="27.50" x2="207.20" y2="394.00" stroke="#000" stroke-width="2.5" stroke-linecap="butt"/>
<line x1="85.30" y1="314.70" x2="451.30" y2="314.70" stroke="#000" stroke-width="2.5" stroke-linecap="butt"/>
<line x1="593.40" y1="30.90" x2="593.40" y2="393.90" stroke="#000" stroke-width="2.5" stroke-linecap="butt"/>
<line x1="472.20" y1="315.00" x2="835.20" y2="315.00" stroke="#000" stroke-width="2.5" stroke-linecap="butt"/>
<text transform="translate(244.02,25.90) scale(0.9363,1)" font-family="&quot;Liberation Sans&quot;, Arial, sans-serif" font-weight="bold" font-size="36.07" fill="#000" style="white-space:pre">WT</text>
<text transform="translate(679.46,25.84) scale(0.9583,1)" font-family="&quot;Liberation Sans&quot;, Arial, sans-serif" font-weight="bold" font-size="36.18" fill="#000" style="white-space:pre">KO</text>
<text transform="translate(89.18,179.84) scale(0.9495,1)" font-family="&quot;Liberation Sans&quot;, Arial, sans-serif" font-weight="bold" font-size="35.84" fill="#000" style="white-space:pre">51.4</text>
<text transform="translate(330.94,181.64) scale(0.9570,1)" font-family="&quot;Liberation Sans&quot;, Arial, sans-serif" font-weight="bold" font-size="36.18" fill="#000" style="white-space:pre">18.0</text>
<text transform="translate(92.12,376.65) scale(0.9849,1)" font-family="&quot;Liberation Sans&quot;, Arial, sans-serif" font-weight="bold" font-size="35.34" fill="#000" style="white-space:pre">12.6</text>
<text transform="translate(325.12,364.14) scale(0.9744,1)" font-family="&quot;Liberation Sans&quot;, Arial, sans-serif" font-weight="bold" font-size="35.76" fill="#000" style="white-space:pre">18.0</text>
<text transform="translate(509.23,187.44) scale(0.9505,1)" font-family="&quot;Liberation Sans&quot;, Arial, sans-serif" font-weight="bold" font-size="36.47" fill="#000" style="white-space:pre">7.28</text>
<text transform="translate(722.04,178.83) scale(0.9286,1)" font-family="&quot;Liberation Sans&quot;, Arial, sans-serif" font-weight="bold" font-size="37.17" fill="#000" style="white-space:pre">10.0</text>
<text transform="translate(509.93,372.85) scale(0.9624,1)" font-family="&quot;Liberation Sans&quot;, Arial, sans-serif" font-weight="bold" font-size="35.63" fill="#000" style="white-space:pre">3.38</text>
<text transform="translate(728.71,367.66) scale(0.9852,1)" font-family="&quot;Liberation Sans&quot;, Arial, sans-serif" font-weight="bold" font-size="35.49" fill="#000" style="white-space:pre">79.3</text>
<text transform="translate(443.93,446.64) scale(0.9484,1)" font-family="&quot;Liberation Sans&quot;, Arial, sans-serif" font-weight="bold" font-size="36.04" fill="#000" style="white-space:pre">CD44</text>
<text transform="translate(56.54,281.88) rotate(-90) scale(0.9437,1)" font-family="&quot;Liberation Sans&quot;, Arial, sans-serif" font-weight="bold" font-size="36.47" fill="#000" style="white-space:pre">CD62L</text>
<line x1="1053.30" y1="19.80" x2="1053.30" y2="376.60" stroke="#000" stroke-width="2.6" stroke-linecap="butt"/>
<line x1="1045.90" y1="375.40" x2="1392.00" y2="375.40" stroke="#000" stroke-width="2.6" stroke-linecap="butt"/>
<line x1="1045.90" y1="21.20" x2="1053.00" y2="21.20" stroke="#000" stroke-width="2.6" stroke-linecap="butt"/>
<line x1="1045.90" y1="110.20" x2="1053.00" y2="110.20" stroke="#000" stroke-width="2.6" stroke-linecap="butt"/>
<line x1="1045.90" y1="197.90" x2="1053.00" y2="197.90" stroke="#000" stroke-width="2.6" stroke-linecap="butt"/>
<line x1="1045.90" y1="286.90" x2="1053.00" y2="286.90" stroke="#000" stroke-width="2.6" stroke-linecap="butt"/>
<line x1="1138.10" y1="375.40" x2="1138.10" y2="386.00" stroke="#000" stroke-width="2.6" stroke-linecap="butt"/>
<line x1="1306.20" y1="375.40" x2="1306.20" y2="386.00" stroke="#000" stroke-width="2.6" stroke-linecap="butt"/>
<text transform="translate(984.78,35.24) scale(0.9432,1)" font-family="&quot;Liberation Sans&quot;, Arial, sans-serif" font-weight="bold" font-size="36.04" fill="#000" style="white-space:pre">100</text>
<text transform="translate(1001.01,123.65) scale(0.9951,1)" font-family="&quot;Liberation Sans&quot;, Arial, sans-serif" font-weight="bold" font-size="35.27" fill="#000" style="white-space:pre">75</text>
<text transform="translate(1004.00,205.36) scale(0.9714,1)" font-family="&quot;Liberation Sans&quot;, Arial, sans-serif" font-weight="bold" font-size="34.35" fill="#000" style="white-space:pre">50</text>
<text transform="translate(998.78,294.65) scale(0.9834,1)" font-family="&quot;Liberation Sans&quot;, Arial, sans-serif" font-weight="bold" font-size="35.34" fill="#000" style="white-space:pre">25</text>
<text transform="translate(1022.22,380.34) scale(0.9505,1)" font-family="&quot;Liberation Sans&quot;, Arial, sans-serif" font-weight="bold" font-size="36.33" fill="#000" style="white-space:pre">0</text>
<text transform="translate(1108.51,420.10) scale(0.9156,1)" font-family="&quot;Liberation Sans&quot;, Arial, sans-serif" font-weight="bold" font-size="37.53" fill="#000" style="white-space:pre">WT</text>
<text transform="translate(1280.54,418.54) scale(0.9625,1)" font-family="&quot;Liberation Sans&quot;, Arial, sans-serif" font-weight="bold" font-size="36.33" fill="#000" style="white-space:pre">KO</text>
<text transform="translate(978.43,376.32) rotate(-90) scale(0.9702,1)" font-family="&quot;Liberation Sans&quot;, Arial, sans-serif" font-weight="bold" font-size="35.50" fill="#000" style="white-space:pre">Effector CD4 cells(%)</text>
<line x1="1081.80" y1="305.60" x2="1194.00" y2="305.60" stroke="#000" stroke-width="3.7" stroke-linecap="butt"/>
<line x1="1250.40" y1="95.80" x2="1362.90" y2="95.80" stroke="#000" stroke-width="3.7" stroke-linecap="butt"/>
<ellipse cx="1119.70" cy="313.80" rx="4.8" ry="7.2" fill="#000"/>
<ellipse cx="1137.60" cy="302.90" rx="4.8" ry="7.2" fill="#000"/>
<ellipse cx="1155.80" cy="293.90" rx="4.8" ry="7.2" fill="#000"/>
<ellipse cx="1155.80" cy="313.20" rx="4.8" ry="7.2" fill="#000"/>
<ellipse cx="1288.30" cy="106.90" rx="4.8" ry="7.2" fill="#000"/>
<ellipse cx="1306.70" cy="86.60" rx="4.8" ry="7.2" fill="#000"/>
<ellipse cx="1324.40" cy="95.00" rx="4.8" ry="7.2" fill="#000"/>
<text transform="translate(1.79,547.10) scale(0.9501,1)" font-family="&quot;Liberation Sans&quot;, Arial, sans-serif" font-weight="bold" font-size="50.04" fill="#000" style="white-space:pre">B</text>
<line x1="132.90" y1="502.70" x2="132.90" y2="835.30" stroke="#2b2b2b" stroke-width="1.8" stroke-linecap="butt"/>
<line x1="129.90" y1="835.30" x2="348.00" y2="835.30" stroke="#000" stroke-width="3.0" stroke-linecap="round"/>
<line x1="128.90" y1="502.70" x2="132.90" y2="502.70" stroke="#222" stroke-width="2.0" stroke-linecap="butt"/>
<line x1="128.90" y1="586.30" x2="132.90" y2="586.30" stroke="#222" stroke-width="2.0" stroke-linecap="butt"/>
<line x1="128.90" y1="669.50" x2="132.90" y2="669.50" stroke="#222" stroke-width="2.0" stroke-linecap="butt"/>
<line x1="128.90" y1="752.20" x2="132.90" y2="752.20" stroke="#222" stroke-width="2.0" stroke-linecap="butt"/>
<line x1="186.50" y1="835.30" x2="186.50" y2="843.30" stroke="#222" stroke-width="1.6" stroke-linecap="butt"/>
<line x1="294.40" y1="835.30" x2="294.40" y2="843.30" stroke="#222" stroke-width="1.6" stroke-linecap="butt"/>
<text transform="translate(101.58,517.64) scale(0.9653,1)" font-family="&quot;Liberation Sans&quot;, Arial, sans-serif" font-weight="bold" font-size="35.76" fill="#000" style="white-space:pre">8</text>
<text transform="translate(101.36,595.04) scale(0.9909,1)" font-family="&quot;Liberation Sans&quot;, Arial, sans-serif" font-weight="bold" font-size="36.18" fill="#000" style="white-space:pre">6</text>
<text transform="translate(101.58,680.60) scale(0.9573,1)" font-family="&quot;Liberation Sans&quot;, Arial, sans-serif" font-weight="bold" font-size="35.93" fill="#000" style="white-space:pre">4</text>
<text transform="translate(105.46,762.50) scale(0.9803,1)" font-family="&quot;Liberation Sans&quot;, Arial, sans-serif" font-weight="bold" font-size="36.13" fill="#000" style="white-space:pre">2</text>
<text transform="translate(105.60,844.04) scale(0.9583,1)" font-family="&quot;Liberation Sans&quot;, Arial, sans-serif" font-weight="bold" font-size="36.47" fill="#000" style="white-space:pre">0</text>
<text transform="translate(155.11,875.90) scale(0.9175,1)" font-family="&quot;Liberation Sans&quot;, Arial, sans-serif" font-weight="bold" font-size="37.24" fill="#000" style="white-space:pre">WT</text>
<text transform="translate(264.15,875.73) scale(0.9475,1)" font-family="&quot;Liberation Sans&quot;, Arial, sans-serif" font-weight="bold" font-size="36.75" fill="#000" style="white-space:pre">KO</text>
<line x1="150.70" y1="745.10" x2="223.00" y2="745.10" stroke="#000" stroke-width="3.3" stroke-linecap="round"/>
<line x1="258.30" y1="591.60" x2="330.90" y2="591.60" stroke="#000" stroke-width="3.3" stroke-linecap="round"/>
<ellipse cx="186.80" cy="730.30" rx="2.9" ry="6.7" fill="#111"/>
<ellipse cx="195.50" cy="745.50" rx="2.9" ry="6.7" fill="#111"/>
<ellipse cx="186.80" cy="758.20" rx="2.9" ry="6.7" fill="#111"/>
<ellipse cx="294.40" cy="546.00" rx="2.9" ry="6.7" fill="#111"/>
<ellipse cx="294.40" cy="571.20" rx="2.9" ry="6.7" fill="#111"/>
<ellipse cx="294.40" cy="659.70" rx="2.9" ry="6.7" fill="#111"/>
<text transform="translate(89.90,778.34) rotate(-90) scale(0.9492,1)" font-family="&quot;Liberation Sans&quot;, Arial, sans-serif" font-weight="bold" font-size="36.14" fill="#000" style="white-space:pre">Th1 cells(%)</text>
<text transform="translate(444.16,523.10) scale(0.9107,1)" font-family="&quot;Liberation Sans&quot;, Arial, sans-serif" font-weight="bold" font-size="50.46" fill="#000" style="white-space:pre">C</text>
<line x1="536.40" y1="500.70" x2="536.40" y2="830.80" stroke="#2b2b2b" stroke-width="1.8" stroke-linecap="butt"/>
<line x1="533.40" y1="830.80" x2="783.70" y2="830.80" stroke="#000" stroke-width="3.0" stroke-linecap="round"/>
<line x1="532.40" y1="500.70" x2="536.40" y2="500.70" stroke="#222" stroke-width="2.0" stroke-linecap="butt"/>
<line x1="532.40" y1="584.00" x2="536.40" y2="584.00" stroke="#222" stroke-width="2.0" stroke-linecap="butt"/>
<line x1="532.40" y1="666.50" x2="536.40" y2="666.50" stroke="#222" stroke-width="2.0" stroke-linecap="butt"/>
<line x1="532.40" y1="748.90" x2="536.40" y2="748.90" stroke="#222" stroke-width="2.0" stroke-linecap="butt"/>
<line x1="598.40" y1="830.80" x2="598.40" y2="838.80" stroke="#222" stroke-width="1.6" stroke-linecap="butt"/>
<line x1="722.40" y1="830.80" x2="722.40" y2="838.80" stroke="#222" stroke-width="1.6" stroke-linecap="butt"/>
<text transform="translate(508.17,516.74) scale(0.9633,1)" font-family="&quot;Liberation Sans&quot;, Arial, sans-serif" font-weight="bold" font-size="36.04" fill="#000" style="white-space:pre">8</text>
<text transform="translate(507.96,593.94) scale(1.0066,1)" font-family="&quot;Liberation Sans&quot;, Arial, sans-serif" font-weight="bold" font-size="35.62" fill="#000" style="white-space:pre">6</text>
<text transform="translate(508.09,679.70) scale(0.9444,1)" font-family="&quot;Liberation Sans&quot;, Arial, sans-serif" font-weight="bold" font-size="36.22" fill="#000" style="white-space:pre">4</text>
<text transform="translate(511.96,761.20) scale(0.9764,1)" font-family="&quot;Liberation Sans&quot;, Arial, sans-serif" font-weight="bold" font-size="36.27" fill="#000" style="white-space:pre">2</text>
<text transform="translate(511.96,843.24) scale(0.9872,1)" font-family="&quot;Liberation Sans&quot;, Arial, sans-serif" font-weight="bold" font-size="36.47" fill="#000" style="white-space:pre">0</text>
<text transform="translate(582.31,872.00) scale(0.9227,1)" font-family="&quot;Liberation Sans&quot;, Arial, sans-serif" font-weight="bold" font-size="37.24" fill="#000" style="white-space:pre">WT</text>
<text transform="translate(704.56,871.83) scale(0.9328,1)" font-family="&quot;Liberation Sans&quot;, Arial, sans-serif" font-weight="bold" font-size="37.17" fill="#000" style="white-space:pre">KO</text>
<line x1="557.30" y1="799.30" x2="640.50" y2="799.30" stroke="#000" stroke-width="3.3" stroke-linecap="round"/>
<line x1="680.80" y1="617.30" x2="764.00" y2="617.30" stroke="#000" stroke-width="3.3" stroke-linecap="round"/>
<ellipse cx="588.90" cy="796.30" rx="2.9" ry="6.7" fill="#111"/>
<ellipse cx="598.40" cy="802.60" rx="2.9" ry="6.7" fill="#111"/>
<ellipse cx="608.50" cy="800.60" rx="2.9" ry="6.7" fill="#111"/>
<ellipse cx="712.30" cy="593.40" rx="2.9" ry="6.7" fill="#111"/>
<ellipse cx="722.40" cy="611.00" rx="2.9" ry="6.7" fill="#111"/>
<ellipse cx="722.40" cy="646.30" rx="2.9" ry="6.7" fill="#111"/>
<text transform="translate(496.57,776.94) rotate(-90) scale(0.9575,1)" font-family="&quot;Liberation Sans&quot;, Arial, sans-serif" font-weight="bold" font-size="35.82" fill="#000" style="white-space:pre">Th17 cells(%)</text>
<text transform="translate(905.97,513.00) scale(0.9505,1)" font-family="&quot;Liberation Sans&quot;, Arial, sans-serif" font-weight="bold" font-size="50.33" fill="#000" style="white-space:pre">D</text>
<line x1="1054.60" y1="489.70" x2="1054.60" y2="817.60" stroke="#2b2b2b" stroke-width="1.8" stroke-linecap="butt"/>
<line x1="1051.60" y1="817.60" x2="1259.00" y2="817.60" stroke="#000" stroke-width="3.0" stroke-linecap="round"/>
<line x1="1050.60" y1="490.40" x2="1054.60" y2="490.40" stroke="#222" stroke-width="2.0" stroke-linecap="butt"/>
<line x1="1050.60" y1="572.20" x2="1054.60" y2="572.20" stroke="#222" stroke-width="2.0" stroke-linecap="butt"/>
<line x1="1050.60" y1="654.00" x2="1054.60" y2="654.00" stroke="#222" stroke-width="2.0" stroke-linecap="butt"/>
<line x1="1050.60" y1="735.80" x2="1054.60" y2="735.80" stroke="#222" stroke-width="2.0" stroke-linecap="butt"/>
<line x1="1106.10" y1="817.60" x2="1106.10" y2="825.60" stroke="#222" stroke-width="1.6" stroke-linecap="butt"/>
<line x1="1209.10" y1="817.60" x2="1209.10" y2="825.60" stroke="#222" stroke-width="1.6" stroke-linecap="butt"/>
<text transform="translate(975.01,512.64) scale(0.9640,1)" font-family="&quot;Liberation Sans&quot;, Arial, sans-serif" font-weight="bold" font-size="36.04" fill="#000" style="white-space:pre">0.60</text>
<text transform="translate(973.21,586.74) scale(0.9750,1)" font-family="&quot;Liberation Sans&quot;, Arial, sans-serif" font-weight="bold" font-size="35.62" fill="#000" style="white-space:pre">0.45</text>
<text transform="translate(973.20,667.45) scale(0.9811,1)" font-family="&quot;Liberation Sans&quot;, Arial, sans-serif" font-weight="bold" font-size="35.63" fill="#000" style="white-space:pre">0.30</text>
<text transform="translate(973.21,752.14) scale(0.9523,1)" font-family="&quot;Liberation Sans&quot;, Arial, sans-serif" font-weight="bold" font-size="36.47" fill="#000" style="white-space:pre">0.15</text>
<text transform="translate(1002.34,836.24) scale(0.9988,1)" font-family="&quot;Liberation Sans&quot;, Arial, sans-serif" font-weight="bold" font-size="36.47" fill="#000" style="white-space:pre">0</text>
<text transform="translate(1063.71,867.80) scale(0.9376,1)" font-family="&quot;Liberation Sans&quot;, Arial, sans-serif" font-weight="bold" font-size="36.51" fill="#000" style="white-space:pre">WT</text>
<text transform="translate(1172.43,867.93) scale(0.9553,1)" font-family="&quot;Liberation Sans&quot;, Arial, sans-serif" font-weight="bold" font-size="36.75" fill="#000" style="white-space:pre">KO</text>
<line x1="1071.70" y1="587.20" x2="1141.00" y2="587.20" stroke="#000" stroke-width="3.3" stroke-linecap="round"/>
<line x1="1174.70" y1="541.00" x2="1243.20" y2="541.00" stroke="#000" stroke-width="3.3" stroke-linecap="round"/>
<ellipse cx="1106.10" cy="577.00" rx="2.9" ry="6.7" fill="#111"/>
<ellipse cx="1114.50" cy="583.00" rx="2.9" ry="6.7" fill="#111"/>
<ellipse cx="1106.10" cy="599.90" rx="2.9" ry="6.7" fill="#111"/>
<ellipse cx="1200.70" cy="533.00" rx="2.9" ry="6.7" fill="#111"/>
<ellipse cx="1216.80" cy="539.80" rx="2.9" ry="6.7" fill="#111"/>
<ellipse cx="1209.10" cy="550.60" rx="2.9" ry="6.7" fill="#111"/>
<text transform="translate(959.99,770.04) rotate(-90) scale(0.9582,1)" font-family="&quot;Liberation Sans&quot;, Arial, sans-serif" font-weight="bold" font-size="35.71" fill="#000" style="white-space:pre">Th2 cells(%)</text>
<text transform="translate(1312.55,507.40) scale(0.9315,1)" font-family="&quot;Liberation Sans&quot;, Arial, sans-serif" font-weight="bold" font-size="50.04" fill="#000" style="white-space:pre">E</text>
<line x1="1411.50" y1="489.20" x2="1411.50" y2="818.10" stroke="#2b2b2b" stroke-width="1.8" stroke-linecap="butt"/>
<line x1="1408.50" y1="818.10" x2="1651.40" y2="818.10" stroke="#000" stroke-width="3.0" stroke-linecap="round"/>
<line x1="1407.50" y1="489.70" x2="1411.50" y2="489.70" stroke="#222" stroke-width="2.0" stroke-linecap="butt"/>
<line x1="1407.50" y1="572.20" x2="1411.50" y2="572.20" stroke="#222" stroke-width="2.0" stroke-linecap="butt"/>
<line x1="1407.50" y1="654.70" x2="1411.50" y2="654.70" stroke="#222" stroke-width="2.0" stroke-linecap="butt"/>
<line x1="1407.50" y1="736.30" x2="1411.50" y2="736.30" stroke="#222" stroke-width="2.0" stroke-linecap="butt"/>
<line x1="1472.00" y1="818.10" x2="1472.00" y2="826.10" stroke="#222" stroke-width="1.6" stroke-linecap="butt"/>
<line x1="1592.30" y1="818.10" x2="1592.30" y2="826.10" stroke="#222" stroke-width="1.6" stroke-linecap="butt"/>
<text transform="translate(1365.92,507.84) scale(0.9591,1)" font-family="&quot;Liberation Sans&quot;, Arial, sans-serif" font-weight="bold" font-size="36.33" fill="#000" style="white-space:pre">10</text>
<text transform="translate(1359.43,586.53) scale(0.9412,1)" font-family="&quot;Liberation Sans&quot;, Arial, sans-serif" font-weight="bold" font-size="36.70" fill="#000" style="white-space:pre">7.5</text>
<text transform="translate(1350.77,672.24) scale(0.9432,1)" font-family="&quot;Liberation Sans&quot;, Arial, sans-serif" font-weight="bold" font-size="36.47" fill="#000" style="white-space:pre">5.0</text>
<text transform="translate(1357.47,751.13) scale(0.9532,1)" font-family="&quot;Liberation Sans&quot;, Arial, sans-serif" font-weight="bold" font-size="36.75" fill="#000" style="white-space:pre">2.5</text>
<text transform="translate(1378.60,835.83) scale(0.9546,1)" font-family="&quot;Liberation Sans&quot;, Arial, sans-serif" font-weight="bold" font-size="36.61" fill="#000" style="white-space:pre">0</text>
<text transform="translate(1448.41,864.00) scale(0.9300,1)" font-family="&quot;Liberation Sans&quot;, Arial, sans-serif" font-weight="bold" font-size="36.95" fill="#000" style="white-space:pre">WT</text>
<text transform="translate(1570.12,863.83) scale(0.9630,1)" font-family="&quot;Liberation Sans&quot;, Arial, sans-serif" font-weight="bold" font-size="36.61" fill="#000" style="white-space:pre">KO</text>
<line x1="1432.30" y1="583.00" x2="1512.90" y2="583.00" stroke="#000" stroke-width="3.3" stroke-linecap="round"/>
<line x1="1552.10" y1="668.50" x2="1633.20" y2="668.50" stroke="#000" stroke-width="3.3" stroke-linecap="round"/>
<ellipse cx="1472.00" cy="546.50" rx="2.9" ry="6.7" fill="#111"/>
<ellipse cx="1472.00" cy="582.60" rx="2.9" ry="6.7" fill="#111"/>
<ellipse cx="1472.00" cy="620.80" rx="2.9" ry="6.7" fill="#111"/>
<ellipse cx="1592.30" cy="632.40" rx="2.9" ry="6.7" fill="#111"/>
<ellipse cx="1601.90" cy="681.70" rx="2.9" ry="6.7" fill="#111"/>
<ellipse cx="1592.30" cy="691.30" rx="2.9" ry="6.7" fill="#111"/>
<text transform="translate(1346.34,772.15) rotate(-90) scale(0.9887,1)" font-family="&quot;Liberation Sans&quot;, Arial, sans-serif" font-weight="bold" font-size="35.09" fill="#000" style="white-space:pre">Treg cells(%)</text>
<text transform="translate(2.97,920.00) scale(0.9308,1)" font-family="&quot;Liberation Sans&quot;, Arial, sans-serif" font-weight="bold" font-size="49.75" fill="#000" style="white-space:pre">F</text>
<line x1="145.30" y1="940.70" x2="145.30" y2="1288.60" stroke="#2b2b2b" stroke-width="1.8" stroke-linecap="butt"/>
<line x1="142.30" y1="1288.60" x2="417.30" y2="1288.60" stroke="#000" stroke-width="3.0" stroke-linecap="round"/>
<line x1="141.30" y1="941.20" x2="145.30" y2="941.20" stroke="#222" stroke-width="2.0" stroke-linecap="butt"/>
<line x1="141.30" y1="1028.30" x2="145.30" y2="1028.30" stroke="#222" stroke-width="2.0" stroke-linecap="butt"/>
<line x1="141.30" y1="1114.90" x2="145.30" y2="1114.90" stroke="#222" stroke-width="2.0" stroke-linecap="butt"/>
<line x1="141.30" y1="1201.50" x2="145.30" y2="1201.50" stroke="#222" stroke-width="2.0" stroke-linecap="butt"/>
<line x1="213.30" y1="1288.60" x2="213.30" y2="1296.60" stroke="#222" stroke-width="1.6" stroke-linecap="butt"/>
<line x1="349.70" y1="1288.60" x2="349.70" y2="1296.60" stroke="#222" stroke-width="1.6" stroke-linecap="butt"/>
<text transform="translate(101.59,955.43) scale(0.9321,1)" font-family="&quot;Liberation Sans&quot;, Arial, sans-serif" font-weight="bold" font-size="36.61" fill="#000" style="white-space:pre">40</text>
<text transform="translate(103.54,1037.75) scale(0.9248,1)" font-family="&quot;Liberation Sans&quot;, Arial, sans-serif" font-weight="bold" font-size="36.34" fill="#000" style="white-space:pre">30</text>
<text transform="translate(98.86,1125.44) scale(0.9850,1)" font-family="&quot;Liberation Sans&quot;, Arial, sans-serif" font-weight="bold" font-size="35.90" fill="#000" style="white-space:pre">20</text>
<text transform="translate(99.53,1211.34) scale(0.9676,1)" font-family="&quot;Liberation Sans&quot;, Arial, sans-serif" font-weight="bold" font-size="35.90" fill="#000" style="white-space:pre">10</text>
<text transform="translate(113.90,1301.74) scale(0.9621,1)" font-family="&quot;Liberation Sans&quot;, Arial, sans-serif" font-weight="bold" font-size="36.33" fill="#000" style="white-space:pre">0</text>
<text transform="translate(202.12,1336.20) scale(0.9231,1)" font-family="&quot;Liberation Sans&quot;, Arial, sans-serif" font-weight="bold" font-size="36.80" fill="#000" style="white-space:pre">WT</text>
<text transform="translate(328.62,1329.74) scale(0.9705,1)" font-family="&quot;Liberation Sans&quot;, Arial, sans-serif" font-weight="bold" font-size="36.33" fill="#000" style="white-space:pre">KO</text>
<line x1="167.60" y1="1064.00" x2="260.00" y2="1064.00" stroke="#000" stroke-width="3.3" stroke-linecap="round"/>
<line x1="304.00" y1="1068.70" x2="395.90" y2="1068.70" stroke="#000" stroke-width="3.3" stroke-linecap="round"/>
<ellipse cx="202.70" cy="1056.80" rx="3.7" ry="6.3" fill="#111"/>
<ellipse cx="213.80" cy="1070.80" rx="3.7" ry="6.3" fill="#111"/>
<ellipse cx="224.30" cy="1064.00" rx="3.7" ry="6.3" fill="#111"/>
<ellipse cx="339.10" cy="1060.30" rx="3.7" ry="6.3" fill="#111"/>
<ellipse cx="349.70" cy="1074.80" rx="3.7" ry="6.3" fill="#111"/>
<ellipse cx="360.80" cy="1071.90" rx="3.7" ry="6.3" fill="#111"/>
<text transform="translate(52.95,1230.74) rotate(-90) scale(0.9931,1)" font-family="&quot;Liberation Sans&quot;, Arial, sans-serif" font-weight="bold" font-size="34.97" fill="#000" style="white-space:pre">Differentiated</text>
<text transform="translate(94.54,1230.15) rotate(-90) scale(0.9746,1)" font-family="&quot;Liberation Sans&quot;, Arial, sans-serif" font-weight="bold" font-size="35.51" fill="#000" style="white-space:pre">Th1 cells</text>
<text transform="translate(99.64,1090.24) rotate(-90) scale(0.9037,1)" font-family="&quot;Liberation Sans&quot;, &quot;Noto Sans CJK SC&quot;, sans-serif" font-weight="normal" font-size="32.23" fill="#000" style="white-space:pre">（</text>
<text transform="translate(94.92,1046.84) rotate(-90) scale(0.8863,1)" font-family="&quot;Liberation Sans&quot;, Arial, sans-serif" font-weight="bold" font-size="37.72" fill="#000" style="white-space:pre">%</text>
<text transform="translate(99.64,1006.41) rotate(-90) scale(0.8555,1)" font-family="&quot;Liberation Sans&quot;, &quot;Noto Sans CJK SC&quot;, sans-serif" font-weight="normal" font-size="32.23" fill="#000" style="white-space:pre">）</text>
<text transform="translate(1003.12,922.90) scale(0.8808,1)" font-family="&quot;Liberation Sans&quot;, Arial, sans-serif" font-weight="bold" font-size="50.46" fill="#000" style="white-space:pre">G</text>
<line x1="1039.40" y1="928.30" x2="1039.40" y2="1281.20" stroke="#2b2b2b" stroke-width="1.8" stroke-linecap="butt"/>
<line x1="1036.40" y1="1281.20" x2="1276.40" y2="1281.20" stroke="#000" stroke-width="3.0" stroke-linecap="round"/>
<line x1="1035.40" y1="928.30" x2="1039.40" y2="928.30" stroke="#222" stroke-width="2.0" stroke-linecap="butt"/>
<line x1="1035.40" y1="1017.20" x2="1039.40" y2="1017.20" stroke="#222" stroke-width="2.0" stroke-linecap="butt"/>
<line x1="1035.40" y1="1104.90" x2="1039.40" y2="1104.90" stroke="#222" stroke-width="2.0" stroke-linecap="butt"/>
<line x1="1035.40" y1="1193.50" x2="1039.40" y2="1193.50" stroke="#222" stroke-width="2.0" stroke-linecap="butt"/>
<line x1="1098.50" y1="1281.20" x2="1098.50" y2="1289.20" stroke="#222" stroke-width="1.6" stroke-linecap="butt"/>
<line x1="1217.80" y1="1281.20" x2="1217.80" y2="1289.20" stroke="#222" stroke-width="1.6" stroke-linecap="butt"/>
<text transform="translate(993.27,1026.03) scale(0.9305,1)" font-family="&quot;Liberation Sans&quot;, Arial, sans-serif" font-weight="bold" font-size="36.56" fill="#000" style="white-space:pre">15</text>
<text transform="translate(989.98,1114.04) scale(0.9418,1)" font-family="&quot;Liberation Sans&quot;, Arial, sans-serif" font-weight="bold" font-size="36.04" fill="#000" style="white-space:pre">10</text>
<text transform="translate(1000.79,1200.34) scale(0.9497,1)" font-family="&quot;Liberation Sans&quot;, Arial, sans-serif" font-weight="bold" font-size="35.56" fill="#000" style="white-space:pre">5</text>
<text transform="translate(1003.59,1290.04) scale(0.9852,1)" font-family="&quot;Liberation Sans&quot;, Arial, sans-serif" font-weight="bold" font-size="35.90" fill="#000" style="white-space:pre">0</text>
<text transform="translate(1079.81,1315.90) scale(0.9340,1)" font-family="&quot;Liberation Sans&quot;, Arial, sans-serif" font-weight="bold" font-size="36.51" fill="#000" style="white-space:pre">WT</text>
<text transform="translate(1201.15,1316.13) scale(0.9512,1)" font-family="&quot;Liberation Sans&quot;, Arial, sans-serif" font-weight="bold" font-size="36.61" fill="#000" style="white-space:pre">KO</text>
<line x1="1058.90" y1="1077.90" x2="1138.60" y2="1077.90" stroke="#000" stroke-width="3.3" stroke-linecap="round"/>
<line x1="1177.70" y1="1081.10" x2="1257.40" y2="1081.10" stroke="#000" stroke-width="3.3" stroke-linecap="round"/>
<ellipse cx="1098.50" cy="1066.90" rx="2.9" ry="6.7" fill="#111"/>
<ellipse cx="1098.50" cy="1091.10" rx="2.9" ry="6.7" fill="#111"/>
<ellipse cx="1217.80" cy="1057.60" rx="2.9" ry="6.7" fill="#111"/>
<ellipse cx="1217.80" cy="1105.70" rx="2.9" ry="6.7" fill="#111"/>
<text transform="translate(944.45,1183.04) rotate(-90) scale(0.9970,1)" font-family="&quot;Liberation Sans&quot;, Arial, sans-serif" font-weight="bold" font-size="34.83" fill="#000" style="white-space:pre">Differentiated</text>
<text transform="translate(985.69,1183.24) rotate(-90) scale(0.9891,1)" font-family="&quot;Liberation Sans&quot;, Arial, sans-serif" font-weight="bold" font-size="34.75" fill="#000" style="white-space:pre">Th2  cells(%)</text>
<text transform="translate(11.56,1408.30) scale(0.9233,1)" font-family="&quot;Liberation Sans&quot;, Arial, sans-serif" font-weight="bold" font-size="50.33" fill="#000" style="white-space:pre">H</text>
<line x1="147.10" y1="1401.00" x2="147.10" y2="1743.90" stroke="#2b2b2b" stroke-width="1.8" stroke-linecap="butt"/>
<line x1="144.10" y1="1743.90" x2="381.80" y2="1743.90" stroke="#000" stroke-width="3.0" stroke-linecap="round"/>
<line x1="143.10" y1="1401.00" x2="147.10" y2="1401.00" stroke="#222" stroke-width="2.0" stroke-linecap="butt"/>
<line x1="143.10" y1="1486.60" x2="147.10" y2="1486.60" stroke="#222" stroke-width="2.0" stroke-linecap="butt"/>
<line x1="143.10" y1="1572.20" x2="147.10" y2="1572.20" stroke="#222" stroke-width="2.0" stroke-linecap="butt"/>
<line x1="143.10" y1="1658.00" x2="147.10" y2="1658.00" stroke="#222" stroke-width="2.0" stroke-linecap="butt"/>
<line x1="205.70" y1="1743.90" x2="205.70" y2="1751.90" stroke="#222" stroke-width="1.6" stroke-linecap="butt"/>
<line x1="324.00" y1="1743.90" x2="324.00" y2="1751.90" stroke="#222" stroke-width="1.6" stroke-linecap="butt"/>
<text transform="translate(106.98,1424.24) scale(0.9465,1)" font-family="&quot;Liberation Sans&quot;, Arial, sans-serif" font-weight="bold" font-size="35.76" fill="#000" style="white-space:pre">52</text>
<text transform="translate(107.15,1501.36) scale(0.9450,1)" font-family="&quot;Liberation Sans&quot;, Arial, sans-serif" font-weight="bold" font-size="35.49" fill="#000" style="white-space:pre">39</text>
<text transform="translate(106.28,1591.84) scale(0.9609,1)" font-family="&quot;Liberation Sans&quot;, Arial, sans-serif" font-weight="bold" font-size="36.33" fill="#000" style="white-space:pre">26</text>
<text transform="translate(106.53,1682.05) scale(0.9690,1)" font-family="&quot;Liberation Sans&quot;, Arial, sans-serif" font-weight="bold" font-size="35.77" fill="#000" style="white-space:pre">13</text>
<text transform="translate(114.74,1760.03) scale(0.9911,1)" font-family="&quot;Liberation Sans&quot;, Arial, sans-serif" font-weight="bold" font-size="36.75" fill="#000" style="white-space:pre">0</text>
<text transform="translate(181.31,1788.30) scale(0.9104,1)" font-family="&quot;Liberation Sans&quot;, Arial, sans-serif" font-weight="bold" font-size="37.53" fill="#000" style="white-space:pre">WT</text>
<text transform="translate(298.45,1784.54) scale(0.9549,1)" font-family="&quot;Liberation Sans&quot;, Arial, sans-serif" font-weight="bold" font-size="36.47" fill="#000" style="white-space:pre">KO</text>
<line x1="167.00" y1="1543.80" x2="245.60" y2="1543.80" stroke="#000" stroke-width="3.3" stroke-linecap="round"/>
<line x1="284.30" y1="1540.00" x2="363.40" y2="1540.00" stroke="#000" stroke-width="3.3" stroke-linecap="round"/>
<ellipse cx="205.70" cy="1545.90" rx="2.9" ry="6.7" fill="#111"/>
<ellipse cx="215.20" cy="1542.80" rx="2.9" ry="6.7" fill="#111"/>
<ellipse cx="324.00" cy="1527.30" rx="2.9" ry="6.7" fill="#111"/>
<ellipse cx="324.00" cy="1552.30" rx="2.9" ry="6.7" fill="#111"/>
<text transform="translate(49.66,1666.65) rotate(-90) scale(1.0125,1)" font-family="&quot;Liberation Sans&quot;, Arial, sans-serif" font-weight="bold" font-size="34.42" fill="#000" style="white-space:pre">Differentiated</text>
<text transform="translate(91.37,1656.74) rotate(-90) scale(0.9875,1)" font-family="&quot;Liberation Sans&quot;, Arial, sans-serif" font-weight="bold" font-size="34.85" fill="#000" style="white-space:pre">Th17  cells(%)</text>
<text transform="translate(927.68,1418.30) scale(0.9875,1)" font-family="&quot;Liberation Sans&quot;, Arial, sans-serif" font-weight="bold" font-size="49.75" fill="#000" style="white-space:pre">I</text>
<line x1="1030.80" y1="1392.10" x2="1030.80" y2="1551.30" stroke="#2b2b2b" stroke-width="1.8" stroke-linecap="butt"/>
<line x1="1030.80" y1="1576.10" x2="1030.80" y2="1734.00" stroke="#2b2b2b" stroke-width="1.8" stroke-linecap="butt"/>
<line x1="1025.50" y1="1392.10" x2="1030.80" y2="1392.10" stroke="#222" stroke-width="2.0" stroke-linecap="butt"/>
<line x1="1025.50" y1="1472.60" x2="1030.80" y2="1472.60" stroke="#222" stroke-width="2.0" stroke-linecap="butt"/>
<line x1="1025.50" y1="1551.30" x2="1034.00" y2="1551.30" stroke="#222" stroke-width="2.0" stroke-linecap="butt"/>
<line x1="1025.50" y1="1576.10" x2="1034.00" y2="1576.10" stroke="#222" stroke-width="2.0" stroke-linecap="butt"/>
<line x1="1025.50" y1="1655.40" x2="1030.80" y2="1655.40" stroke="#222" stroke-width="2.0" stroke-linecap="butt"/>
<line x1="1026.60" y1="1733.80" x2="1274.00" y2="1733.80" stroke="#000" stroke-width="3.0" stroke-linecap="round"/>
<line x1="1091.40" y1="1733.80" x2="1091.40" y2="1744.20" stroke="#222" stroke-width="1.6" stroke-linecap="butt"/>
<line x1="1213.70" y1="1733.80" x2="1213.70" y2="1744.20" stroke="#222" stroke-width="1.6" stroke-linecap="butt"/>
<clipPath id="c100"><rect x="960" y="1380" width="64.5" height="50"/></clipPath>
<g clip-path="url(#c100)"><text transform="translate(971.49,1415.34) scale(0.9842,1)" font-family="&quot;Liberation Sans&quot;, Arial, sans-serif" font-weight="bold" font-size="35.90" fill="#000" style="white-space:pre">100</text></g>
<text transform="translate(979.51,1484.34) scale(0.9446,1)" font-family="&quot;Liberation Sans&quot;, Arial, sans-serif" font-weight="bold" font-size="35.90" fill="#000" style="white-space:pre">90</text>
<text transform="translate(979.58,1548.44) scale(0.9585,1)" font-family="&quot;Liberation Sans&quot;, Arial, sans-serif" font-weight="bold" font-size="35.90" fill="#000" style="white-space:pre">80</text>
<text transform="translate(979.58,1588.04) scale(0.9473,1)" font-family="&quot;Liberation Sans&quot;, Arial, sans-serif" font-weight="bold" font-size="36.33" fill="#000" style="white-space:pre">80</text>
<text transform="translate(983.78,1664.94) scale(0.9740,1)" font-family="&quot;Liberation Sans&quot;, Arial, sans-serif" font-weight="bold" font-size="35.62" fill="#000" style="white-space:pre">40</text>
<text transform="translate(1001.19,1750.34) scale(0.9755,1)" font-family="&quot;Liberation Sans&quot;, Arial, sans-serif" font-weight="bold" font-size="36.04" fill="#000" style="white-space:pre">0</text>
<text transform="translate(1086.41,1772.80) scale(0.9360,1)" font-family="&quot;Liberation Sans&quot;, Arial, sans-serif" font-weight="bold" font-size="36.36" fill="#000" style="white-space:pre">WT</text>
<text transform="translate(1231.73,1772.74) scale(0.9723,1)" font-family="&quot;Liberation Sans&quot;, Arial, sans-serif" font-weight="bold" font-size="36.18" fill="#000" style="white-space:pre">KO</text>
<line x1="1050.60" y1="1502.90" x2="1132.60" y2="1502.90" stroke="#000" stroke-width="3.3" stroke-linecap="round"/>
<line x1="1172.60" y1="1497.40" x2="1254.50" y2="1497.40" stroke="#000" stroke-width="3.3" stroke-linecap="round"/>
<ellipse cx="1081.60" cy="1501.30" rx="3.3" ry="6.3" fill="#111"/>
<ellipse cx="1091.40" cy="1490.50" rx="3.3" ry="6.3" fill="#111"/>
<ellipse cx="1091.40" cy="1513.70" rx="3.3" ry="6.3" fill="#111"/>
<ellipse cx="1101.10" cy="1508.50" rx="3.3" ry="6.3" fill="#111"/>
<ellipse cx="1204.00" cy="1488.70" rx="3.3" ry="6.3" fill="#111"/>
<ellipse cx="1213.80" cy="1504.70" rx="3.3" ry="6.3" fill="#111"/>
<ellipse cx="1223.60" cy="1499.00" rx="3.3" ry="6.3" fill="#111"/>
<text transform="translate(923.36,1690.74) rotate(-90) scale(1.0128,1)" font-family="&quot;Liberation Sans&quot;, Arial, sans-serif" font-weight="bold" font-size="34.29" fill="#000" style="white-space:pre">Differentiated</text>
<text transform="translate(964.72,1681.15) rotate(-90) scale(0.9838,1)" font-family="&quot;Liberation Sans&quot;, Arial, sans-serif" font-weight="bold" font-size="35.20" fill="#000" style="white-space:pre">Treg  cells(%)</text>
<line x1="462.60" y1="912.80" x2="847.50" y2="912.80" stroke="#999" stroke-width="1.6" stroke-linecap="butt"/>
<line x1="462.60" y1="1288.00" x2="847.50" y2="1288.00" stroke="#999" stroke-width="1.6" stroke-linecap="butt"/>
<polyline points="462.74,1285.89 527.86,1285.37 535.61,1282.27 543.36,1275.55 548.53,1262.11 553.70,1246.61 558.87,1225.93 562.75,1205.26 565.33,1179.42 567.91,1148.41 571.79,1144.54 575.67,1144.02 579.54,1152.29 582.64,1135.49 586.00,1070.89 589.36,998.53 591.69,971.40 595.05,980.44 598.15,1019.21 601.51,1076.06 604.87,1117.40 607.97,1130.32 610.55,1126.45 613.14,1101.90 615.72,1068.30 617.79,1059.26 620.11,1065.72 623.47,1101.90 626.57,1148.41 629.93,1194.93 633.29,1225.93 635.88,1238.86 638.98,1236.27 642.85,1230.59 646.73,1246.61 650.61,1263.40 655.77,1271.93 662.23,1276.32 672.57,1281.49 680.32,1284.08 693.24,1284.85 698.41,1285.89 711.33,1285.89 724.25,1284.08 737.17,1283.30 744.93,1284.08 755.26,1285.89 847.77,1285.89" fill="none" stroke="#00ff00" stroke-width="2.3" stroke-linecap="round" stroke-linejoin="round"/>
<polyline points="462.74,1286.14 533.03,1285.89 538.20,1283.30 548.53,1280.20 557.58,1276.32 564.04,1268.57 569.21,1251.78 573.08,1231.10 576.96,1200.09 579.54,1184.59 583.42,1171.67 588.59,1154.87 592.46,1163.92 595.05,1169.08 598.15,1145.83 600.73,1109.65 603.32,1057.97 605.90,998.53 609.78,954.60 612.62,988.20 614.43,1039.88 617.01,1096.73 620.37,1148.41 623.47,1187.17 626.57,1202.68 629.16,1197.51 632.52,1176.84 635.10,1165.21 637.68,1176.84 640.27,1205.26 644.14,1236.27 648.02,1259.53 652.41,1269.86 658.36,1271.16 664.82,1275.03 672.57,1279.68 680.32,1283.30 693.24,1285.37 708.75,1285.37 713.92,1284.08 724.25,1283.30 739.76,1283.30 753.97,1284.34 757.85,1286.14 847.77,1286.14" fill="none" stroke="#ff0000" stroke-width="2.3" stroke-linecap="round" stroke-linejoin="round"/>
<line x1="847.50" y1="912.00" x2="847.50" y2="1288.80" stroke="#333" stroke-width="1.3" stroke-linecap="butt"/>
<line x1="462.60" y1="912.00" x2="462.60" y2="1288.80" stroke="#333" stroke-width="1.4" stroke-linecap="butt"/>
<line x1="459.20" y1="930.20" x2="462.60" y2="930.20" stroke="#222" stroke-width="1.4" stroke-linecap="butt"/>
<line x1="460.80" y1="948.10" x2="462.60" y2="948.10" stroke="#555" stroke-width="1.0" stroke-linecap="butt"/>
<line x1="460.80" y1="966.00" x2="462.60" y2="966.00" stroke="#555" stroke-width="1.0" stroke-linecap="butt"/>
<line x1="460.80" y1="983.90" x2="462.60" y2="983.90" stroke="#555" stroke-width="1.0" stroke-linecap="butt"/>
<line x1="459.20" y1="1001.80" x2="462.60" y2="1001.80" stroke="#222" stroke-width="1.4" stroke-linecap="butt"/>
<line x1="460.80" y1="1019.67" x2="462.60" y2="1019.67" stroke="#555" stroke-width="1.0" stroke-linecap="butt"/>
<line x1="460.80" y1="1037.55" x2="462.60" y2="1037.55" stroke="#555" stroke-width="1.0" stroke-linecap="butt"/>
<line x1="460.80" y1="1055.42" x2="462.60" y2="1055.42" stroke="#555" stroke-width="1.0" stroke-linecap="butt"/>
<line x1="459.20" y1="1073.30" x2="462.60" y2="1073.30" stroke="#222" stroke-width="1.4" stroke-linecap="butt"/>
<line x1="460.80" y1="1091.15" x2="462.60" y2="1091.15" stroke="#555" stroke-width="1.0" stroke-linecap="butt"/>
<line x1="460.80" y1="1109.00" x2="462.60" y2="1109.00" stroke="#555" stroke-width="1.0" stroke-linecap="butt"/>
<line x1="460.80" y1="1126.85" x2="462.60" y2="1126.85" stroke="#555" stroke-width="1.0" stroke-linecap="butt"/>
<line x1="459.20" y1="1144.70" x2="462.60" y2="1144.70" stroke="#222" stroke-width="1.4" stroke-linecap="butt"/>
<line x1="460.80" y1="1162.53" x2="462.60" y2="1162.53" stroke="#555" stroke-width="1.0" stroke-linecap="butt"/>
<line x1="460.80" y1="1180.35" x2="462.60" y2="1180.35" stroke="#555" stroke-width="1.0" stroke-linecap="butt"/>
<line x1="460.80" y1="1198.17" x2="462.60" y2="1198.17" stroke="#555" stroke-width="1.0" stroke-linecap="butt"/>
<line x1="459.20" y1="1216.00" x2="462.60" y2="1216.00" stroke="#222" stroke-width="1.4" stroke-linecap="butt"/>
<line x1="460.80" y1="1233.85" x2="462.60" y2="1233.85" stroke="#555" stroke-width="1.0" stroke-linecap="butt"/>
<line x1="460.80" y1="1251.70" x2="462.60" y2="1251.70" stroke="#555" stroke-width="1.0" stroke-linecap="butt"/>
<line x1="460.80" y1="1269.55" x2="462.60" y2="1269.55" stroke="#555" stroke-width="1.0" stroke-linecap="butt"/>
<line x1="459.20" y1="1287.40" x2="462.60" y2="1287.40" stroke="#222" stroke-width="1.4" stroke-linecap="butt"/>
<line x1="511.00" y1="1288.00" x2="511.00" y2="1291.00" stroke="#333" stroke-width="1.2" stroke-linecap="butt"/>
<line x1="655.00" y1="1288.00" x2="655.00" y2="1291.00" stroke="#333" stroke-width="1.2" stroke-linecap="butt"/>
<line x1="751.40" y1="1288.00" x2="751.40" y2="1291.00" stroke="#333" stroke-width="1.2" stroke-linecap="butt"/>
<line x1="460.70" y1="1302.20" x2="845.00" y2="1304.00" stroke="#000" stroke-width="7.5" stroke-linecap="butt"/>
<polyline points="820.60,1290.50 842.30,1304.00 820.60,1317.50" fill="none" stroke="#000" stroke-width="7.5" stroke-linecap="round" stroke-linejoin="miter"/>
<text transform="translate(599.85,1344.07) scale(0.9503,1)" font-family="&quot;Liberation Sans&quot;, Arial, sans-serif" font-weight="bold" font-size="43.39" fill="#000" style="white-space:pre">CFSE</text>
<line x1="707.20" y1="953.30" x2="756.20" y2="953.30" stroke="#00b050" stroke-width="7.5" stroke-linecap="butt"/>
<text transform="translate(769.22,964.10) scale(0.9665,1)" font-family="&quot;Liberation Sans&quot;, Arial, sans-serif" font-weight="normal" font-size="36.51" fill="#00b050" style="white-space:pre">WT</text>
<line x1="708.80" y1="1002.20" x2="758.00" y2="1002.20" stroke="#ff0000" stroke-width="7.8" stroke-linecap="butt"/>
<text transform="translate(772.46,1015.83) scale(0.9722,1)" font-family="&quot;Liberation Sans&quot;, Arial, sans-serif" font-weight="normal" font-size="36.61" fill="#ff0000" style="white-space:pre">KO</text>
<line x1="1348.30" y1="892.90" x2="1726.90" y2="892.90" stroke="#999" stroke-width="1.6" stroke-linecap="butt"/>
<line x1="1348.30" y1="1277.40" x2="1726.90" y2="1277.40" stroke="#999" stroke-width="1.6" stroke-linecap="butt"/>
<polyline points="1348.32,1276.84 1432.38,1276.84 1440.47,1274.15 1448.55,1268.22 1453.94,1257.98 1458.79,1244.51 1463.37,1228.35 1467.95,1212.18 1472.80,1190.63 1476.84,1166.38 1480.88,1134.04 1484.92,1096.32 1488.43,1047.83 1491.66,999.33 1494.89,977.77 1497.05,975.08 1499.74,985.86 1502.44,1020.88 1505.67,1042.44 1507.83,1037.05 1510.52,1031.66 1513.75,1042.44 1518.06,1055.91 1521.84,1058.60 1526.15,1063.99 1529.38,1080.16 1532.07,1112.49 1535.31,1136.74 1539.62,1148.86 1543.39,1166.38 1546.09,1185.24 1549.59,1208.14 1553.63,1224.30 1558.48,1229.69 1565.75,1229.69 1569.26,1237.78 1573.03,1248.55 1578.42,1255.83 1585.42,1260.68 1591.89,1257.98 1599.43,1252.59 1605.36,1246.67 1610.21,1236.43 1615.06,1226.19 1618.83,1225.65 1623.68,1232.39 1629.61,1236.97 1633.92,1243.16 1638.50,1257.44 1643.08,1264.99 1651.16,1266.61 1659.25,1270.38 1672.72,1271.99 1683.50,1274.69 1691.04,1276.30 1726.87,1276.84" fill="none" stroke="#ff0000" stroke-width="2.3" stroke-linecap="round" stroke-linejoin="round"/>
<polyline points="1348.32,1276.04 1424.30,1275.50 1432.38,1273.61 1440.47,1270.11 1445.32,1263.37 1449.90,1249.90 1454.48,1231.04 1459.33,1213.53 1463.37,1196.01 1466.06,1171.76 1468.76,1128.66 1471.45,1085.55 1474.69,1050.52 1478.19,1042.44 1482.23,1037.05 1487.62,1026.27 1493.01,1012.80 1495.70,1016.84 1498.93,1024.92 1501.63,1015.49 1503.78,1006.06 1506.48,1020.88 1509.17,1053.21 1512.68,1072.07 1515.91,1078.81 1518.60,1101.71 1521.84,1136.74 1524.53,1150.21 1528.84,1158.29 1532.61,1177.15 1536.92,1201.40 1541.50,1210.02 1546.89,1211.64 1551.47,1221.61 1556.32,1237.78 1561.17,1252.59 1567.10,1257.17 1577.88,1257.17 1584.61,1263.91 1592.70,1270.11 1599.43,1267.41 1610.21,1262.02 1616.95,1257.98 1622.33,1251.25 1627.72,1243.16 1633.11,1238.58 1636.61,1243.16 1640.39,1252.59 1645.78,1263.91 1651.97,1271.45 1660.06,1273.34 1670.83,1274.15 1681.61,1274.69 1692.39,1275.23 1696.43,1276.04 1726.87,1276.04" fill="none" stroke="#00ff00" stroke-width="2.3" stroke-linecap="round" stroke-linejoin="round"/>
<line x1="1726.90" y1="892.10" x2="1726.90" y2="1278.20" stroke="#333" stroke-width="1.3" stroke-linecap="butt"/>
<line x1="1348.30" y1="892.10" x2="1348.30" y2="1278.20" stroke="#333" stroke-width="1.4" stroke-linecap="butt"/>
<line x1="1342.10" y1="901.80" x2="1348.30" y2="901.80" stroke="#222" stroke-width="1.4" stroke-linecap="butt"/>
<line x1="1346.50" y1="925.17" x2="1348.30" y2="925.17" stroke="#555" stroke-width="1.0" stroke-linecap="butt"/>
<line x1="1346.50" y1="948.55" x2="1348.30" y2="948.55" stroke="#555" stroke-width="1.0" stroke-linecap="butt"/>
<line x1="1346.50" y1="971.92" x2="1348.30" y2="971.92" stroke="#555" stroke-width="1.0" stroke-linecap="butt"/>
<line x1="1342.10" y1="995.30" x2="1348.30" y2="995.30" stroke="#222" stroke-width="1.4" stroke-linecap="butt"/>
<line x1="1346.50" y1="1018.67" x2="1348.30" y2="1018.67" stroke="#555" stroke-width="1.0" stroke-linecap="butt"/>
<line x1="1346.50" y1="1042.05" x2="1348.30" y2="1042.05" stroke="#555" stroke-width="1.0" stroke-linecap="butt"/>
<line x1="1346.50" y1="1065.42" x2="1348.30" y2="1065.42" stroke="#555" stroke-width="1.0" stroke-linecap="butt"/>
<line x1="1342.10" y1="1088.80" x2="1348.30" y2="1088.80" stroke="#222" stroke-width="1.4" stroke-linecap="butt"/>
<line x1="1346.50" y1="1112.22" x2="1348.30" y2="1112.22" stroke="#555" stroke-width="1.0" stroke-linecap="butt"/>
<line x1="1346.50" y1="1135.65" x2="1348.30" y2="1135.65" stroke="#555" stroke-width="1.0" stroke-linecap="butt"/>
<line x1="1346.50" y1="1159.08" x2="1348.30" y2="1159.08" stroke="#555" stroke-width="1.0" stroke-linecap="butt"/>
<line x1="1342.10" y1="1182.50" x2="1348.30" y2="1182.50" stroke="#222" stroke-width="1.4" stroke-linecap="butt"/>
<line x1="1346.50" y1="1205.95" x2="1348.30" y2="1205.95" stroke="#555" stroke-width="1.0" stroke-linecap="butt"/>
<line x1="1346.50" y1="1229.40" x2="1348.30" y2="1229.40" stroke="#555" stroke-width="1.0" stroke-linecap="butt"/>
<line x1="1346.50" y1="1252.85" x2="1348.30" y2="1252.85" stroke="#555" stroke-width="1.0" stroke-linecap="butt"/>
<line x1="1342.10" y1="1276.30" x2="1348.30" y2="1276.30" stroke="#222" stroke-width="1.4" stroke-linecap="butt"/>
<line x1="1394.70" y1="1277.40" x2="1394.70" y2="1280.40" stroke="#333" stroke-width="1.2" stroke-linecap="butt"/>
<line x1="1537.50" y1="1277.40" x2="1537.50" y2="1280.40" stroke="#333" stroke-width="1.2" stroke-linecap="butt"/>
<line x1="1632.30" y1="1277.40" x2="1632.30" y2="1280.40" stroke="#333" stroke-width="1.2" stroke-linecap="butt"/>
<line x1="1355.60" y1="1299.70" x2="1740.00" y2="1301.00" stroke="#000" stroke-width="7.5" stroke-linecap="butt"/>
<polyline points="1715.80,1287.00 1737.50,1301.00 1715.80,1315.90" fill="none" stroke="#000" stroke-width="7.5" stroke-linecap="round" stroke-linejoin="miter"/>
<text transform="translate(1495.65,1347.37) scale(0.9548,1)" font-family="&quot;Liberation Sans&quot;, Arial, sans-serif" font-weight="bold" font-size="43.11" fill="#000" style="white-space:pre">CFSE</text>
<line x1="1586.10" y1="926.90" x2="1635.00" y2="926.90" stroke="#00b050" stroke-width="7.5" stroke-linecap="butt"/>
<text transform="translate(1647.62,937.30) scale(0.9701,1)" font-family="&quot;Liberation Sans&quot;, Arial, sans-serif" font-weight="normal" font-size="36.51" fill="#00b050" style="white-space:pre">WT</text>
<line x1="1587.70" y1="987.50" x2="1636.70" y2="987.50" stroke="#ff0000" stroke-width="7.8" stroke-linecap="butt"/>
<text transform="translate(1651.26,1000.63) scale(0.9705,1)" font-family="&quot;Liberation Sans&quot;, Arial, sans-serif" font-weight="normal" font-size="36.75" fill="#ff0000" style="white-space:pre">KO</text>
<line x1="441.10" y1="1373.70" x2="826.70" y2="1373.70" stroke="#999" stroke-width="1.6" stroke-linecap="butt"/>
<line x1="441.10" y1="1759.30" x2="826.70" y2="1759.30" stroke="#999" stroke-width="1.6" stroke-linecap="butt"/>
<polyline points="441.14,1758.82 517.95,1758.82 528.26,1757.78 534.71,1753.92 541.15,1749.02 547.59,1742.32 552.75,1736.65 559.19,1716.03 564.35,1705.72 570.79,1690.25 574.66,1677.36 577.75,1656.74 580.33,1636.12 583.68,1605.19 588.84,1600.03 593.22,1607.77 597.86,1616.79 601.72,1605.70 605.59,1574.26 609.46,1525.28 612.81,1503.37 615.90,1517.55 618.99,1556.21 622.35,1607.77 625.44,1641.79 628.02,1638.18 630.59,1618.08 633.95,1606.48 637.81,1620.65 641.68,1659.32 645.80,1687.67 650.70,1708.29 657.14,1711.39 662.30,1710.87 665.39,1717.32 669.26,1729.43 674.41,1742.32 680.86,1745.93 688.08,1745.93 698.39,1748.25 708.70,1748.25 716.95,1751.08 724.68,1754.18 730.61,1757.27 742.21,1758.82 826.75,1758.82" fill="none" stroke="#ff0000" stroke-width="2.3" stroke-linecap="round" stroke-linejoin="round"/>
<polyline points="441.14,1758.30 514.08,1757.78 520.53,1754.18 525.68,1750.82 533.42,1748.25 541.15,1740.51 546.82,1730.98 551.46,1716.03 555.33,1705.72 559.19,1685.09 563.83,1659.32 568.21,1643.85 574.66,1621.17 577.75,1629.68 581.10,1638.70 584.97,1607.77 588.06,1551.06 591.41,1509.81 594.25,1491.77 597.86,1514.97 601.72,1556.21 606.11,1576.83 611.26,1600.03 615.90,1576.83 620.54,1559.31 624.15,1576.83 627.76,1607.77 631.37,1641.27 639.10,1645.14 643.22,1660.61 647.35,1678.65 651.99,1700.56 657.14,1713.45 663.59,1723.76 668.74,1734.07 673.90,1742.32 680.86,1747.47 690.65,1752.11 700.96,1754.69 711.27,1755.21 729.32,1756.24 742.21,1757.27 757.67,1758.04 826.75,1758.30" fill="none" stroke="#00ff00" stroke-width="2.3" stroke-linecap="round" stroke-linejoin="round"/>
<line x1="826.70" y1="1372.90" x2="826.70" y2="1760.10" stroke="#333" stroke-width="1.3" stroke-linecap="butt"/>
<line x1="441.10" y1="1372.90" x2="441.10" y2="1760.10" stroke="#555" stroke-width="1.4" stroke-linecap="butt"/>
<line x1="436.40" y1="1401.60" x2="441.10" y2="1401.60" stroke="#222" stroke-width="1.4" stroke-linecap="butt"/>
<line x1="439.30" y1="1415.92" x2="441.10" y2="1415.92" stroke="#555" stroke-width="1.0" stroke-linecap="butt"/>
<line x1="439.30" y1="1430.24" x2="441.10" y2="1430.24" stroke="#555" stroke-width="1.0" stroke-linecap="butt"/>
<line x1="439.30" y1="1444.56" x2="441.10" y2="1444.56" stroke="#555" stroke-width="1.0" stroke-linecap="butt"/>
<line x1="439.30" y1="1458.88" x2="441.10" y2="1458.88" stroke="#555" stroke-width="1.0" stroke-linecap="butt"/>
<line x1="436.40" y1="1473.20" x2="441.10" y2="1473.20" stroke="#222" stroke-width="1.4" stroke-linecap="butt"/>
<line x1="439.30" y1="1487.48" x2="441.10" y2="1487.48" stroke="#555" stroke-width="1.0" stroke-linecap="butt"/>
<line x1="439.30" y1="1501.76" x2="441.10" y2="1501.76" stroke="#555" stroke-width="1.0" stroke-linecap="butt"/>
<line x1="439.30" y1="1516.04" x2="441.10" y2="1516.04" stroke="#555" stroke-width="1.0" stroke-linecap="butt"/>
<line x1="439.30" y1="1530.32" x2="441.10" y2="1530.32" stroke="#555" stroke-width="1.0" stroke-linecap="butt"/>
<line x1="436.40" y1="1544.60" x2="441.10" y2="1544.60" stroke="#222" stroke-width="1.4" stroke-linecap="butt"/>
<line x1="439.30" y1="1558.94" x2="441.10" y2="1558.94" stroke="#555" stroke-width="1.0" stroke-linecap="butt"/>
<line x1="439.30" y1="1573.28" x2="441.10" y2="1573.28" stroke="#555" stroke-width="1.0" stroke-linecap="butt"/>
<line x1="439.30" y1="1587.62" x2="441.10" y2="1587.62" stroke="#555" stroke-width="1.0" stroke-linecap="butt"/>
<line x1="439.30" y1="1601.96" x2="441.10" y2="1601.96" stroke="#555" stroke-width="1.0" stroke-linecap="butt"/>
<line x1="436.40" y1="1616.30" x2="441.10" y2="1616.30" stroke="#222" stroke-width="1.4" stroke-linecap="butt"/>
<line x1="439.30" y1="1630.48" x2="441.10" y2="1630.48" stroke="#555" stroke-width="1.0" stroke-linecap="butt"/>
<line x1="439.30" y1="1644.66" x2="441.10" y2="1644.66" stroke="#555" stroke-width="1.0" stroke-linecap="butt"/>
<line x1="439.30" y1="1658.84" x2="441.10" y2="1658.84" stroke="#555" stroke-width="1.0" stroke-linecap="butt"/>
<line x1="439.30" y1="1673.02" x2="441.10" y2="1673.02" stroke="#555" stroke-width="1.0" stroke-linecap="butt"/>
<line x1="436.40" y1="1687.20" x2="441.10" y2="1687.20" stroke="#222" stroke-width="1.4" stroke-linecap="butt"/>
<line x1="439.30" y1="1701.62" x2="441.10" y2="1701.62" stroke="#555" stroke-width="1.0" stroke-linecap="butt"/>
<line x1="439.30" y1="1716.04" x2="441.10" y2="1716.04" stroke="#555" stroke-width="1.0" stroke-linecap="butt"/>
<line x1="439.30" y1="1730.46" x2="441.10" y2="1730.46" stroke="#555" stroke-width="1.0" stroke-linecap="butt"/>
<line x1="439.30" y1="1744.88" x2="441.10" y2="1744.88" stroke="#555" stroke-width="1.0" stroke-linecap="butt"/>
<line x1="436.40" y1="1759.30" x2="441.10" y2="1759.30" stroke="#222" stroke-width="1.4" stroke-linecap="butt"/>
<line x1="439.30" y1="1387.28" x2="441.10" y2="1387.28" stroke="#555" stroke-width="1.0" stroke-linecap="butt"/>
<line x1="489.10" y1="1759.30" x2="489.10" y2="1762.30" stroke="#333" stroke-width="1.2" stroke-linecap="butt"/>
<line x1="633.40" y1="1759.30" x2="633.40" y2="1762.30" stroke="#333" stroke-width="1.2" stroke-linecap="butt"/>
<line x1="729.80" y1="1759.30" x2="729.80" y2="1762.30" stroke="#333" stroke-width="1.2" stroke-linecap="butt"/>
<line x1="438.00" y1="1775.30" x2="820.00" y2="1776.60" stroke="#000" stroke-width="7.5" stroke-linecap="butt"/>
<polyline points="796.80,1762.40 819.50,1776.60 796.80,1791.30" fill="none" stroke="#000" stroke-width="7.5" stroke-linecap="round" stroke-linejoin="miter"/>
<text transform="translate(576.06,1817.77) scale(0.9507,1)" font-family="&quot;Liberation Sans&quot;, Arial, sans-serif" font-weight="bold" font-size="43.25" fill="#000" style="white-space:pre">CFSE</text>
<line x1="695.80" y1="1411.70" x2="744.70" y2="1411.70" stroke="#00b050" stroke-width="7.5" stroke-linecap="butt"/>
<text transform="translate(757.42,1422.00) scale(0.9740,1)" font-family="&quot;Liberation Sans&quot;, Arial, sans-serif" font-weight="normal" font-size="36.36" fill="#00b050" style="white-space:pre">WT</text>
<line x1="697.20" y1="1460.70" x2="746.30" y2="1460.70" stroke="#ff0000" stroke-width="7.8" stroke-linecap="butt"/>
<text transform="translate(761.10,1473.53) scale(0.9618,1)" font-family="&quot;Liberation Sans&quot;, Arial, sans-serif" font-weight="normal" font-size="36.61" fill="#ff0000" style="white-space:pre">KO</text>
<line x1="1360.70" y1="1358.30" x2="1743.40" y2="1358.30" stroke="#999" stroke-width="1.6" stroke-linecap="butt"/>
<line x1="1360.70" y1="1742.50" x2="1743.40" y2="1742.50" stroke="#999" stroke-width="1.6" stroke-linecap="butt"/>
<polyline points="1360.74,1742.47 1410.25,1742.47 1415.41,1739.38 1420.57,1735.51 1425.72,1727.77 1430.88,1716.17 1436.04,1698.12 1441.20,1667.17 1446.35,1654.28 1451.51,1649.12 1455.38,1623.34 1459.25,1582.08 1463.12,1530.51 1466.98,1494.40 1470.85,1476.35 1474.72,1504.72 1478.33,1551.13 1481.17,1583.37 1485.03,1543.40 1488.90,1466.04 1492.25,1405.44 1495.35,1401.57 1497.93,1427.36 1501.79,1499.56 1505.66,1582.08 1509.01,1658.15 1512.37,1633.65 1515.98,1556.29 1519.07,1524.06 1521.39,1530.51 1525.26,1582.08 1528.87,1646.54 1531.45,1703.27 1535.32,1707.14 1539.19,1690.38 1543.05,1674.91 1545.63,1671.04 1548.47,1677.49 1552.08,1692.96 1555.95,1718.75 1559.81,1729.06 1564.97,1731.64 1568.84,1727.77 1572.71,1722.61 1575.29,1720.04 1579.15,1726.48 1584.31,1734.22 1590.76,1739.38 1595.92,1740.67 1601.07,1738.09 1608.81,1738.09 1613.97,1739.38 1617.83,1742.47 1743.41,1742.47" fill="none" stroke="#ff0000" stroke-width="2.3" stroke-linecap="round" stroke-linejoin="round"/>
<polyline points="1360.74,1741.95 1407.67,1741.44 1412.83,1736.80 1417.99,1729.58 1421.86,1721.33 1425.72,1703.27 1430.88,1672.33 1436.04,1654.28 1439.91,1628.49 1445.06,1576.92 1448.16,1568.67 1451.51,1546.49 1454.61,1547.27 1457.96,1539.53 1461.31,1547.27 1464.40,1530.51 1468.27,1494.40 1472.14,1447.99 1475.75,1388.68 1478.59,1382.23 1481.42,1401.57 1485.03,1473.78 1488.39,1556.29 1491.48,1598.07 1495.35,1530.51 1499.22,1466.04 1502.57,1445.93 1504.63,1458.30 1507.47,1504.72 1510.82,1582.08 1514.69,1659.44 1517.78,1686.51 1521.13,1672.33 1525.52,1633.65 1530.16,1609.15 1534.03,1633.65 1538.15,1674.91 1541.76,1718.75 1545.89,1723.90 1550.79,1717.46 1554.66,1713.59 1558.78,1717.46 1564.97,1727.00 1572.71,1736.80 1577.86,1738.09 1583.02,1736.28 1588.70,1736.28 1593.85,1738.09 1599.01,1739.89 1603.65,1740.67 1629.44,1741.44 1655.22,1741.95 1743.41,1741.95" fill="none" stroke="#00ff00" stroke-width="2.3" stroke-linecap="round" stroke-linejoin="round"/>
<line x1="1743.40" y1="1357.50" x2="1743.40" y2="1743.30" stroke="#333" stroke-width="1.3" stroke-linecap="butt"/>
<line x1="1360.70" y1="1357.50" x2="1360.70" y2="1743.30" stroke="#333" stroke-width="1.4" stroke-linecap="butt"/>
<line x1="1354.80" y1="1419.60" x2="1360.70" y2="1419.60" stroke="#222" stroke-width="1.4" stroke-linecap="butt"/>
<line x1="1358.90" y1="1435.72" x2="1360.70" y2="1435.72" stroke="#555" stroke-width="1.0" stroke-linecap="butt"/>
<line x1="1358.90" y1="1451.85" x2="1360.70" y2="1451.85" stroke="#555" stroke-width="1.0" stroke-linecap="butt"/>
<line x1="1358.90" y1="1467.97" x2="1360.70" y2="1467.97" stroke="#555" stroke-width="1.0" stroke-linecap="butt"/>
<line x1="1354.80" y1="1484.10" x2="1360.70" y2="1484.10" stroke="#222" stroke-width="1.4" stroke-linecap="butt"/>
<line x1="1358.90" y1="1500.35" x2="1360.70" y2="1500.35" stroke="#555" stroke-width="1.0" stroke-linecap="butt"/>
<line x1="1358.90" y1="1516.60" x2="1360.70" y2="1516.60" stroke="#555" stroke-width="1.0" stroke-linecap="butt"/>
<line x1="1358.90" y1="1532.85" x2="1360.70" y2="1532.85" stroke="#555" stroke-width="1.0" stroke-linecap="butt"/>
<line x1="1354.80" y1="1549.10" x2="1360.70" y2="1549.10" stroke="#222" stroke-width="1.4" stroke-linecap="butt"/>
<line x1="1358.90" y1="1565.20" x2="1360.70" y2="1565.20" stroke="#555" stroke-width="1.0" stroke-linecap="butt"/>
<line x1="1358.90" y1="1581.30" x2="1360.70" y2="1581.30" stroke="#555" stroke-width="1.0" stroke-linecap="butt"/>
<line x1="1358.90" y1="1597.40" x2="1360.70" y2="1597.40" stroke="#555" stroke-width="1.0" stroke-linecap="butt"/>
<line x1="1354.80" y1="1613.50" x2="1360.70" y2="1613.50" stroke="#222" stroke-width="1.4" stroke-linecap="butt"/>
<line x1="1358.90" y1="1629.62" x2="1360.70" y2="1629.62" stroke="#555" stroke-width="1.0" stroke-linecap="butt"/>
<line x1="1358.90" y1="1645.75" x2="1360.70" y2="1645.75" stroke="#555" stroke-width="1.0" stroke-linecap="butt"/>
<line x1="1358.90" y1="1661.88" x2="1360.70" y2="1661.88" stroke="#555" stroke-width="1.0" stroke-linecap="butt"/>
<line x1="1354.80" y1="1678.00" x2="1360.70" y2="1678.00" stroke="#222" stroke-width="1.4" stroke-linecap="butt"/>
<line x1="1358.90" y1="1694.12" x2="1360.70" y2="1694.12" stroke="#555" stroke-width="1.0" stroke-linecap="butt"/>
<line x1="1358.90" y1="1710.25" x2="1360.70" y2="1710.25" stroke="#555" stroke-width="1.0" stroke-linecap="butt"/>
<line x1="1358.90" y1="1726.38" x2="1360.70" y2="1726.38" stroke="#555" stroke-width="1.0" stroke-linecap="butt"/>
<line x1="1354.80" y1="1742.50" x2="1360.70" y2="1742.50" stroke="#222" stroke-width="1.4" stroke-linecap="butt"/>
<line x1="1358.90" y1="1403.47" x2="1360.70" y2="1403.47" stroke="#555" stroke-width="1.0" stroke-linecap="butt"/>
<line x1="1358.90" y1="1387.35" x2="1360.70" y2="1387.35" stroke="#555" stroke-width="1.0" stroke-linecap="butt"/>
<line x1="1358.90" y1="1371.22" x2="1360.70" y2="1371.22" stroke="#555" stroke-width="1.0" stroke-linecap="butt"/>
<line x1="1409.00" y1="1742.50" x2="1409.00" y2="1745.50" stroke="#333" stroke-width="1.2" stroke-linecap="butt"/>
<line x1="1552.60" y1="1742.50" x2="1552.60" y2="1745.50" stroke="#333" stroke-width="1.2" stroke-linecap="butt"/>
<line x1="1647.50" y1="1742.50" x2="1647.50" y2="1745.50" stroke="#333" stroke-width="1.2" stroke-linecap="butt"/>
<line x1="1352.20" y1="1761.30" x2="1735.00" y2="1762.60" stroke="#000" stroke-width="7.5" stroke-linecap="butt"/>
<polyline points="1712.00,1749.20 1735.50,1762.60 1712.00,1776.00" fill="none" stroke="#000" stroke-width="7.5" stroke-linecap="round" stroke-linejoin="miter"/>
<text transform="translate(1458.75,1803.67) scale(0.9525,1)" font-family="&quot;Liberation Sans&quot;, Arial, sans-serif" font-weight="bold" font-size="43.25" fill="#000" style="white-space:pre">CFSE</text>
<line x1="1613.20" y1="1405.00" x2="1662.10" y2="1405.00" stroke="#00b050" stroke-width="7.5" stroke-linecap="butt"/>
<text transform="translate(1674.82,1415.30) scale(0.9624,1)" font-family="&quot;Liberation Sans&quot;, Arial, sans-serif" font-weight="normal" font-size="36.80" fill="#00b050" style="white-space:pre">WT</text>
<line x1="1614.80" y1="1454.00" x2="1664.20" y2="1454.00" stroke="#ff0000" stroke-width="7.8" stroke-linecap="butt"/>
<text transform="translate(1678.06,1467.23) scale(0.9594,1)" font-family="&quot;Liberation Sans&quot;, Arial, sans-serif" font-weight="normal" font-size="37.17" fill="#ff0000" style="white-space:pre">KO</text>
</svg>
</body></html>
